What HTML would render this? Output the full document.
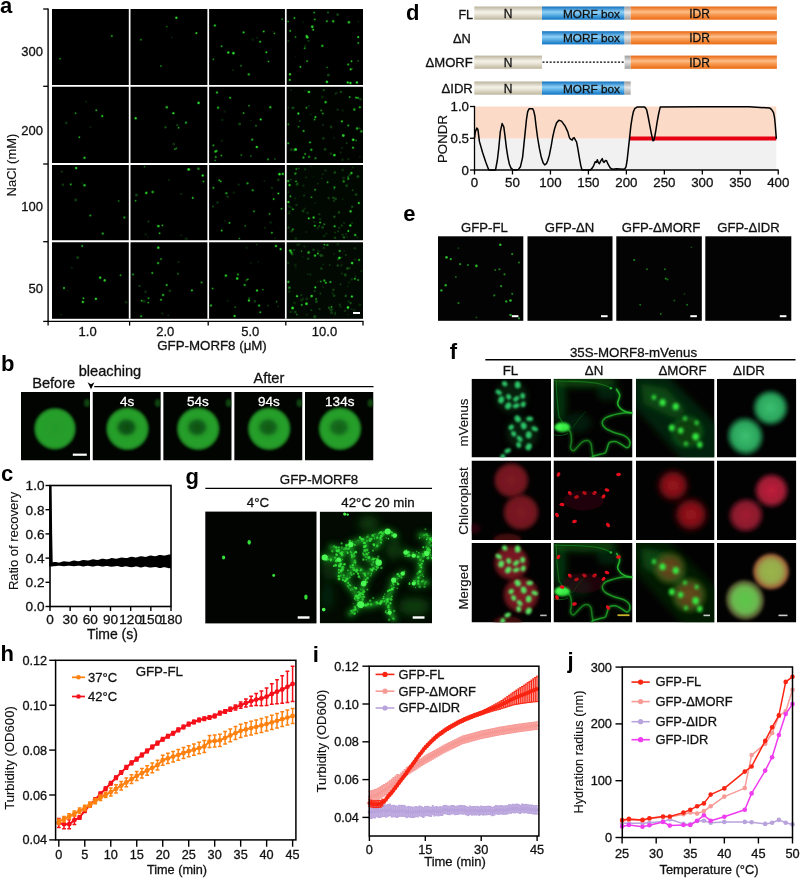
<!DOCTYPE html>
<html lang="en"><head><meta charset="utf-8"><title>Figure</title>
<style>
html,body{margin:0;padding:0;background:#fff;}
body{width:800px;height:878px;overflow:hidden;font-family:'Liberation Sans',Arial,sans-serif;}
svg{display:block;}
svg text{font-family:'Liberation Sans',Arial,sans-serif;}
</style></head><body>
<svg width="800" height="878" viewBox="0 0 800 878">

<defs>
<filter id="b05" x="-20%" y="-20%" width="140%" height="140%"><feGaussianBlur stdDeviation="0.5"/></filter>
<filter id="b1" x="-20%" y="-20%" width="140%" height="140%"><feGaussianBlur stdDeviation="1"/></filter>
<filter id="b15" x="-20%" y="-20%" width="140%" height="140%"><feGaussianBlur stdDeviation="1.5"/></filter>
<filter id="b2" x="-30%" y="-30%" width="160%" height="160%"><feGaussianBlur stdDeviation="2"/></filter>
<filter id="b3" x="-30%" y="-30%" width="160%" height="160%"><feGaussianBlur stdDeviation="3"/></filter>
<filter id="b5" x="-50%" y="-50%" width="200%" height="200%"><feGaussianBlur stdDeviation="5"/></filter>
<linearGradient id="gN" x1="0" y1="0" x2="0" y2="1"><stop offset="0" stop-color="#b9b19a"/><stop offset="0.4" stop-color="#f3f0e6"/><stop offset="0.55" stop-color="#eeeadd"/><stop offset="1" stop-color="#bdb59d"/></linearGradient>
<linearGradient id="gM" x1="0" y1="0" x2="0" y2="1"><stop offset="0" stop-color="#0f6fbf"/><stop offset="0.42" stop-color="#8fd0f5"/><stop offset="0.55" stop-color="#6fbdec"/><stop offset="1" stop-color="#0f74c4"/></linearGradient>
<linearGradient id="gI" x1="0" y1="0" x2="0" y2="1"><stop offset="0" stop-color="#e9650f"/><stop offset="0.42" stop-color="#fdc08a"/><stop offset="0.55" stop-color="#f9a35e"/><stop offset="1" stop-color="#ea6a12"/></linearGradient>
<linearGradient id="gG" x1="0" y1="0" x2="0" y2="1"><stop offset="0" stop-color="#9a9a9a"/><stop offset="0.45" stop-color="#e6e6e6"/><stop offset="1" stop-color="#9e9e9e"/></linearGradient>
</defs>

<g id="panel-a">
<text x="0" y="12.5" font-size="22" text-anchor="start" font-weight="bold" fill="#000">a</text>
<rect x="52" y="9" width="311" height="309.8" fill="#000"/>
<g filter="url(#b05)"><circle cx="60.1" cy="58.7" r="1.3" fill="#18a018" opacity="0.24"/><circle cx="60.1" cy="58.7" r="0.8" fill="#30e830" opacity="0.53"/><circle cx="111.8" cy="36.0" r="1.5" fill="#18a018" opacity="0.22"/><circle cx="111.8" cy="36.0" r="1.0" fill="#30e830" opacity="0.49"/></g>
<g filter="url(#b05)"><circle cx="171.7" cy="37.2" r="0.8" fill="#2fbf2f" opacity="0.25"/><circle cx="140.9" cy="39.7" r="1.2" fill="#18a018" opacity="0.31"/><circle cx="140.9" cy="39.7" r="0.6" fill="#30e830" opacity="0.69"/><circle cx="166.8" cy="26.6" r="1.2" fill="#18a018" opacity="0.22"/><circle cx="166.8" cy="26.6" r="0.6" fill="#30e830" opacity="0.50"/><circle cx="196.4" cy="33.1" r="1.4" fill="#18a018" opacity="0.41"/><circle cx="196.4" cy="33.1" r="0.9" fill="#30e830" opacity="0.90"/><circle cx="160.9" cy="66.0" r="1.2" fill="#18a018" opacity="0.26"/><circle cx="160.9" cy="66.0" r="0.7" fill="#30e830" opacity="0.57"/><circle cx="176.4" cy="17.8" r="1.5" fill="#18a018" opacity="0.44"/><circle cx="176.4" cy="17.8" r="1.0" fill="#30e830" opacity="0.97"/></g>
<g filter="url(#b05)"><circle cx="252.6" cy="39.5" r="1.6" fill="#2fbf2f" opacity="0.13"/><circle cx="273.2" cy="31.6" r="0.9" fill="#2fbf2f" opacity="0.15"/><circle cx="233.0" cy="70.1" r="0.9" fill="#2fbf2f" opacity="0.27"/><circle cx="257.1" cy="37.7" r="1.2" fill="#2fbf2f" opacity="0.14"/><circle cx="214.9" cy="25.5" r="1.6" fill="#18a018" opacity="0.35"/><circle cx="214.9" cy="25.5" r="1.0" fill="#30e830" opacity="0.78"/><circle cx="260.2" cy="41.7" r="1.5" fill="#18a018" opacity="0.32"/><circle cx="260.2" cy="41.7" r="0.9" fill="#30e830" opacity="0.70"/><circle cx="233.4" cy="53.2" r="1.7" fill="#18a018" opacity="0.44"/><circle cx="233.4" cy="53.2" r="1.1" fill="#30e830" opacity="0.97"/><circle cx="243.6" cy="32.4" r="1.4" fill="#18a018" opacity="0.37"/><circle cx="243.6" cy="32.4" r="0.9" fill="#30e830" opacity="0.82"/><circle cx="268.5" cy="61.5" r="1.2" fill="#18a018" opacity="0.38"/><circle cx="268.5" cy="61.5" r="0.6" fill="#30e830" opacity="0.84"/><circle cx="228.3" cy="52.4" r="1.5" fill="#18a018" opacity="0.45"/><circle cx="228.3" cy="52.4" r="1.0" fill="#30e830" opacity="1.00"/><circle cx="248.8" cy="74.4" r="1.6" fill="#18a018" opacity="0.27"/><circle cx="248.8" cy="74.4" r="1.1" fill="#30e830" opacity="0.61"/><circle cx="263.7" cy="31.5" r="1.4" fill="#18a018" opacity="0.37"/><circle cx="263.7" cy="31.5" r="0.8" fill="#30e830" opacity="0.82"/><circle cx="282.1" cy="19.1" r="1.2" fill="#18a018" opacity="0.32"/><circle cx="282.1" cy="19.1" r="0.6" fill="#30e830" opacity="0.70"/><circle cx="241.0" cy="65.8" r="1.3" fill="#18a018" opacity="0.23"/><circle cx="241.0" cy="65.8" r="0.7" fill="#30e830" opacity="0.51"/><circle cx="221.6" cy="46.2" r="1.2" fill="#18a018" opacity="0.39"/><circle cx="221.6" cy="46.2" r="0.6" fill="#30e830" opacity="0.87"/><circle cx="213.4" cy="59.3" r="1.2" fill="#18a018" opacity="0.26"/><circle cx="213.4" cy="59.3" r="0.7" fill="#30e830" opacity="0.59"/><circle cx="266.3" cy="52.3" r="1.4" fill="#18a018" opacity="0.42"/><circle cx="266.3" cy="52.3" r="0.8" fill="#30e830" opacity="0.93"/><circle cx="274.4" cy="33.4" r="1.2" fill="#18a018" opacity="0.31"/><circle cx="274.4" cy="33.4" r="0.6" fill="#30e830" opacity="0.70"/></g>
<g filter="url(#b05)"><circle cx="328.4" cy="75.0" r="1.5" fill="#2fbf2f" opacity="0.34"/><circle cx="308.5" cy="40.8" r="1.1" fill="#2fbf2f" opacity="0.34"/><circle cx="358.4" cy="21.5" r="0.9" fill="#2fbf2f" opacity="0.18"/><circle cx="305.2" cy="45.9" r="1.3" fill="#2fbf2f" opacity="0.19"/><circle cx="288.4" cy="41.1" r="1.1" fill="#2fbf2f" opacity="0.26"/><circle cx="358.1" cy="60.9" r="1.2" fill="#2fbf2f" opacity="0.27"/><circle cx="337.7" cy="14.4" r="1.5" fill="#2fbf2f" opacity="0.31"/><circle cx="352.3" cy="68.7" r="1.1" fill="#2fbf2f" opacity="0.22"/><circle cx="295.7" cy="56.8" r="0.8" fill="#2fbf2f" opacity="0.14"/><circle cx="303.4" cy="22.3" r="1.1" fill="#2fbf2f" opacity="0.13"/><circle cx="288.1" cy="21.5" r="1.3" fill="#18a018" opacity="0.26"/><circle cx="288.1" cy="21.5" r="0.7" fill="#30e830" opacity="0.57"/><circle cx="295.5" cy="37.0" r="1.3" fill="#18a018" opacity="0.25"/><circle cx="295.5" cy="37.0" r="0.7" fill="#30e830" opacity="0.56"/><circle cx="290.0" cy="74.3" r="1.5" fill="#18a018" opacity="0.43"/><circle cx="290.0" cy="74.3" r="1.0" fill="#30e830" opacity="0.95"/><circle cx="333.2" cy="21.3" r="1.7" fill="#18a018" opacity="0.32"/><circle cx="333.2" cy="21.3" r="1.1" fill="#30e830" opacity="0.71"/><circle cx="306.6" cy="35.9" r="1.5" fill="#18a018" opacity="0.40"/><circle cx="306.6" cy="35.9" r="1.0" fill="#30e830" opacity="0.89"/><circle cx="314.8" cy="19.5" r="1.2" fill="#18a018" opacity="0.37"/><circle cx="314.8" cy="19.5" r="0.7" fill="#30e830" opacity="0.81"/><circle cx="350.4" cy="83.0" r="1.7" fill="#18a018" opacity="0.40"/><circle cx="350.4" cy="83.0" r="1.1" fill="#30e830" opacity="0.88"/><circle cx="322.3" cy="45.8" r="1.6" fill="#18a018" opacity="0.32"/><circle cx="322.3" cy="45.8" r="1.1" fill="#30e830" opacity="0.71"/><circle cx="294.4" cy="18.0" r="1.3" fill="#18a018" opacity="0.40"/><circle cx="294.4" cy="18.0" r="0.7" fill="#30e830" opacity="0.88"/><circle cx="313.2" cy="29.8" r="1.3" fill="#18a018" opacity="0.40"/><circle cx="313.2" cy="29.8" r="0.8" fill="#30e830" opacity="0.89"/><circle cx="348.9" cy="22.3" r="1.7" fill="#18a018" opacity="0.30"/><circle cx="348.9" cy="22.3" r="1.2" fill="#30e830" opacity="0.67"/><circle cx="289.8" cy="79.9" r="1.4" fill="#18a018" opacity="0.44"/><circle cx="289.8" cy="79.9" r="0.8" fill="#30e830" opacity="0.97"/><circle cx="326.9" cy="21.2" r="1.6" fill="#18a018" opacity="0.24"/><circle cx="326.9" cy="21.2" r="1.0" fill="#30e830" opacity="0.54"/><circle cx="328.0" cy="12.5" r="1.2" fill="#18a018" opacity="0.24"/><circle cx="328.0" cy="12.5" r="0.7" fill="#30e830" opacity="0.53"/><circle cx="326.9" cy="81.9" r="1.7" fill="#18a018" opacity="0.40"/><circle cx="326.9" cy="81.9" r="1.1" fill="#30e830" opacity="0.89"/><circle cx="351.5" cy="61.3" r="1.2" fill="#18a018" opacity="0.41"/><circle cx="351.5" cy="61.3" r="0.7" fill="#30e830" opacity="0.90"/><circle cx="307.3" cy="37.3" r="1.7" fill="#18a018" opacity="0.37"/><circle cx="307.3" cy="37.3" r="1.2" fill="#30e830" opacity="0.81"/><circle cx="300.4" cy="66.9" r="1.4" fill="#18a018" opacity="0.34"/><circle cx="300.4" cy="66.9" r="0.8" fill="#30e830" opacity="0.75"/><circle cx="327.2" cy="67.4" r="1.2" fill="#18a018" opacity="0.21"/><circle cx="327.2" cy="67.4" r="0.7" fill="#30e830" opacity="0.46"/><circle cx="312.3" cy="26.8" r="1.7" fill="#18a018" opacity="0.36"/><circle cx="312.3" cy="26.8" r="1.2" fill="#30e830" opacity="0.81"/><circle cx="347.7" cy="82.4" r="1.5" fill="#18a018" opacity="0.43"/><circle cx="347.7" cy="82.4" r="0.9" fill="#30e830" opacity="0.96"/><circle cx="350.7" cy="69.3" r="1.4" fill="#18a018" opacity="0.42"/><circle cx="350.7" cy="69.3" r="0.9" fill="#30e830" opacity="0.93"/><circle cx="348.2" cy="64.5" r="1.6" fill="#18a018" opacity="0.25"/><circle cx="348.2" cy="64.5" r="1.1" fill="#30e830" opacity="0.57"/><circle cx="304.7" cy="48.3" r="1.3" fill="#18a018" opacity="0.28"/><circle cx="304.7" cy="48.3" r="0.8" fill="#30e830" opacity="0.61"/><circle cx="314.2" cy="12.6" r="1.3" fill="#18a018" opacity="0.35"/><circle cx="314.2" cy="12.6" r="0.7" fill="#30e830" opacity="0.77"/><circle cx="290.2" cy="30.9" r="1.3" fill="#18a018" opacity="0.31"/><circle cx="290.2" cy="30.9" r="0.8" fill="#30e830" opacity="0.68"/><circle cx="307.1" cy="61.1" r="1.2" fill="#18a018" opacity="0.43"/><circle cx="307.1" cy="61.1" r="0.7" fill="#30e830" opacity="0.95"/><circle cx="358.3" cy="43.1" r="1.4" fill="#18a018" opacity="0.32"/><circle cx="358.3" cy="43.1" r="0.8" fill="#30e830" opacity="0.70"/><circle cx="356.9" cy="82.6" r="1.5" fill="#18a018" opacity="0.43"/><circle cx="356.9" cy="82.6" r="1.0" fill="#30e830" opacity="0.95"/><circle cx="358.2" cy="37.1" r="1.4" fill="#18a018" opacity="0.43"/><circle cx="358.2" cy="37.1" r="0.9" fill="#30e830" opacity="0.95"/></g>
<g filter="url(#b05)"><circle cx="90.5" cy="127.2" r="1.2" fill="#2fbf2f" opacity="0.12"/><circle cx="86.0" cy="101.7" r="0.8" fill="#2fbf2f" opacity="0.32"/><circle cx="66.2" cy="123.0" r="1.4" fill="#2fbf2f" opacity="0.26"/><circle cx="96.3" cy="110.3" r="1.3" fill="#18a018" opacity="0.33"/><circle cx="96.3" cy="110.3" r="0.8" fill="#30e830" opacity="0.74"/><circle cx="102.2" cy="116.1" r="1.5" fill="#18a018" opacity="0.40"/><circle cx="102.2" cy="116.1" r="0.9" fill="#30e830" opacity="0.88"/><circle cx="79.3" cy="137.3" r="1.2" fill="#18a018" opacity="0.34"/><circle cx="79.3" cy="137.3" r="0.7" fill="#30e830" opacity="0.76"/><circle cx="75.6" cy="113.2" r="1.3" fill="#18a018" opacity="0.27"/><circle cx="75.6" cy="113.2" r="0.7" fill="#30e830" opacity="0.60"/><circle cx="84.5" cy="157.8" r="1.6" fill="#18a018" opacity="0.33"/><circle cx="84.5" cy="157.8" r="1.1" fill="#30e830" opacity="0.73"/></g>
<g filter="url(#b05)"><circle cx="173.6" cy="143.9" r="1.5" fill="#2fbf2f" opacity="0.23"/><circle cx="177.3" cy="125.3" r="1.2" fill="#2fbf2f" opacity="0.29"/><circle cx="165.5" cy="127.3" r="1.2" fill="#2fbf2f" opacity="0.36"/><circle cx="135.7" cy="118.3" r="1.6" fill="#18a018" opacity="0.42"/><circle cx="135.7" cy="118.3" r="1.0" fill="#30e830" opacity="0.93"/><circle cx="166.8" cy="107.3" r="1.7" fill="#18a018" opacity="0.27"/><circle cx="166.8" cy="107.3" r="1.2" fill="#30e830" opacity="0.59"/><circle cx="173.4" cy="113.2" r="1.5" fill="#18a018" opacity="0.44"/><circle cx="173.4" cy="113.2" r="0.9" fill="#30e830" opacity="0.97"/><circle cx="186.0" cy="122.7" r="1.7" fill="#18a018" opacity="0.24"/><circle cx="186.0" cy="122.7" r="1.1" fill="#30e830" opacity="0.53"/><circle cx="178.6" cy="127.8" r="1.2" fill="#18a018" opacity="0.31"/><circle cx="178.6" cy="127.8" r="0.7" fill="#30e830" opacity="0.69"/><circle cx="176.4" cy="148.3" r="1.2" fill="#18a018" opacity="0.26"/><circle cx="176.4" cy="148.3" r="0.6" fill="#30e830" opacity="0.58"/><circle cx="174.9" cy="149.1" r="1.2" fill="#18a018" opacity="0.37"/><circle cx="174.9" cy="149.1" r="0.6" fill="#30e830" opacity="0.82"/><circle cx="198.6" cy="102.9" r="1.6" fill="#18a018" opacity="0.42"/><circle cx="198.6" cy="102.9" r="1.1" fill="#30e830" opacity="0.94"/></g>
<g filter="url(#b05)"><circle cx="221.8" cy="140.7" r="1.3" fill="#2fbf2f" opacity="0.16"/><circle cx="274.9" cy="159.1" r="1.0" fill="#2fbf2f" opacity="0.36"/><circle cx="239.6" cy="124.0" r="1.6" fill="#2fbf2f" opacity="0.33"/><circle cx="222.3" cy="119.9" r="1.2" fill="#2fbf2f" opacity="0.20"/><circle cx="224.8" cy="111.6" r="1.4" fill="#2fbf2f" opacity="0.12"/><circle cx="250.9" cy="120.5" r="0.8" fill="#2fbf2f" opacity="0.20"/><circle cx="256.0" cy="125.8" r="1.2" fill="#18a018" opacity="0.24"/><circle cx="256.0" cy="125.8" r="0.7" fill="#30e830" opacity="0.54"/><circle cx="215.2" cy="160.4" r="1.2" fill="#18a018" opacity="0.25"/><circle cx="215.2" cy="160.4" r="0.6" fill="#30e830" opacity="0.56"/><circle cx="268.1" cy="159.4" r="1.3" fill="#18a018" opacity="0.28"/><circle cx="268.1" cy="159.4" r="0.8" fill="#30e830" opacity="0.62"/><circle cx="218.1" cy="107.7" r="1.6" fill="#18a018" opacity="0.27"/><circle cx="218.1" cy="107.7" r="1.1" fill="#30e830" opacity="0.61"/><circle cx="213.4" cy="145.3" r="1.5" fill="#18a018" opacity="0.25"/><circle cx="213.4" cy="145.3" r="0.9" fill="#30e830" opacity="0.55"/><circle cx="230.2" cy="97.8" r="1.4" fill="#18a018" opacity="0.21"/><circle cx="230.2" cy="97.8" r="0.8" fill="#30e830" opacity="0.46"/><circle cx="241.3" cy="155.0" r="1.3" fill="#18a018" opacity="0.21"/><circle cx="241.3" cy="155.0" r="0.8" fill="#30e830" opacity="0.46"/><circle cx="270.3" cy="107.2" r="1.6" fill="#18a018" opacity="0.34"/><circle cx="270.3" cy="107.2" r="1.0" fill="#30e830" opacity="0.75"/><circle cx="221.4" cy="155.6" r="1.3" fill="#18a018" opacity="0.32"/><circle cx="221.4" cy="155.6" r="0.7" fill="#30e830" opacity="0.71"/><circle cx="252.2" cy="139.6" r="1.7" fill="#18a018" opacity="0.23"/><circle cx="252.2" cy="139.6" r="1.2" fill="#30e830" opacity="0.51"/><circle cx="217.0" cy="92.5" r="1.6" fill="#18a018" opacity="0.31"/><circle cx="217.0" cy="92.5" r="1.1" fill="#30e830" opacity="0.69"/><circle cx="260.7" cy="119.4" r="1.4" fill="#18a018" opacity="0.41"/><circle cx="260.7" cy="119.4" r="0.9" fill="#30e830" opacity="0.91"/><circle cx="215.8" cy="157.0" r="1.4" fill="#18a018" opacity="0.33"/><circle cx="215.8" cy="157.0" r="0.8" fill="#30e830" opacity="0.73"/><circle cx="256.8" cy="147.0" r="1.6" fill="#18a018" opacity="0.45"/><circle cx="256.8" cy="147.0" r="1.0" fill="#30e830" opacity="0.99"/><circle cx="216.6" cy="151.0" r="1.4" fill="#18a018" opacity="0.41"/><circle cx="216.6" cy="151.0" r="0.8" fill="#30e830" opacity="0.91"/><circle cx="215.4" cy="151.5" r="1.6" fill="#18a018" opacity="0.36"/><circle cx="215.4" cy="151.5" r="1.0" fill="#30e830" opacity="0.80"/><circle cx="243.6" cy="113.1" r="1.4" fill="#18a018" opacity="0.29"/><circle cx="243.6" cy="113.1" r="0.8" fill="#30e830" opacity="0.64"/><circle cx="250.9" cy="156.1" r="1.2" fill="#18a018" opacity="0.23"/><circle cx="250.9" cy="156.1" r="0.6" fill="#30e830" opacity="0.52"/><circle cx="230.1" cy="97.8" r="1.2" fill="#18a018" opacity="0.39"/><circle cx="230.1" cy="97.8" r="0.6" fill="#30e830" opacity="0.86"/><circle cx="249.0" cy="105.8" r="1.3" fill="#18a018" opacity="0.24"/><circle cx="249.0" cy="105.8" r="0.8" fill="#30e830" opacity="0.54"/></g>
<rect x="286.6" y="86.8" width="76.4" height="76.2" fill="#1c9a1c" opacity="0.02"/>
<g filter="url(#b05)"><circle cx="294.3" cy="149.9" r="1.5" fill="#2fbf2f" opacity="0.29"/><circle cx="308.8" cy="106.0" r="1.0" fill="#2fbf2f" opacity="0.23"/><circle cx="299.7" cy="120.9" r="1.0" fill="#2fbf2f" opacity="0.36"/><circle cx="359.5" cy="128.3" r="1.0" fill="#2fbf2f" opacity="0.36"/><circle cx="310.8" cy="114.4" r="0.8" fill="#2fbf2f" opacity="0.22"/><circle cx="322.9" cy="125.1" r="1.0" fill="#2fbf2f" opacity="0.25"/><circle cx="288.5" cy="107.6" r="0.9" fill="#2fbf2f" opacity="0.22"/><circle cx="291.2" cy="89.9" r="1.0" fill="#2fbf2f" opacity="0.18"/><circle cx="331.1" cy="127.0" r="1.4" fill="#2fbf2f" opacity="0.28"/><circle cx="340.7" cy="152.6" r="1.1" fill="#2fbf2f" opacity="0.20"/><circle cx="360.4" cy="99.2" r="1.4" fill="#2fbf2f" opacity="0.28"/><circle cx="291.3" cy="149.4" r="1.5" fill="#2fbf2f" opacity="0.28"/><circle cx="342.0" cy="147.8" r="0.9" fill="#2fbf2f" opacity="0.25"/><circle cx="325.1" cy="149.4" r="1.4" fill="#2fbf2f" opacity="0.33"/><circle cx="331.0" cy="153.7" r="1.3" fill="#2fbf2f" opacity="0.29"/><circle cx="305.0" cy="90.6" r="0.9" fill="#2fbf2f" opacity="0.21"/><circle cx="295.8" cy="149.5" r="1.2" fill="#2fbf2f" opacity="0.28"/><circle cx="334.1" cy="138.1" r="1.2" fill="#2fbf2f" opacity="0.12"/><circle cx="346.7" cy="143.1" r="1.2" fill="#2fbf2f" opacity="0.25"/><circle cx="336.5" cy="93.1" r="1.4" fill="#2fbf2f" opacity="0.18"/><circle cx="293.6" cy="107.7" r="1.4" fill="#2fbf2f" opacity="0.17"/><circle cx="342.4" cy="159.7" r="1.2" fill="#2fbf2f" opacity="0.22"/><circle cx="323.3" cy="138.3" r="1.4" fill="#2fbf2f" opacity="0.27"/><circle cx="335.3" cy="94.0" r="0.9" fill="#2fbf2f" opacity="0.18"/><circle cx="342.7" cy="110.6" r="1.3" fill="#2fbf2f" opacity="0.12"/><circle cx="292.6" cy="108.0" r="1.3" fill="#2fbf2f" opacity="0.29"/><circle cx="337.7" cy="109.6" r="1.2" fill="#2fbf2f" opacity="0.24"/><circle cx="322.3" cy="97.0" r="1.5" fill="#2fbf2f" opacity="0.17"/><circle cx="359.9" cy="156.8" r="0.8" fill="#2fbf2f" opacity="0.23"/><circle cx="348.3" cy="159.2" r="1.2" fill="#2fbf2f" opacity="0.19"/><circle cx="303.5" cy="157.5" r="1.5" fill="#18a018" opacity="0.28"/><circle cx="303.5" cy="157.5" r="1.0" fill="#30e830" opacity="0.62"/><circle cx="303.6" cy="130.9" r="1.5" fill="#18a018" opacity="0.30"/><circle cx="303.6" cy="130.9" r="0.9" fill="#30e830" opacity="0.67"/><circle cx="298.5" cy="126.7" r="1.3" fill="#18a018" opacity="0.24"/><circle cx="298.5" cy="126.7" r="0.7" fill="#30e830" opacity="0.54"/><circle cx="358.0" cy="98.0" r="1.3" fill="#18a018" opacity="0.43"/><circle cx="358.0" cy="98.0" r="0.7" fill="#30e830" opacity="0.95"/><circle cx="348.3" cy="125.5" r="1.4" fill="#18a018" opacity="0.26"/><circle cx="348.3" cy="125.5" r="0.9" fill="#30e830" opacity="0.57"/><circle cx="353.2" cy="139.8" r="1.7" fill="#18a018" opacity="0.45"/><circle cx="353.2" cy="139.8" r="1.1" fill="#30e830" opacity="1.00"/><circle cx="305.1" cy="154.0" r="1.4" fill="#18a018" opacity="0.24"/><circle cx="305.1" cy="154.0" r="0.9" fill="#30e830" opacity="0.53"/><circle cx="323.8" cy="90.1" r="1.3" fill="#18a018" opacity="0.22"/><circle cx="323.8" cy="90.1" r="0.7" fill="#30e830" opacity="0.50"/><circle cx="288.4" cy="124.3" r="1.4" fill="#18a018" opacity="0.23"/><circle cx="288.4" cy="124.3" r="0.8" fill="#30e830" opacity="0.50"/><circle cx="321.2" cy="110.4" r="1.3" fill="#18a018" opacity="0.27"/><circle cx="321.2" cy="110.4" r="0.7" fill="#30e830" opacity="0.59"/><circle cx="298.4" cy="113.5" r="1.5" fill="#18a018" opacity="0.42"/><circle cx="298.4" cy="113.5" r="0.9" fill="#30e830" opacity="0.94"/><circle cx="311.3" cy="149.8" r="1.6" fill="#18a018" opacity="0.30"/><circle cx="311.3" cy="149.8" r="1.0" fill="#30e830" opacity="0.68"/><circle cx="288.2" cy="143.3" r="1.4" fill="#18a018" opacity="0.33"/><circle cx="288.2" cy="143.3" r="0.8" fill="#30e830" opacity="0.74"/><circle cx="349.7" cy="97.1" r="1.4" fill="#18a018" opacity="0.29"/><circle cx="349.7" cy="97.1" r="0.8" fill="#30e830" opacity="0.64"/><circle cx="356.1" cy="140.5" r="1.2" fill="#18a018" opacity="0.27"/><circle cx="356.1" cy="140.5" r="0.6" fill="#30e830" opacity="0.60"/><circle cx="354.3" cy="109.5" r="1.7" fill="#18a018" opacity="0.23"/><circle cx="354.3" cy="109.5" r="1.2" fill="#30e830" opacity="0.52"/><circle cx="315.4" cy="117.1" r="1.5" fill="#18a018" opacity="0.36"/><circle cx="315.4" cy="117.1" r="0.9" fill="#30e830" opacity="0.80"/><circle cx="361.4" cy="131.4" r="1.7" fill="#18a018" opacity="0.26"/><circle cx="361.4" cy="131.4" r="1.1" fill="#30e830" opacity="0.57"/><circle cx="314.6" cy="119.6" r="1.3" fill="#18a018" opacity="0.26"/><circle cx="314.6" cy="119.6" r="0.8" fill="#30e830" opacity="0.59"/><circle cx="308.3" cy="91.8" r="1.4" fill="#18a018" opacity="0.31"/><circle cx="308.3" cy="91.8" r="0.8" fill="#30e830" opacity="0.70"/><circle cx="295.6" cy="149.4" r="1.7" fill="#18a018" opacity="0.41"/><circle cx="295.6" cy="149.4" r="1.2" fill="#30e830" opacity="0.92"/><circle cx="309.1" cy="156.8" r="1.7" fill="#18a018" opacity="0.21"/><circle cx="309.1" cy="156.8" r="1.1" fill="#30e830" opacity="0.46"/><circle cx="306.4" cy="107.8" r="1.2" fill="#18a018" opacity="0.38"/><circle cx="306.4" cy="107.8" r="0.6" fill="#30e830" opacity="0.84"/><circle cx="325.6" cy="102.2" r="1.7" fill="#18a018" opacity="0.32"/><circle cx="325.6" cy="102.2" r="1.1" fill="#30e830" opacity="0.71"/><circle cx="315.5" cy="158.3" r="1.5" fill="#18a018" opacity="0.20"/><circle cx="315.5" cy="158.3" r="1.0" fill="#30e830" opacity="0.45"/><circle cx="353.0" cy="147.7" r="1.4" fill="#18a018" opacity="0.43"/><circle cx="353.0" cy="147.7" r="0.8" fill="#30e830" opacity="0.96"/><circle cx="334.4" cy="155.2" r="1.6" fill="#18a018" opacity="0.41"/><circle cx="334.4" cy="155.2" r="1.1" fill="#30e830" opacity="0.92"/><circle cx="357.1" cy="128.5" r="1.7" fill="#18a018" opacity="0.26"/><circle cx="357.1" cy="128.5" r="1.2" fill="#30e830" opacity="0.59"/><circle cx="340.9" cy="91.9" r="1.2" fill="#18a018" opacity="0.24"/><circle cx="340.9" cy="91.9" r="0.7" fill="#30e830" opacity="0.53"/><circle cx="341.9" cy="121.3" r="1.5" fill="#18a018" opacity="0.37"/><circle cx="341.9" cy="121.3" r="0.9" fill="#30e830" opacity="0.83"/><circle cx="343.3" cy="135.5" r="1.7" fill="#18a018" opacity="0.38"/><circle cx="343.3" cy="135.5" r="1.2" fill="#30e830" opacity="0.85"/><circle cx="309.1" cy="91.9" r="1.5" fill="#18a018" opacity="0.39"/><circle cx="309.1" cy="91.9" r="1.0" fill="#30e830" opacity="0.87"/><circle cx="356.1" cy="97.6" r="1.4" fill="#18a018" opacity="0.34"/><circle cx="356.1" cy="97.6" r="0.9" fill="#30e830" opacity="0.75"/><circle cx="322.8" cy="113.5" r="1.2" fill="#18a018" opacity="0.40"/><circle cx="322.8" cy="113.5" r="0.6" fill="#30e830" opacity="0.88"/><circle cx="310.0" cy="142.4" r="1.3" fill="#18a018" opacity="0.43"/><circle cx="310.0" cy="142.4" r="0.7" fill="#30e830" opacity="0.96"/><circle cx="359.8" cy="107.3" r="1.5" fill="#18a018" opacity="0.28"/><circle cx="359.8" cy="107.3" r="1.0" fill="#30e830" opacity="0.62"/></g>
<g filter="url(#b05)"><circle cx="62.9" cy="184.8" r="1.3" fill="#2fbf2f" opacity="0.29"/><circle cx="61.8" cy="171.6" r="1.2" fill="#2fbf2f" opacity="0.27"/><circle cx="82.1" cy="182.7" r="1.3" fill="#2fbf2f" opacity="0.12"/><circle cx="75.8" cy="199.9" r="1.6" fill="#2fbf2f" opacity="0.28"/><circle cx="118.7" cy="201.0" r="1.3" fill="#18a018" opacity="0.21"/><circle cx="118.7" cy="201.0" r="0.7" fill="#30e830" opacity="0.47"/><circle cx="70.8" cy="184.4" r="1.4" fill="#18a018" opacity="0.31"/><circle cx="70.8" cy="184.4" r="0.8" fill="#30e830" opacity="0.68"/><circle cx="124.4" cy="217.6" r="1.6" fill="#18a018" opacity="0.25"/><circle cx="124.4" cy="217.6" r="1.0" fill="#30e830" opacity="0.56"/><circle cx="76.2" cy="168.1" r="1.6" fill="#18a018" opacity="0.39"/><circle cx="76.2" cy="168.1" r="1.1" fill="#30e830" opacity="0.86"/><circle cx="90.3" cy="215.4" r="1.5" fill="#18a018" opacity="0.25"/><circle cx="90.3" cy="215.4" r="0.9" fill="#30e830" opacity="0.56"/><circle cx="84.5" cy="185.2" r="1.7" fill="#18a018" opacity="0.28"/><circle cx="84.5" cy="185.2" r="1.2" fill="#30e830" opacity="0.62"/><circle cx="102.8" cy="233.6" r="1.6" fill="#18a018" opacity="0.26"/><circle cx="102.8" cy="233.6" r="1.1" fill="#30e830" opacity="0.58"/></g>
<g filter="url(#b05)"><circle cx="148.4" cy="221.6" r="1.0" fill="#2fbf2f" opacity="0.36"/><circle cx="168.7" cy="180.1" r="1.0" fill="#2fbf2f" opacity="0.22"/><circle cx="181.2" cy="235.3" r="0.9" fill="#2fbf2f" opacity="0.22"/><circle cx="147.8" cy="237.1" r="0.9" fill="#2fbf2f" opacity="0.13"/><circle cx="136.5" cy="195.0" r="1.5" fill="#2fbf2f" opacity="0.34"/><circle cx="186.2" cy="238.8" r="1.5" fill="#2fbf2f" opacity="0.20"/><circle cx="145.7" cy="234.4" r="1.4" fill="#2fbf2f" opacity="0.13"/><circle cx="181.2" cy="193.9" r="1.1" fill="#2fbf2f" opacity="0.20"/><circle cx="144.5" cy="166.7" r="1.2" fill="#18a018" opacity="0.22"/><circle cx="144.5" cy="166.7" r="0.6" fill="#30e830" opacity="0.48"/><circle cx="152.7" cy="192.0" r="1.7" fill="#18a018" opacity="0.27"/><circle cx="152.7" cy="192.0" r="1.2" fill="#30e830" opacity="0.59"/><circle cx="202.7" cy="175.5" r="1.6" fill="#18a018" opacity="0.42"/><circle cx="202.7" cy="175.5" r="1.0" fill="#30e830" opacity="0.94"/><circle cx="203.4" cy="181.5" r="1.4" fill="#18a018" opacity="0.27"/><circle cx="203.4" cy="181.5" r="0.8" fill="#30e830" opacity="0.60"/><circle cx="158.4" cy="226.1" r="1.7" fill="#18a018" opacity="0.36"/><circle cx="158.4" cy="226.1" r="1.2" fill="#30e830" opacity="0.79"/><circle cx="192.8" cy="197.9" r="1.3" fill="#18a018" opacity="0.38"/><circle cx="192.8" cy="197.9" r="0.8" fill="#30e830" opacity="0.84"/><circle cx="135.6" cy="200.8" r="1.3" fill="#18a018" opacity="0.27"/><circle cx="135.6" cy="200.8" r="0.8" fill="#30e830" opacity="0.60"/><circle cx="159.6" cy="233.2" r="1.2" fill="#18a018" opacity="0.39"/><circle cx="159.6" cy="233.2" r="0.6" fill="#30e830" opacity="0.87"/><circle cx="146.3" cy="192.9" r="1.7" fill="#18a018" opacity="0.36"/><circle cx="146.3" cy="192.9" r="1.1" fill="#30e830" opacity="0.80"/><circle cx="198.4" cy="168.7" r="1.7" fill="#18a018" opacity="0.21"/><circle cx="198.4" cy="168.7" r="1.2" fill="#30e830" opacity="0.46"/><circle cx="162.4" cy="225.4" r="1.3" fill="#18a018" opacity="0.32"/><circle cx="162.4" cy="225.4" r="0.7" fill="#30e830" opacity="0.71"/><circle cx="188.7" cy="169.4" r="1.7" fill="#18a018" opacity="0.44"/><circle cx="188.7" cy="169.4" r="1.2" fill="#30e830" opacity="0.97"/></g>
<g filter="url(#b05)"><circle cx="238.7" cy="184.7" r="1.1" fill="#2fbf2f" opacity="0.24"/><circle cx="278.3" cy="179.8" r="1.4" fill="#2fbf2f" opacity="0.30"/><circle cx="270.6" cy="222.5" r="1.3" fill="#2fbf2f" opacity="0.20"/><circle cx="233.8" cy="192.7" r="1.4" fill="#2fbf2f" opacity="0.14"/><circle cx="224.9" cy="221.1" r="1.0" fill="#2fbf2f" opacity="0.14"/><circle cx="213.0" cy="206.6" r="1.1" fill="#2fbf2f" opacity="0.37"/><circle cx="275.0" cy="238.1" r="1.0" fill="#2fbf2f" opacity="0.14"/><circle cx="217.5" cy="202.6" r="1.4" fill="#2fbf2f" opacity="0.23"/><circle cx="227.6" cy="196.7" r="1.3" fill="#2fbf2f" opacity="0.29"/><circle cx="265.1" cy="227.9" r="1.3" fill="#2fbf2f" opacity="0.15"/><circle cx="271.9" cy="187.8" r="1.3" fill="#2fbf2f" opacity="0.21"/><circle cx="264.4" cy="180.9" r="1.0" fill="#2fbf2f" opacity="0.18"/><circle cx="221.7" cy="230.6" r="1.3" fill="#18a018" opacity="0.35"/><circle cx="221.7" cy="230.6" r="0.8" fill="#30e830" opacity="0.78"/><circle cx="252.7" cy="190.2" r="1.5" fill="#18a018" opacity="0.25"/><circle cx="252.7" cy="190.2" r="1.0" fill="#30e830" opacity="0.56"/><circle cx="239.4" cy="238.5" r="1.2" fill="#18a018" opacity="0.28"/><circle cx="239.4" cy="238.5" r="0.6" fill="#30e830" opacity="0.63"/><circle cx="247.5" cy="183.3" r="1.6" fill="#18a018" opacity="0.25"/><circle cx="247.5" cy="183.3" r="1.0" fill="#30e830" opacity="0.55"/><circle cx="269.5" cy="213.9" r="1.3" fill="#18a018" opacity="0.25"/><circle cx="269.5" cy="213.9" r="0.8" fill="#30e830" opacity="0.56"/><circle cx="282.8" cy="173.9" r="1.6" fill="#18a018" opacity="0.34"/><circle cx="282.8" cy="173.9" r="1.1" fill="#30e830" opacity="0.75"/><circle cx="245.2" cy="225.9" r="1.2" fill="#18a018" opacity="0.23"/><circle cx="245.2" cy="225.9" r="0.6" fill="#30e830" opacity="0.51"/><circle cx="271.9" cy="232.8" r="1.4" fill="#18a018" opacity="0.34"/><circle cx="271.9" cy="232.8" r="0.8" fill="#30e830" opacity="0.75"/><circle cx="213.4" cy="187.8" r="1.5" fill="#18a018" opacity="0.23"/><circle cx="213.4" cy="187.8" r="1.0" fill="#30e830" opacity="0.50"/><circle cx="219.2" cy="180.2" r="1.2" fill="#18a018" opacity="0.37"/><circle cx="219.2" cy="180.2" r="0.7" fill="#30e830" opacity="0.83"/><circle cx="281.5" cy="208.8" r="1.4" fill="#18a018" opacity="0.27"/><circle cx="281.5" cy="208.8" r="0.8" fill="#30e830" opacity="0.61"/><circle cx="278.4" cy="193.5" r="1.3" fill="#18a018" opacity="0.44"/><circle cx="278.4" cy="193.5" r="0.8" fill="#30e830" opacity="0.97"/><circle cx="273.7" cy="199.1" r="1.3" fill="#18a018" opacity="0.34"/><circle cx="273.7" cy="199.1" r="0.8" fill="#30e830" opacity="0.76"/><circle cx="229.5" cy="222.9" r="1.4" fill="#18a018" opacity="0.31"/><circle cx="229.5" cy="222.9" r="0.8" fill="#30e830" opacity="0.68"/><circle cx="279.5" cy="174.2" r="1.7" fill="#18a018" opacity="0.45"/><circle cx="279.5" cy="174.2" r="1.1" fill="#30e830" opacity="1.00"/><circle cx="254.0" cy="211.4" r="1.4" fill="#18a018" opacity="0.25"/><circle cx="254.0" cy="211.4" r="0.8" fill="#30e830" opacity="0.56"/><circle cx="226.4" cy="193.2" r="1.6" fill="#18a018" opacity="0.25"/><circle cx="226.4" cy="193.2" r="1.0" fill="#30e830" opacity="0.56"/><circle cx="220.8" cy="181.3" r="1.2" fill="#18a018" opacity="0.43"/><circle cx="220.8" cy="181.3" r="0.6" fill="#30e830" opacity="0.95"/></g>
<rect x="286.6" y="165" width="76.4" height="75.5" fill="#1c9a1c" opacity="0.05"/>
<g filter="url(#b05)"><circle cx="319.2" cy="226.0" r="1.1" fill="#2fbf2f" opacity="0.34"/><circle cx="321.9" cy="178.3" r="0.8" fill="#2fbf2f" opacity="0.26"/><circle cx="335.1" cy="232.5" r="0.9" fill="#2fbf2f" opacity="0.28"/><circle cx="315.3" cy="203.1" r="0.9" fill="#2fbf2f" opacity="0.19"/><circle cx="326.4" cy="233.6" r="0.9" fill="#2fbf2f" opacity="0.24"/><circle cx="347.2" cy="236.6" r="1.0" fill="#2fbf2f" opacity="0.15"/><circle cx="357.3" cy="237.2" r="1.2" fill="#2fbf2f" opacity="0.13"/><circle cx="356.1" cy="194.6" r="1.5" fill="#2fbf2f" opacity="0.28"/><circle cx="348.6" cy="178.1" r="1.4" fill="#2fbf2f" opacity="0.18"/><circle cx="317.8" cy="227.9" r="1.5" fill="#2fbf2f" opacity="0.17"/><circle cx="304.1" cy="195.5" r="1.2" fill="#2fbf2f" opacity="0.22"/><circle cx="297.1" cy="184.4" r="1.4" fill="#2fbf2f" opacity="0.34"/><circle cx="291.1" cy="207.3" r="1.4" fill="#2fbf2f" opacity="0.13"/><circle cx="349.6" cy="175.0" r="1.3" fill="#2fbf2f" opacity="0.26"/><circle cx="334.1" cy="188.7" r="1.1" fill="#2fbf2f" opacity="0.27"/><circle cx="319.3" cy="214.3" r="1.2" fill="#2fbf2f" opacity="0.23"/><circle cx="289.8" cy="211.4" r="1.2" fill="#2fbf2f" opacity="0.18"/><circle cx="344.1" cy="223.0" r="1.2" fill="#2fbf2f" opacity="0.16"/><circle cx="322.8" cy="174.3" r="0.9" fill="#2fbf2f" opacity="0.23"/><circle cx="294.8" cy="198.5" r="1.2" fill="#2fbf2f" opacity="0.13"/><circle cx="334.8" cy="172.5" r="1.4" fill="#2fbf2f" opacity="0.31"/><circle cx="325.6" cy="170.4" r="1.2" fill="#2fbf2f" opacity="0.21"/><circle cx="357.9" cy="176.4" r="1.5" fill="#2fbf2f" opacity="0.37"/><circle cx="341.8" cy="225.6" r="1.0" fill="#2fbf2f" opacity="0.37"/><circle cx="324.2" cy="235.9" r="1.5" fill="#2fbf2f" opacity="0.16"/><circle cx="346.0" cy="234.0" r="0.9" fill="#2fbf2f" opacity="0.21"/><circle cx="343.6" cy="178.0" r="1.5" fill="#2fbf2f" opacity="0.19"/><circle cx="348.0" cy="176.9" r="1.2" fill="#2fbf2f" opacity="0.35"/><circle cx="303.4" cy="185.6" r="1.2" fill="#2fbf2f" opacity="0.20"/><circle cx="290.8" cy="179.7" r="0.9" fill="#2fbf2f" opacity="0.35"/><circle cx="338.0" cy="231.4" r="0.9" fill="#2fbf2f" opacity="0.32"/><circle cx="296.5" cy="205.0" r="1.3" fill="#2fbf2f" opacity="0.21"/><circle cx="352.2" cy="206.8" r="1.3" fill="#2fbf2f" opacity="0.34"/><circle cx="295.8" cy="238.5" r="1.3" fill="#2fbf2f" opacity="0.22"/><circle cx="346.6" cy="185.7" r="1.6" fill="#2fbf2f" opacity="0.26"/><circle cx="314.5" cy="221.9" r="1.2" fill="#2fbf2f" opacity="0.16"/><circle cx="342.7" cy="170.0" r="1.5" fill="#2fbf2f" opacity="0.18"/><circle cx="335.0" cy="237.8" r="1.3" fill="#2fbf2f" opacity="0.29"/><circle cx="311.0" cy="166.6" r="0.8" fill="#2fbf2f" opacity="0.16"/><circle cx="333.3" cy="197.8" r="1.2" fill="#2fbf2f" opacity="0.34"/><circle cx="297.8" cy="183.0" r="1.3" fill="#2fbf2f" opacity="0.13"/><circle cx="288.3" cy="192.2" r="0.9" fill="#2fbf2f" opacity="0.21"/><circle cx="304.6" cy="208.8" r="1.3" fill="#2fbf2f" opacity="0.17"/><circle cx="333.9" cy="200.9" r="0.9" fill="#2fbf2f" opacity="0.35"/><circle cx="306.0" cy="177.3" r="0.9" fill="#2fbf2f" opacity="0.28"/><circle cx="352.1" cy="223.2" r="1.1" fill="#2fbf2f" opacity="0.19"/><circle cx="288.9" cy="213.3" r="1.2" fill="#2fbf2f" opacity="0.21"/><circle cx="335.5" cy="198.7" r="1.5" fill="#2fbf2f" opacity="0.30"/><circle cx="306.3" cy="232.0" r="0.8" fill="#2fbf2f" opacity="0.25"/><circle cx="317.9" cy="183.7" r="0.8" fill="#2fbf2f" opacity="0.31"/><circle cx="289.0" cy="206.4" r="1.6" fill="#2fbf2f" opacity="0.16"/><circle cx="302.7" cy="210.6" r="1.2" fill="#2fbf2f" opacity="0.28"/><circle cx="347.8" cy="179.2" r="1.0" fill="#2fbf2f" opacity="0.20"/><circle cx="291.7" cy="231.0" r="1.4" fill="#2fbf2f" opacity="0.30"/><circle cx="288.6" cy="227.7" r="1.4" fill="#2fbf2f" opacity="0.24"/><circle cx="342.5" cy="199.3" r="1.0" fill="#2fbf2f" opacity="0.15"/><circle cx="305.2" cy="169.3" r="1.1" fill="#2fbf2f" opacity="0.31"/><circle cx="339.1" cy="227.8" r="1.4" fill="#2fbf2f" opacity="0.19"/><circle cx="328.7" cy="198.1" r="1.4" fill="#2fbf2f" opacity="0.25"/><circle cx="307.6" cy="213.0" r="1.6" fill="#2fbf2f" opacity="0.17"/><circle cx="352.7" cy="167.6" r="1.0" fill="#2fbf2f" opacity="0.18"/><circle cx="342.7" cy="235.0" r="1.4" fill="#2fbf2f" opacity="0.20"/><circle cx="352.7" cy="190.3" r="1.0" fill="#2fbf2f" opacity="0.35"/><circle cx="334.4" cy="216.7" r="1.3" fill="#2fbf2f" opacity="0.36"/><circle cx="322.6" cy="227.4" r="1.4" fill="#2fbf2f" opacity="0.33"/><circle cx="320.2" cy="219.0" r="1.3" fill="#2fbf2f" opacity="0.20"/><circle cx="303.7" cy="211.6" r="0.9" fill="#2fbf2f" opacity="0.35"/><circle cx="298.7" cy="168.5" r="0.9" fill="#2fbf2f" opacity="0.35"/><circle cx="313.4" cy="176.8" r="0.8" fill="#2fbf2f" opacity="0.13"/><circle cx="338.9" cy="212.5" r="1.4" fill="#2fbf2f" opacity="0.30"/><circle cx="292.9" cy="209.3" r="1.3" fill="#18a018" opacity="0.32"/><circle cx="292.9" cy="209.3" r="0.7" fill="#30e830" opacity="0.72"/><circle cx="314.8" cy="225.8" r="1.4" fill="#18a018" opacity="0.41"/><circle cx="314.8" cy="225.8" r="0.8" fill="#30e830" opacity="0.91"/><circle cx="348.3" cy="231.1" r="1.3" fill="#18a018" opacity="0.44"/><circle cx="348.3" cy="231.1" r="0.8" fill="#30e830" opacity="0.97"/><circle cx="292.9" cy="229.4" r="1.3" fill="#18a018" opacity="0.26"/><circle cx="292.9" cy="229.4" r="0.8" fill="#30e830" opacity="0.57"/><circle cx="355.2" cy="235.0" r="1.6" fill="#18a018" opacity="0.33"/><circle cx="355.2" cy="235.0" r="1.0" fill="#30e830" opacity="0.72"/><circle cx="296.0" cy="181.4" r="1.2" fill="#18a018" opacity="0.36"/><circle cx="296.0" cy="181.4" r="0.7" fill="#30e830" opacity="0.80"/><circle cx="296.3" cy="169.0" r="1.2" fill="#18a018" opacity="0.40"/><circle cx="296.3" cy="169.0" r="0.6" fill="#30e830" opacity="0.88"/><circle cx="350.3" cy="225.4" r="1.6" fill="#18a018" opacity="0.40"/><circle cx="350.3" cy="225.4" r="1.0" fill="#30e830" opacity="0.88"/><circle cx="334.6" cy="226.3" r="1.5" fill="#18a018" opacity="0.29"/><circle cx="334.6" cy="226.3" r="1.0" fill="#30e830" opacity="0.65"/><circle cx="334.5" cy="187.3" r="1.4" fill="#18a018" opacity="0.30"/><circle cx="334.5" cy="187.3" r="0.8" fill="#30e830" opacity="0.67"/><circle cx="295.4" cy="173.6" r="1.7" fill="#18a018" opacity="0.22"/><circle cx="295.4" cy="173.6" r="1.1" fill="#30e830" opacity="0.50"/><circle cx="343.7" cy="181.4" r="1.7" fill="#18a018" opacity="0.21"/><circle cx="343.7" cy="181.4" r="1.1" fill="#30e830" opacity="0.46"/><circle cx="311.5" cy="197.2" r="1.3" fill="#18a018" opacity="0.27"/><circle cx="311.5" cy="197.2" r="0.7" fill="#30e830" opacity="0.59"/><circle cx="289.6" cy="185.1" r="1.7" fill="#18a018" opacity="0.33"/><circle cx="289.6" cy="185.1" r="1.1" fill="#30e830" opacity="0.73"/><circle cx="308.8" cy="218.4" r="1.4" fill="#18a018" opacity="0.42"/><circle cx="308.8" cy="218.4" r="0.8" fill="#30e830" opacity="0.94"/><circle cx="315.1" cy="189.8" r="1.3" fill="#18a018" opacity="0.32"/><circle cx="315.1" cy="189.8" r="0.7" fill="#30e830" opacity="0.70"/><circle cx="358.9" cy="203.0" r="1.5" fill="#18a018" opacity="0.39"/><circle cx="358.9" cy="203.0" r="0.9" fill="#30e830" opacity="0.86"/><circle cx="350.6" cy="211.3" r="1.6" fill="#18a018" opacity="0.36"/><circle cx="350.6" cy="211.3" r="1.1" fill="#30e830" opacity="0.81"/><circle cx="290.4" cy="196.4" r="1.4" fill="#18a018" opacity="0.28"/><circle cx="290.4" cy="196.4" r="0.8" fill="#30e830" opacity="0.63"/><circle cx="320.1" cy="222.5" r="1.2" fill="#18a018" opacity="0.41"/><circle cx="320.1" cy="222.5" r="0.7" fill="#30e830" opacity="0.91"/><circle cx="313.6" cy="217.6" r="1.5" fill="#18a018" opacity="0.39"/><circle cx="313.6" cy="217.6" r="1.0" fill="#30e830" opacity="0.86"/><circle cx="327.6" cy="182.2" r="1.3" fill="#18a018" opacity="0.31"/><circle cx="327.6" cy="182.2" r="0.7" fill="#30e830" opacity="0.69"/><circle cx="351.4" cy="173.1" r="1.6" fill="#18a018" opacity="0.35"/><circle cx="351.4" cy="173.1" r="1.1" fill="#30e830" opacity="0.77"/><circle cx="348.3" cy="178.9" r="1.2" fill="#18a018" opacity="0.32"/><circle cx="348.3" cy="178.9" r="0.7" fill="#30e830" opacity="0.70"/><circle cx="288.2" cy="181.1" r="1.7" fill="#18a018" opacity="0.26"/><circle cx="288.2" cy="181.1" r="1.1" fill="#30e830" opacity="0.58"/><circle cx="344.0" cy="237.4" r="1.3" fill="#18a018" opacity="0.28"/><circle cx="344.0" cy="237.4" r="0.7" fill="#30e830" opacity="0.62"/><circle cx="288.4" cy="202.1" r="1.6" fill="#18a018" opacity="0.41"/><circle cx="288.4" cy="202.1" r="1.0" fill="#30e830" opacity="0.91"/><circle cx="324.2" cy="224.3" r="1.2" fill="#18a018" opacity="0.24"/><circle cx="324.2" cy="224.3" r="0.7" fill="#30e830" opacity="0.54"/></g>
<g filter="url(#b05)"><circle cx="71.8" cy="267.6" r="1.2" fill="#2fbf2f" opacity="0.16"/><circle cx="77.7" cy="257.5" r="1.6" fill="#2fbf2f" opacity="0.30"/><circle cx="61.0" cy="314.5" r="0.9" fill="#2fbf2f" opacity="0.22"/><circle cx="126.1" cy="302.2" r="1.4" fill="#2fbf2f" opacity="0.23"/><circle cx="68.0" cy="290.6" r="0.9" fill="#2fbf2f" opacity="0.17"/><circle cx="82.2" cy="246.0" r="1.4" fill="#18a018" opacity="0.26"/><circle cx="82.2" cy="246.0" r="0.9" fill="#30e830" opacity="0.58"/><circle cx="82.9" cy="301.9" r="1.6" fill="#18a018" opacity="0.42"/><circle cx="82.9" cy="301.9" r="1.0" fill="#30e830" opacity="0.93"/><circle cx="104.7" cy="280.4" r="1.6" fill="#18a018" opacity="0.38"/><circle cx="104.7" cy="280.4" r="1.1" fill="#30e830" opacity="0.84"/><circle cx="100.2" cy="277.7" r="1.7" fill="#18a018" opacity="0.37"/><circle cx="100.2" cy="277.7" r="1.1" fill="#30e830" opacity="0.82"/><circle cx="64.0" cy="288.1" r="1.5" fill="#18a018" opacity="0.31"/><circle cx="64.0" cy="288.1" r="1.0" fill="#30e830" opacity="0.70"/><circle cx="83.4" cy="298.2" r="1.3" fill="#18a018" opacity="0.36"/><circle cx="83.4" cy="298.2" r="0.8" fill="#30e830" opacity="0.80"/><circle cx="120.5" cy="275.2" r="1.2" fill="#18a018" opacity="0.31"/><circle cx="120.5" cy="275.2" r="0.7" fill="#30e830" opacity="0.68"/><circle cx="95.9" cy="298.8" r="1.6" fill="#18a018" opacity="0.38"/><circle cx="95.9" cy="298.8" r="1.1" fill="#30e830" opacity="0.84"/></g>
<g filter="url(#b05)"><circle cx="178.6" cy="262.0" r="1.1" fill="#2fbf2f" opacity="0.23"/><circle cx="178.0" cy="273.7" r="1.3" fill="#2fbf2f" opacity="0.35"/><circle cx="145.5" cy="291.8" r="1.4" fill="#2fbf2f" opacity="0.22"/><circle cx="168.2" cy="315.4" r="0.8" fill="#2fbf2f" opacity="0.26"/><circle cx="143.9" cy="301.2" r="1.6" fill="#2fbf2f" opacity="0.25"/><circle cx="139.5" cy="285.9" r="1.2" fill="#2fbf2f" opacity="0.30"/><circle cx="169.9" cy="290.7" r="1.5" fill="#2fbf2f" opacity="0.25"/><circle cx="162.4" cy="313.5" r="1.0" fill="#2fbf2f" opacity="0.29"/><circle cx="161.0" cy="299.8" r="1.3" fill="#18a018" opacity="0.44"/><circle cx="161.0" cy="299.8" r="0.7" fill="#30e830" opacity="0.98"/><circle cx="141.1" cy="316.2" r="1.4" fill="#18a018" opacity="0.36"/><circle cx="141.1" cy="316.2" r="0.8" fill="#30e830" opacity="0.80"/><circle cx="158.3" cy="247.7" r="1.6" fill="#18a018" opacity="0.40"/><circle cx="158.3" cy="247.7" r="1.1" fill="#30e830" opacity="0.90"/><circle cx="152.3" cy="273.0" r="1.4" fill="#18a018" opacity="0.28"/><circle cx="152.3" cy="273.0" r="0.9" fill="#30e830" opacity="0.61"/><circle cx="133.0" cy="274.4" r="1.5" fill="#18a018" opacity="0.23"/><circle cx="133.0" cy="274.4" r="0.9" fill="#30e830" opacity="0.52"/><circle cx="163.1" cy="295.0" r="1.7" fill="#18a018" opacity="0.29"/><circle cx="163.1" cy="295.0" r="1.1" fill="#30e830" opacity="0.65"/><circle cx="158.1" cy="263.1" r="1.7" fill="#18a018" opacity="0.27"/><circle cx="158.1" cy="263.1" r="1.1" fill="#30e830" opacity="0.60"/><circle cx="148.6" cy="298.2" r="1.4" fill="#18a018" opacity="0.27"/><circle cx="148.6" cy="298.2" r="0.8" fill="#30e830" opacity="0.59"/><circle cx="201.6" cy="282.4" r="1.4" fill="#18a018" opacity="0.25"/><circle cx="201.6" cy="282.4" r="0.9" fill="#30e830" opacity="0.55"/><circle cx="148.2" cy="302.6" r="1.2" fill="#18a018" opacity="0.38"/><circle cx="148.2" cy="302.6" r="0.6" fill="#30e830" opacity="0.85"/><circle cx="161.0" cy="259.1" r="1.3" fill="#18a018" opacity="0.26"/><circle cx="161.0" cy="259.1" r="0.8" fill="#30e830" opacity="0.58"/><circle cx="141.6" cy="300.8" r="1.3" fill="#18a018" opacity="0.32"/><circle cx="141.6" cy="300.8" r="0.8" fill="#30e830" opacity="0.71"/><circle cx="191.9" cy="290.3" r="1.4" fill="#18a018" opacity="0.36"/><circle cx="191.9" cy="290.3" r="0.9" fill="#30e830" opacity="0.80"/><circle cx="166.7" cy="285.0" r="1.5" fill="#18a018" opacity="0.29"/><circle cx="166.7" cy="285.0" r="1.0" fill="#30e830" opacity="0.65"/></g>
<g filter="url(#b05)"><circle cx="278.3" cy="306.6" r="0.8" fill="#2fbf2f" opacity="0.33"/><circle cx="276.6" cy="301.4" r="0.9" fill="#2fbf2f" opacity="0.33"/><circle cx="256.7" cy="244.6" r="0.8" fill="#2fbf2f" opacity="0.36"/><circle cx="258.4" cy="262.0" r="0.9" fill="#2fbf2f" opacity="0.16"/><circle cx="227.6" cy="300.8" r="1.1" fill="#2fbf2f" opacity="0.16"/><circle cx="276.5" cy="301.9" r="0.9" fill="#2fbf2f" opacity="0.34"/><circle cx="254.9" cy="301.2" r="1.3" fill="#2fbf2f" opacity="0.34"/><circle cx="268.0" cy="305.4" r="1.0" fill="#2fbf2f" opacity="0.29"/><circle cx="249.2" cy="298.3" r="1.2" fill="#2fbf2f" opacity="0.34"/><circle cx="251.0" cy="263.0" r="1.0" fill="#2fbf2f" opacity="0.15"/><circle cx="246.5" cy="247.8" r="1.2" fill="#2fbf2f" opacity="0.16"/><circle cx="246.4" cy="280.3" r="1.2" fill="#2fbf2f" opacity="0.34"/><circle cx="211.0" cy="305.5" r="1.4" fill="#18a018" opacity="0.34"/><circle cx="211.0" cy="305.5" r="0.9" fill="#30e830" opacity="0.75"/><circle cx="244.7" cy="285.0" r="1.6" fill="#18a018" opacity="0.27"/><circle cx="244.7" cy="285.0" r="1.1" fill="#30e830" opacity="0.61"/><circle cx="259.1" cy="305.5" r="1.6" fill="#18a018" opacity="0.30"/><circle cx="259.1" cy="305.5" r="1.1" fill="#30e830" opacity="0.67"/><circle cx="237.9" cy="274.4" r="1.5" fill="#18a018" opacity="0.27"/><circle cx="237.9" cy="274.4" r="0.9" fill="#30e830" opacity="0.60"/><circle cx="280.6" cy="249.1" r="1.5" fill="#18a018" opacity="0.44"/><circle cx="280.6" cy="249.1" r="0.9" fill="#30e830" opacity="0.99"/><circle cx="257.0" cy="290.4" r="1.5" fill="#18a018" opacity="0.40"/><circle cx="257.0" cy="290.4" r="1.0" fill="#30e830" opacity="0.89"/><circle cx="212.6" cy="288.5" r="1.3" fill="#18a018" opacity="0.28"/><circle cx="212.6" cy="288.5" r="0.8" fill="#30e830" opacity="0.62"/><circle cx="260.3" cy="312.2" r="1.3" fill="#18a018" opacity="0.35"/><circle cx="260.3" cy="312.2" r="0.8" fill="#30e830" opacity="0.77"/><circle cx="234.6" cy="316.0" r="1.5" fill="#18a018" opacity="0.40"/><circle cx="234.6" cy="316.0" r="1.0" fill="#30e830" opacity="0.88"/><circle cx="247.8" cy="279.3" r="1.2" fill="#18a018" opacity="0.38"/><circle cx="247.8" cy="279.3" r="0.6" fill="#30e830" opacity="0.85"/><circle cx="276.0" cy="246.0" r="1.7" fill="#18a018" opacity="0.34"/><circle cx="276.0" cy="246.0" r="1.1" fill="#30e830" opacity="0.75"/><circle cx="262.9" cy="289.6" r="1.2" fill="#18a018" opacity="0.28"/><circle cx="262.9" cy="289.6" r="0.6" fill="#30e830" opacity="0.62"/><circle cx="235.2" cy="307.1" r="1.2" fill="#18a018" opacity="0.25"/><circle cx="235.2" cy="307.1" r="0.6" fill="#30e830" opacity="0.55"/><circle cx="237.2" cy="278.5" r="1.7" fill="#18a018" opacity="0.35"/><circle cx="237.2" cy="278.5" r="1.2" fill="#30e830" opacity="0.78"/><circle cx="248.9" cy="300.4" r="1.5" fill="#18a018" opacity="0.40"/><circle cx="248.9" cy="300.4" r="1.0" fill="#30e830" opacity="0.88"/><circle cx="225.9" cy="275.6" r="1.7" fill="#18a018" opacity="0.35"/><circle cx="225.9" cy="275.6" r="1.1" fill="#30e830" opacity="0.79"/></g>
<rect x="286.6" y="242" width="76.4" height="76.8" fill="#1c9a1c" opacity="0.06"/>
<g filter="url(#b05)"><circle cx="333.4" cy="289.8" r="1.4" fill="#2fbf2f" opacity="0.27"/><circle cx="338.1" cy="259.2" r="1.3" fill="#2fbf2f" opacity="0.23"/><circle cx="344.1" cy="251.0" r="0.9" fill="#2fbf2f" opacity="0.13"/><circle cx="345.0" cy="311.0" r="1.3" fill="#2fbf2f" opacity="0.21"/><circle cx="348.5" cy="301.5" r="1.2" fill="#2fbf2f" opacity="0.18"/><circle cx="310.3" cy="274.6" r="1.1" fill="#2fbf2f" opacity="0.23"/><circle cx="335.2" cy="312.4" r="0.8" fill="#2fbf2f" opacity="0.26"/><circle cx="291.0" cy="252.3" r="1.4" fill="#2fbf2f" opacity="0.26"/><circle cx="355.5" cy="276.4" r="0.8" fill="#2fbf2f" opacity="0.22"/><circle cx="331.6" cy="312.7" r="1.6" fill="#2fbf2f" opacity="0.24"/><circle cx="318.4" cy="251.0" r="1.3" fill="#2fbf2f" opacity="0.17"/><circle cx="299.2" cy="244.6" r="0.8" fill="#2fbf2f" opacity="0.29"/><circle cx="297.0" cy="314.8" r="0.9" fill="#2fbf2f" opacity="0.34"/><circle cx="297.6" cy="244.8" r="1.4" fill="#2fbf2f" opacity="0.18"/><circle cx="341.9" cy="257.3" r="0.8" fill="#2fbf2f" opacity="0.31"/><circle cx="340.5" cy="306.6" r="1.4" fill="#2fbf2f" opacity="0.14"/><circle cx="334.2" cy="295.8" r="1.2" fill="#2fbf2f" opacity="0.35"/><circle cx="306.7" cy="314.7" r="1.4" fill="#2fbf2f" opacity="0.12"/><circle cx="289.2" cy="291.5" r="1.5" fill="#2fbf2f" opacity="0.14"/><circle cx="310.9" cy="297.3" r="0.9" fill="#2fbf2f" opacity="0.34"/><circle cx="323.8" cy="247.9" r="1.1" fill="#2fbf2f" opacity="0.26"/><circle cx="320.3" cy="293.5" r="0.9" fill="#2fbf2f" opacity="0.32"/><circle cx="314.8" cy="291.1" r="1.3" fill="#2fbf2f" opacity="0.22"/><circle cx="316.4" cy="301.5" r="1.6" fill="#2fbf2f" opacity="0.32"/><circle cx="329.7" cy="265.1" r="0.8" fill="#2fbf2f" opacity="0.36"/><circle cx="339.7" cy="304.6" r="1.1" fill="#2fbf2f" opacity="0.27"/><circle cx="359.8" cy="304.8" r="1.3" fill="#2fbf2f" opacity="0.20"/><circle cx="319.6" cy="309.0" r="1.1" fill="#2fbf2f" opacity="0.29"/><circle cx="332.3" cy="309.6" r="1.4" fill="#2fbf2f" opacity="0.19"/><circle cx="288.2" cy="262.9" r="1.1" fill="#2fbf2f" opacity="0.27"/><circle cx="348.0" cy="309.0" r="0.8" fill="#2fbf2f" opacity="0.33"/><circle cx="347.7" cy="307.5" r="1.3" fill="#2fbf2f" opacity="0.19"/><circle cx="350.6" cy="303.1" r="1.3" fill="#2fbf2f" opacity="0.35"/><circle cx="313.6" cy="249.8" r="1.2" fill="#2fbf2f" opacity="0.32"/><circle cx="302.8" cy="298.9" r="1.5" fill="#2fbf2f" opacity="0.18"/><circle cx="332.6" cy="293.5" r="1.2" fill="#2fbf2f" opacity="0.17"/><circle cx="306.8" cy="298.9" r="1.4" fill="#2fbf2f" opacity="0.23"/><circle cx="294.5" cy="303.0" r="1.4" fill="#2fbf2f" opacity="0.18"/><circle cx="330.6" cy="309.7" r="1.5" fill="#2fbf2f" opacity="0.25"/><circle cx="323.1" cy="287.0" r="1.0" fill="#2fbf2f" opacity="0.17"/><circle cx="301.4" cy="295.2" r="1.1" fill="#2fbf2f" opacity="0.26"/><circle cx="317.6" cy="281.7" r="0.9" fill="#2fbf2f" opacity="0.13"/><circle cx="361.3" cy="271.1" r="0.9" fill="#2fbf2f" opacity="0.28"/><circle cx="345.9" cy="255.0" r="1.3" fill="#2fbf2f" opacity="0.21"/><circle cx="326.2" cy="245.0" r="0.8" fill="#2fbf2f" opacity="0.37"/><circle cx="351.7" cy="279.4" r="1.3" fill="#2fbf2f" opacity="0.19"/><circle cx="345.3" cy="274.9" r="1.6" fill="#2fbf2f" opacity="0.31"/><circle cx="348.2" cy="314.6" r="1.0" fill="#2fbf2f" opacity="0.13"/><circle cx="302.9" cy="256.8" r="0.9" fill="#2fbf2f" opacity="0.13"/><circle cx="329.0" cy="307.8" r="1.2" fill="#2fbf2f" opacity="0.36"/><circle cx="354.9" cy="248.2" r="1.3" fill="#2fbf2f" opacity="0.22"/><circle cx="296.9" cy="314.3" r="1.0" fill="#2fbf2f" opacity="0.26"/><circle cx="335.1" cy="314.1" r="1.3" fill="#2fbf2f" opacity="0.22"/><circle cx="321.0" cy="255.3" r="1.6" fill="#2fbf2f" opacity="0.37"/><circle cx="304.4" cy="246.4" r="1.0" fill="#2fbf2f" opacity="0.21"/><circle cx="354.4" cy="310.3" r="1.5" fill="#2fbf2f" opacity="0.13"/><circle cx="345.8" cy="295.9" r="1.3" fill="#2fbf2f" opacity="0.37"/><circle cx="292.2" cy="254.2" r="1.4" fill="#2fbf2f" opacity="0.35"/><circle cx="337.8" cy="265.6" r="1.3" fill="#2fbf2f" opacity="0.31"/><circle cx="295.8" cy="267.4" r="1.0" fill="#2fbf2f" opacity="0.15"/><circle cx="323.4" cy="255.9" r="1.0" fill="#2fbf2f" opacity="0.16"/><circle cx="337.8" cy="244.4" r="1.4" fill="#2fbf2f" opacity="0.17"/><circle cx="290.7" cy="312.0" r="1.0" fill="#2fbf2f" opacity="0.35"/><circle cx="351.7" cy="309.1" r="0.9" fill="#2fbf2f" opacity="0.23"/><circle cx="295.2" cy="312.0" r="1.5" fill="#2fbf2f" opacity="0.28"/><circle cx="321.3" cy="268.6" r="1.5" fill="#2fbf2f" opacity="0.24"/><circle cx="334.2" cy="254.0" r="1.0" fill="#2fbf2f" opacity="0.13"/><circle cx="340.5" cy="284.3" r="0.9" fill="#2fbf2f" opacity="0.34"/><circle cx="307.7" cy="273.9" r="0.9" fill="#2fbf2f" opacity="0.19"/><circle cx="349.7" cy="268.2" r="0.9" fill="#2fbf2f" opacity="0.24"/><circle cx="311.4" cy="310.2" r="0.9" fill="#2fbf2f" opacity="0.36"/><circle cx="292.3" cy="309.6" r="1.3" fill="#2fbf2f" opacity="0.17"/><circle cx="323.1" cy="264.6" r="1.0" fill="#2fbf2f" opacity="0.17"/><circle cx="314.8" cy="316.6" r="1.6" fill="#2fbf2f" opacity="0.35"/><circle cx="295.3" cy="264.9" r="1.5" fill="#2fbf2f" opacity="0.13"/><circle cx="341.4" cy="265.2" r="1.6" fill="#2fbf2f" opacity="0.12"/><circle cx="347.3" cy="268.7" r="0.9" fill="#2fbf2f" opacity="0.12"/><circle cx="349.2" cy="282.4" r="0.9" fill="#2fbf2f" opacity="0.23"/><circle cx="355.0" cy="259.6" r="1.3" fill="#2fbf2f" opacity="0.15"/><circle cx="301.3" cy="300.4" r="1.4" fill="#2fbf2f" opacity="0.17"/><circle cx="293.9" cy="250.0" r="1.3" fill="#2fbf2f" opacity="0.24"/><circle cx="308.2" cy="258.7" r="1.3" fill="#2fbf2f" opacity="0.30"/><circle cx="347.7" cy="286.5" r="1.0" fill="#2fbf2f" opacity="0.14"/><circle cx="341.9" cy="273.6" r="1.4" fill="#2fbf2f" opacity="0.13"/><circle cx="347.6" cy="268.2" r="1.5" fill="#2fbf2f" opacity="0.34"/><circle cx="324.3" cy="244.6" r="1.2" fill="#18a018" opacity="0.34"/><circle cx="324.3" cy="244.6" r="0.7" fill="#30e830" opacity="0.77"/><circle cx="354.9" cy="278.7" r="1.6" fill="#18a018" opacity="0.24"/><circle cx="354.9" cy="278.7" r="1.0" fill="#30e830" opacity="0.54"/><circle cx="352.1" cy="263.1" r="1.6" fill="#18a018" opacity="0.43"/><circle cx="352.1" cy="263.1" r="1.1" fill="#30e830" opacity="0.97"/><circle cx="301.8" cy="304.9" r="1.4" fill="#18a018" opacity="0.31"/><circle cx="301.8" cy="304.9" r="0.8" fill="#30e830" opacity="0.68"/><circle cx="315.0" cy="255.6" r="1.7" fill="#18a018" opacity="0.33"/><circle cx="315.0" cy="255.6" r="1.1" fill="#30e830" opacity="0.74"/><circle cx="315.3" cy="287.4" r="1.4" fill="#18a018" opacity="0.44"/><circle cx="315.3" cy="287.4" r="0.8" fill="#30e830" opacity="0.97"/><circle cx="288.4" cy="281.9" r="1.6" fill="#18a018" opacity="0.29"/><circle cx="288.4" cy="281.9" r="1.1" fill="#30e830" opacity="0.64"/><circle cx="320.8" cy="281.6" r="1.3" fill="#18a018" opacity="0.29"/><circle cx="320.8" cy="281.6" r="0.7" fill="#30e830" opacity="0.63"/><circle cx="297.0" cy="296.2" r="1.4" fill="#18a018" opacity="0.45"/><circle cx="297.0" cy="296.2" r="0.9" fill="#30e830" opacity="0.99"/><circle cx="348.0" cy="307.4" r="1.6" fill="#18a018" opacity="0.43"/><circle cx="348.0" cy="307.4" r="1.1" fill="#30e830" opacity="0.95"/><circle cx="311.7" cy="296.0" r="1.6" fill="#18a018" opacity="0.41"/><circle cx="311.7" cy="296.0" r="1.1" fill="#30e830" opacity="0.92"/><circle cx="316.1" cy="298.9" r="1.2" fill="#18a018" opacity="0.33"/><circle cx="316.1" cy="298.9" r="0.6" fill="#30e830" opacity="0.73"/><circle cx="292.6" cy="307.9" r="1.7" fill="#18a018" opacity="0.43"/><circle cx="292.6" cy="307.9" r="1.2" fill="#30e830" opacity="0.96"/><circle cx="358.1" cy="280.0" r="1.3" fill="#18a018" opacity="0.31"/><circle cx="358.1" cy="280.0" r="0.7" fill="#30e830" opacity="0.68"/><circle cx="325.8" cy="282.7" r="1.5" fill="#18a018" opacity="0.29"/><circle cx="325.8" cy="282.7" r="1.0" fill="#30e830" opacity="0.65"/><circle cx="327.5" cy="245.0" r="1.5" fill="#18a018" opacity="0.22"/><circle cx="327.5" cy="245.0" r="0.9" fill="#30e830" opacity="0.49"/><circle cx="359.1" cy="260.0" r="1.4" fill="#18a018" opacity="0.33"/><circle cx="359.1" cy="260.0" r="0.9" fill="#30e830" opacity="0.73"/><circle cx="301.5" cy="251.1" r="1.2" fill="#18a018" opacity="0.24"/><circle cx="301.5" cy="251.1" r="0.6" fill="#30e830" opacity="0.53"/><circle cx="306.5" cy="303.8" r="1.7" fill="#18a018" opacity="0.39"/><circle cx="306.5" cy="303.8" r="1.2" fill="#30e830" opacity="0.88"/><circle cx="290.3" cy="250.6" r="1.7" fill="#18a018" opacity="0.36"/><circle cx="290.3" cy="250.6" r="1.2" fill="#30e830" opacity="0.80"/><circle cx="339.4" cy="257.9" r="1.6" fill="#18a018" opacity="0.42"/><circle cx="339.4" cy="257.9" r="1.1" fill="#30e830" opacity="0.94"/><circle cx="289.4" cy="287.7" r="1.7" fill="#18a018" opacity="0.21"/><circle cx="289.4" cy="287.7" r="1.1" fill="#30e830" opacity="0.47"/><circle cx="330.4" cy="282.1" r="1.5" fill="#18a018" opacity="0.27"/><circle cx="330.4" cy="282.1" r="1.0" fill="#30e830" opacity="0.60"/><circle cx="339.7" cy="251.1" r="1.6" fill="#18a018" opacity="0.27"/><circle cx="339.7" cy="251.1" r="1.0" fill="#30e830" opacity="0.60"/><circle cx="351.9" cy="296.4" r="1.5" fill="#18a018" opacity="0.43"/><circle cx="351.9" cy="296.4" r="0.9" fill="#30e830" opacity="0.96"/><circle cx="291.4" cy="252.6" r="1.5" fill="#18a018" opacity="0.26"/><circle cx="291.4" cy="252.6" r="1.0" fill="#30e830" opacity="0.59"/><circle cx="324.3" cy="280.5" r="1.5" fill="#18a018" opacity="0.31"/><circle cx="324.3" cy="280.5" r="0.9" fill="#30e830" opacity="0.69"/><circle cx="308.6" cy="252.5" r="1.7" fill="#18a018" opacity="0.27"/><circle cx="308.6" cy="252.5" r="1.2" fill="#30e830" opacity="0.61"/><circle cx="317.9" cy="253.6" r="1.3" fill="#18a018" opacity="0.36"/><circle cx="317.9" cy="253.6" r="0.8" fill="#30e830" opacity="0.81"/><circle cx="331.5" cy="307.0" r="1.2" fill="#18a018" opacity="0.35"/><circle cx="331.5" cy="307.0" r="0.7" fill="#30e830" opacity="0.78"/></g>
<line x1="129.65" y1="9" x2="129.65" y2="318.8" stroke="#fff" stroke-width="1.7"/>
<line x1="208.25" y1="9" x2="208.25" y2="318.8" stroke="#fff" stroke-width="1.7"/>
<line x1="285.8" y1="9" x2="285.8" y2="318.8" stroke="#fff" stroke-width="1.7"/>
<line x1="52" y1="85.9" x2="363" y2="85.9" stroke="#fff" stroke-width="1.8"/>
<line x1="52" y1="164" x2="363" y2="164" stroke="#fff" stroke-width="1.8"/>
<line x1="52" y1="241.25" x2="363" y2="241.25" stroke="#fff" stroke-width="1.8"/>
<rect x="353" y="312" width="7" height="2" fill="#fff"/>
<line x1="48.1" y1="8.4" x2="48.1" y2="322" stroke="#000" stroke-width="1.4"/>
<line x1="43.2" y1="9" x2="48.1" y2="9" stroke="#000" stroke-width="1.3"/>
<line x1="43.2" y1="86.3" x2="48.1" y2="86.3" stroke="#000" stroke-width="1.3"/>
<line x1="43.2" y1="164" x2="48.1" y2="164" stroke="#000" stroke-width="1.3"/>
<line x1="43.2" y1="241.7" x2="48.1" y2="241.7" stroke="#000" stroke-width="1.3"/>
<line x1="43.2" y1="321.4" x2="48.1" y2="321.4" stroke="#000" stroke-width="1.3"/>
<line x1="47.4" y1="321.4" x2="363.6" y2="321.4" stroke="#000" stroke-width="1.4"/>
<line x1="48.1" y1="321.4" x2="48.1" y2="325.6" stroke="#000" stroke-width="1.3"/>
<line x1="129.6" y1="321.4" x2="129.6" y2="325.6" stroke="#000" stroke-width="1.3"/>
<line x1="208.2" y1="321.4" x2="208.2" y2="325.6" stroke="#000" stroke-width="1.3"/>
<line x1="285.8" y1="321.4" x2="285.8" y2="325.6" stroke="#000" stroke-width="1.3"/>
<line x1="363" y1="321.4" x2="363" y2="325.6" stroke="#000" stroke-width="1.3"/>
<text x="43" y="55.800000000000004" font-size="13" text-anchor="end" font-weight="normal" fill="#111" stroke="#111" stroke-width="0.3">300</text>
<text x="43" y="134.6" font-size="13" text-anchor="end" font-weight="normal" fill="#111" stroke="#111" stroke-width="0.3">200</text>
<text x="43" y="210.6" font-size="13" text-anchor="end" font-weight="normal" fill="#111" stroke="#111" stroke-width="0.3">100</text>
<text x="43" y="292.6" font-size="13" text-anchor="end" font-weight="normal" fill="#111" stroke="#111" stroke-width="0.3">50</text>
<text x="87.6" y="336.2" font-size="13" text-anchor="middle" font-weight="normal" fill="#111" stroke="#111" stroke-width="0.3">1.0</text>
<text x="165.3" y="336.2" font-size="13" text-anchor="middle" font-weight="normal" fill="#111" stroke="#111" stroke-width="0.3">2.0</text>
<text x="250.3" y="336.2" font-size="13" text-anchor="middle" font-weight="normal" fill="#111" stroke="#111" stroke-width="0.3">5.0</text>
<text x="324.5" y="336.2" font-size="13" text-anchor="middle" font-weight="normal" fill="#111" stroke="#111" stroke-width="0.3">10.0</text>
<text x="212" y="350.4" font-size="13.3" text-anchor="middle" font-weight="normal" fill="#111" stroke="#111" stroke-width="0.3">GFP-MORF8 (μM)</text>
<text x="16.3" y="165" font-size="13" text-anchor="middle" font-weight="normal" fill="#111" stroke="#111" stroke-width="0.12" transform="rotate(-90 16.3 165)">NaCl (mM)</text>
</g>
<g id="panel-b">
<text x="1" y="371.3" font-size="22" text-anchor="start" font-weight="bold" fill="#000">b</text>
<text x="53.7" y="387.6" font-size="14.6" text-anchor="middle" font-weight="normal" fill="#111" stroke="#111" stroke-width="0.3">Before</text>
<text x="110" y="375.6" font-size="14.6" text-anchor="middle" font-weight="normal" fill="#111" stroke="#111" stroke-width="0.3">bleaching</text>
<text x="268.9" y="382.5" font-size="14.6" text-anchor="middle" font-weight="normal" fill="#111" stroke="#111" stroke-width="0.3">After</text>
<path d="M87.6 382.3 L91 384.3 L94.4 382.3 L91 389.3 Z" fill="#000"/>
<line x1="94.2" y1="386.7" x2="373.5" y2="386.7" stroke="#000" stroke-width="1.2"/>
<defs><radialGradient id="bdrop" cx="0.5" cy="0.5" r="0.5"><stop offset="0" stop-color="#249a29"/><stop offset="0.8" stop-color="#27a02b"/><stop offset="0.93" stop-color="#1c8020"/><stop offset="1" stop-color="#0d4510" stop-opacity="0.6"/></radialGradient><radialGradient id="bhole" cx="0.5" cy="0.5" r="0.5"><stop offset="0" stop-color="#0c4a10"/><stop offset="0.55" stop-color="#0f5514" stop-opacity="0.95"/><stop offset="1" stop-color="#1f8a22" stop-opacity="0"/></radialGradient></defs>
<svg x="21" y="392" width="69.0" height="68.5" viewBox="0 0 69.0 68.5">
<rect width="100%" height="100%" fill="#020402"/>
<circle cx="34" cy="36.75" r="21.3" fill="url(#bdrop)" filter="url(#b1)"/>
<ellipse cx="66" cy="11" rx="3" ry="4" fill="#156018" opacity="0.7" filter="url(#b1)"/>
</svg>
<svg x="92.5" y="392" width="68.3" height="68.5" viewBox="0 0 68.3 68.5">
<rect width="100%" height="100%" fill="#020402"/>
<circle cx="35" cy="36.75" r="21.8" fill="url(#bdrop)" filter="url(#b1)"/>
<ellipse cx="34" cy="35.25" rx="12.5" ry="11" fill="url(#bhole)" opacity="1" filter="url(#b1)"/>
<ellipse cx="65.30000000000001" cy="11" rx="3" ry="4" fill="#156018" opacity="0.7" filter="url(#b1)"/>
</svg>
<text x="127.15" y="406.2" font-size="13.5" text-anchor="middle" font-weight="normal" fill="#fff" stroke="#fff" stroke-width="0.3">4s</text>
<svg x="163.2" y="392" width="68.5" height="68.5" viewBox="0 0 68.5 68.5">
<rect width="100%" height="100%" fill="#020402"/>
<circle cx="35" cy="36.75" r="21.8" fill="url(#bdrop)" filter="url(#b1)"/>
<ellipse cx="34" cy="35.25" rx="12.5" ry="11" fill="url(#bhole)" opacity="0.9" filter="url(#b1)"/>
<ellipse cx="65.5" cy="11" rx="3" ry="4" fill="#156018" opacity="0.7" filter="url(#b1)"/>
</svg>
<text x="197.95" y="406.2" font-size="13.5" text-anchor="middle" font-weight="normal" fill="#fff" stroke="#fff" stroke-width="0.3">54s</text>
<svg x="234.2" y="392" width="68.3" height="68.5" viewBox="0 0 68.3 68.5">
<rect width="100%" height="100%" fill="#020402"/>
<circle cx="35" cy="36.75" r="21.8" fill="url(#bdrop)" filter="url(#b1)"/>
<ellipse cx="34" cy="35.25" rx="12.5" ry="11" fill="url(#bhole)" opacity="0.8" filter="url(#b1)"/>
<ellipse cx="65.30000000000001" cy="11" rx="3" ry="4" fill="#156018" opacity="0.7" filter="url(#b1)"/>
</svg>
<text x="268.85" y="406.2" font-size="13.5" text-anchor="middle" font-weight="normal" fill="#fff" stroke="#fff" stroke-width="0.3">94s</text>
<svg x="305" y="392" width="68.5" height="68.5" viewBox="0 0 68.5 68.5">
<rect width="100%" height="100%" fill="#020402"/>
<circle cx="35" cy="36.75" r="21.8" fill="url(#bdrop)" filter="url(#b1)"/>
<ellipse cx="34" cy="35.25" rx="12.5" ry="11" fill="url(#bhole)" opacity="0.7" filter="url(#b1)"/>
<ellipse cx="65.5" cy="11" rx="3" ry="4" fill="#156018" opacity="0.7" filter="url(#b1)"/>
</svg>
<text x="339.75" y="406.2" font-size="13.5" text-anchor="middle" font-weight="normal" fill="#fff" stroke="#fff" stroke-width="0.3">134s</text>
<rect x="72.8" y="453.6" width="14" height="2.2" fill="#fff"/>
</g>
<g id="panel-c">
<text x="1" y="481" font-size="22" text-anchor="start" font-weight="bold" fill="#000">c</text>
<rect x="50" y="485.5" width="121" height="121.0" fill="none" stroke="#000" stroke-width="1.6"/>
<line x1="45.5" y1="485.5" x2="50" y2="485.5" stroke="#000" stroke-width="1.4"/>
<text x="44.5" y="490.3" font-size="13.6" text-anchor="end" font-weight="normal" fill="#111" stroke="#111" stroke-width="0.3">1.0</text>
<line x1="45.5" y1="509.7" x2="50" y2="509.7" stroke="#000" stroke-width="1.4"/>
<text x="44.5" y="514.5" font-size="13.6" text-anchor="end" font-weight="normal" fill="#111" stroke="#111" stroke-width="0.3">0.8</text>
<line x1="45.5" y1="533.9" x2="50" y2="533.9" stroke="#000" stroke-width="1.4"/>
<text x="44.5" y="538.6999999999999" font-size="13.6" text-anchor="end" font-weight="normal" fill="#111" stroke="#111" stroke-width="0.3">0.6</text>
<line x1="45.5" y1="558.1" x2="50" y2="558.1" stroke="#000" stroke-width="1.4"/>
<text x="44.5" y="562.9" font-size="13.6" text-anchor="end" font-weight="normal" fill="#111" stroke="#111" stroke-width="0.3">0.4</text>
<line x1="45.5" y1="582.3" x2="50" y2="582.3" stroke="#000" stroke-width="1.4"/>
<text x="44.5" y="587.0999999999999" font-size="13.6" text-anchor="end" font-weight="normal" fill="#111" stroke="#111" stroke-width="0.3">0.2</text>
<line x1="45.5" y1="606.5" x2="50" y2="606.5" stroke="#000" stroke-width="1.4"/>
<text x="44.5" y="611.3" font-size="13.6" text-anchor="end" font-weight="normal" fill="#111" stroke="#111" stroke-width="0.3">0.0</text>
<line x1="50.0" y1="606.5" x2="50.0" y2="611.0" stroke="#000" stroke-width="1.4"/>
<text x="50.0" y="624.4" font-size="13.6" text-anchor="middle" font-weight="normal" fill="#111" stroke="#111" stroke-width="0.3">0</text>
<line x1="70.16666666666667" y1="606.5" x2="70.16666666666667" y2="611.0" stroke="#000" stroke-width="1.4"/>
<text x="70.16666666666667" y="624.4" font-size="13.6" text-anchor="middle" font-weight="normal" fill="#111" stroke="#111" stroke-width="0.3">30</text>
<line x1="90.33333333333334" y1="606.5" x2="90.33333333333334" y2="611.0" stroke="#000" stroke-width="1.4"/>
<text x="90.33333333333334" y="624.4" font-size="13.6" text-anchor="middle" font-weight="normal" fill="#111" stroke="#111" stroke-width="0.3">60</text>
<line x1="110.5" y1="606.5" x2="110.5" y2="611.0" stroke="#000" stroke-width="1.4"/>
<text x="110.5" y="624.4" font-size="13.6" text-anchor="middle" font-weight="normal" fill="#111" stroke="#111" stroke-width="0.3">90</text>
<line x1="130.66666666666669" y1="606.5" x2="130.66666666666669" y2="611.0" stroke="#000" stroke-width="1.4"/>
<text x="130.66666666666669" y="624.4" font-size="13.6" text-anchor="middle" font-weight="normal" fill="#111" stroke="#111" stroke-width="0.3">120</text>
<line x1="150.83333333333331" y1="606.5" x2="150.83333333333331" y2="611.0" stroke="#000" stroke-width="1.4"/>
<text x="150.83333333333331" y="624.4" font-size="13.6" text-anchor="middle" font-weight="normal" fill="#111" stroke="#111" stroke-width="0.3">150</text>
<line x1="171.0" y1="606.5" x2="171.0" y2="611.0" stroke="#000" stroke-width="1.4"/>
<text x="171.0" y="624.4" font-size="13.6" text-anchor="middle" font-weight="normal" fill="#111" stroke="#111" stroke-width="0.3">180</text>
<text x="112.5" y="638.7" font-size="14" text-anchor="middle" font-weight="normal" fill="#111" stroke="#111" stroke-width="0.3">Time (s)</text>
<text x="17.9" y="541" font-size="13" text-anchor="middle" font-weight="normal" fill="#111" stroke="#111" stroke-width="0.12" transform="rotate(-90 17.9 541)">Ratio of recovery</text>
<path d="M49.2 485.5 L51.6 485.5 L52.15111111111111 533.9 L52.68888888888889 561.73 L52.68888888888889 566.57 L49.2 566.57 Z" fill="#000"/>
<path d="M52.0 562.4 L54.0 561.9 L56.0 561.9 L58.0 562.4 L59.9 562.4 L61.9 561.7 L63.9 561.2 L65.9 561.4 L67.9 561.8 L69.9 561.7 L71.8 561.0 L73.8 560.6 L75.8 560.8 L77.8 561.2 L79.8 560.9 L81.8 560.2 L83.7 559.9 L85.7 560.3 L87.7 560.6 L89.7 560.2 L91.7 559.5 L93.7 559.3 L95.6 559.8 L97.6 560.0 L99.6 559.5 L101.6 558.8 L103.6 558.8 L105.6 559.2 L107.5 559.3 L109.5 558.7 L111.5 558.1 L113.5 558.2 L115.5 558.7 L117.5 558.6 L119.4 558.0 L121.4 557.5 L123.4 557.7 L125.4 558.1 L127.4 557.9 L129.4 557.2 L131.3 556.8 L133.3 557.1 L135.3 557.5 L137.3 557.2 L139.3 556.5 L141.3 556.2 L143.2 556.6 L145.2 556.9 L147.2 556.5 L149.2 555.8 L151.2 555.6 L153.2 556.0 L155.1 556.2 L157.1 555.7 L159.1 555.1 L161.1 555.0 L163.1 555.5 L165.1 555.6 L167.0 555.0 L169.0 554.4 L171.0 554.5 L171.0 568.1 L169.0 568.3 L167.0 567.7 L165.1 567.2 L163.1 567.3 L161.1 567.9 L159.1 567.9 L157.1 567.3 L155.1 566.9 L153.2 567.2 L151.2 567.6 L149.2 567.6 L147.2 567.0 L145.2 566.6 L143.2 567.0 L141.3 567.4 L139.3 567.2 L137.3 566.6 L135.3 566.5 L133.3 566.9 L131.3 567.2 L129.4 566.9 L127.4 566.4 L125.4 566.3 L123.4 566.7 L121.4 567.0 L119.4 566.6 L117.5 566.1 L115.5 566.2 L113.5 566.6 L111.5 566.8 L109.5 566.4 L107.5 566.0 L105.6 566.1 L103.6 566.5 L101.6 566.6 L99.6 566.1 L97.6 565.8 L95.6 566.1 L93.7 566.4 L91.7 566.4 L89.7 566.0 L87.7 565.8 L85.7 566.0 L83.7 566.4 L81.8 566.2 L79.8 565.8 L77.8 565.7 L75.8 566.0 L73.8 566.3 L71.8 566.1 L69.9 565.7 L67.9 565.7 L65.9 566.1 L63.9 566.3 L61.9 566.0 L59.9 565.7 L58.0 565.8 L56.0 566.1 L54.0 566.2 L52.0 565.9 Z" fill="#000"/>
</g>
<g id="panel-d">
<text x="406" y="20" font-size="22" text-anchor="start" font-weight="bold" fill="#000">d</text>
<text x="473" y="18.8" font-size="12.5" text-anchor="end" font-weight="normal" fill="#111" stroke="#111" stroke-width="0.3">FL</text>
<rect x="474.3" y="6.5" width="67.69999999999999" height="13.2" fill="url(#gN)"/>
<text x="508.15" y="17.5" font-size="12" text-anchor="middle" font-weight="normal" fill="#111" stroke="#111" stroke-width="0.3">N</text>
<rect x="542" y="6.5" width="82.60000000000002" height="13.2" fill="url(#gM)"/>
<text x="591.5" y="17.5" font-size="11.8" text-anchor="middle" font-weight="normal" fill="#111" stroke="#111" stroke-width="0.3">MORF box</text>
<rect x="624.6" y="6.5" width="6.100000000000023" height="13.2" fill="url(#gG)"/>
<rect x="630.7" y="6.5" width="146.19999999999993" height="13.2" fill="url(#gI)"/>
<text x="699.5" y="17.5" font-size="12" text-anchor="middle" font-weight="normal" fill="#111" stroke="#111" stroke-width="0.3">IDR</text>
<text x="470.8" y="42.6" font-size="12.8" text-anchor="end" font-weight="normal" fill="#111" stroke="#111" stroke-width="0.3">ΔN</text>
<rect x="542" y="31.2" width="82.60000000000002" height="13.2" fill="url(#gM)"/>
<text x="591.5" y="42.199999999999996" font-size="11.8" text-anchor="middle" font-weight="normal" fill="#111" stroke="#111" stroke-width="0.3">MORF box</text>
<rect x="624.6" y="31.2" width="6.100000000000023" height="13.2" fill="url(#gG)"/>
<rect x="630.7" y="31.2" width="146.19999999999993" height="13.2" fill="url(#gI)"/>
<text x="699.5" y="42.199999999999996" font-size="12" text-anchor="middle" font-weight="normal" fill="#111" stroke="#111" stroke-width="0.3">IDR</text>
<text x="472.8" y="67.3" font-size="13.1" text-anchor="end" font-weight="normal" fill="#111" stroke="#111" stroke-width="0.3">ΔMORF</text>
<rect x="474.3" y="55.6" width="67.69999999999999" height="13.2" fill="url(#gN)"/>
<text x="508.15" y="66.6" font-size="12" text-anchor="middle" font-weight="normal" fill="#111" stroke="#111" stroke-width="0.3">N</text>
<line x1="542.5" y1="62.2" x2="624.6" y2="62.2" stroke="#000" stroke-width="1.2" stroke-dasharray="2 1.6"/>
<rect x="624.6" y="55.6" width="6.100000000000023" height="13.2" fill="url(#gG)"/>
<rect x="630.7" y="55.6" width="146.19999999999993" height="13.2" fill="url(#gI)"/>
<text x="699.5" y="66.6" font-size="12" text-anchor="middle" font-weight="normal" fill="#111" stroke="#111" stroke-width="0.3">IDR</text>
<text x="472.8" y="93.2" font-size="13.1" text-anchor="end" font-weight="normal" fill="#111" stroke="#111" stroke-width="0.3">ΔIDR</text>
<rect x="474.3" y="81.5" width="67.69999999999999" height="13.2" fill="url(#gN)"/>
<text x="508.15" y="92.5" font-size="12" text-anchor="middle" font-weight="normal" fill="#111" stroke="#111" stroke-width="0.3">N</text>
<rect x="542" y="81.5" width="82.60000000000002" height="13.2" fill="url(#gM)"/>
<text x="591.5" y="92.5" font-size="11.8" text-anchor="middle" font-weight="normal" fill="#111" stroke="#111" stroke-width="0.3">MORF box</text>
<rect x="624.6" y="81.5" width="6.100000000000023" height="13.2" fill="url(#gG)"/>
<rect x="474.5" y="106.5" width="301.79999999999995" height="32.19999999999999" fill="#fbdbc7"/>
<rect x="474.5" y="138.7" width="301.79999999999995" height="31.30000000000001" fill="#f1f1f1"/>
<rect x="629.5" y="136.5" width="146.79999999999995" height="4" fill="#e60012"/>
<path d="M474.5 138.2 L475.3 131.9 L476.8 128.1 L477.9 129.4 L479.4 141.4 L482.5 152.2 L485.9 162.4 L488.8 170.0 L495.5 170.0 L497.3 160.5 L498.8 147.8 L500.3 131.9 L502.1 123.6 L503.8 126.8 L504.9 135.1 L506.4 147.8 L507.9 157.3 L509.4 164.3 L511.0 168.1 L512.5 169.4 L516.3 170.0 L518.5 169.4 L520.4 166.8 L522.6 157.3 L523.9 144.6 L525.2 131.9 L526.5 119.2 L527.7 111.6 L529.2 108.7 L532.6 108.7 L533.7 110.9 L534.9 116.0 L536.0 125.6 L537.5 137.0 L539.4 148.4 L541.3 157.3 L543.2 163.0 L544.7 164.9 L546.4 163.7 L547.8 160.5 L549.3 155.4 L551.2 145.9 L552.7 137.0 L554.6 128.7 L556.5 123.0 L558.8 120.2 L561.5 121.1 L563.3 123.6 L565.2 126.2 L567.8 131.9 L569.4 137.6 L570.6 139.2 L572.2 140.2 L573.2 138.2 L574.1 137.6 L575.5 140.2 L576.6 142.1 L577.8 148.4 L579.3 157.3 L580.8 165.6 L582.0 170.0 L590.3 170.0 L592.2 168.1 L593.7 165.6 L595.2 161.7 L596.4 162.4 L597.3 159.8 L598.3 162.4 L599.4 163.7 L600.6 161.1 L602.3 158.6 L603.2 161.7 L604.1 162.4 L605.5 160.5 L606.6 160.8 L607.8 163.7 L608.9 165.6 L610.4 168.1 L612.7 169.2 L616.5 168.7 L620.3 169.0 L623.3 169.2 L624.9 168.7 L626.0 166.8 L627.1 160.5 L628.3 149.7 L629.6 137.6 L630.9 125.6 L632.2 117.3 L633.4 111.6 L634.7 108.7 L637.0 107.1 L644.6 107.1 L645.7 108.1 L646.7 110.0 L648.0 116.0 L649.7 124.9 L651.4 133.8 L653.0 140.8 L653.9 140.2 L654.7 137.0 L656.0 129.4 L657.2 121.7 L658.7 113.5 L660.2 107.1 L702.3 106.8 L749.4 106.8 L760.0 107.5 L769.9 108.1 L771.4 109.4 L772.5 110.9 L773.6 112.8 L774.5 117.3 L775.2 124.3 L775.8 131.9 L776.3 138.9" fill="none" stroke="#000" stroke-width="1.5" stroke-linejoin="round"/>
<line x1="474.5" y1="105.9" x2="474.5" y2="170.6" stroke="#000" stroke-width="1.3"/>
<line x1="473.9" y1="170" x2="778.6" y2="170" stroke="#000" stroke-width="1.3"/>
<line x1="470.0" y1="106.5" x2="474.5" y2="106.5" stroke="#000" stroke-width="1.3"/>
<text x="469.0" y="111.2" font-size="13.3" text-anchor="end" font-weight="normal" fill="#111" stroke="#111" stroke-width="0.3">1.0</text>
<line x1="470.0" y1="138.25" x2="474.5" y2="138.25" stroke="#000" stroke-width="1.3"/>
<text x="469.0" y="142.95" font-size="13.3" text-anchor="end" font-weight="normal" fill="#111" stroke="#111" stroke-width="0.3">0.5</text>
<line x1="470.0" y1="170.0" x2="474.5" y2="170.0" stroke="#000" stroke-width="1.3"/>
<text x="469.0" y="174.7" font-size="13.3" text-anchor="end" font-weight="normal" fill="#111" stroke="#111" stroke-width="0.3">0</text>
<line x1="474.5" y1="170" x2="474.5" y2="174.5" stroke="#000" stroke-width="1.3"/>
<text x="474.5" y="187.2" font-size="13.3" text-anchor="middle" font-weight="normal" fill="#111" stroke="#111" stroke-width="0.3">0</text>
<line x1="512.47" y1="170" x2="512.47" y2="174.5" stroke="#000" stroke-width="1.3"/>
<text x="512.47" y="187.2" font-size="13.3" text-anchor="middle" font-weight="normal" fill="#111" stroke="#111" stroke-width="0.3">50</text>
<line x1="550.44" y1="170" x2="550.44" y2="174.5" stroke="#000" stroke-width="1.3"/>
<text x="550.44" y="187.2" font-size="13.3" text-anchor="middle" font-weight="normal" fill="#111" stroke="#111" stroke-width="0.3">100</text>
<line x1="588.41" y1="170" x2="588.41" y2="174.5" stroke="#000" stroke-width="1.3"/>
<text x="588.41" y="187.2" font-size="13.3" text-anchor="middle" font-weight="normal" fill="#111" stroke="#111" stroke-width="0.3">150</text>
<line x1="626.38" y1="170" x2="626.38" y2="174.5" stroke="#000" stroke-width="1.3"/>
<text x="626.38" y="187.2" font-size="13.3" text-anchor="middle" font-weight="normal" fill="#111" stroke="#111" stroke-width="0.3">200</text>
<line x1="664.35" y1="170" x2="664.35" y2="174.5" stroke="#000" stroke-width="1.3"/>
<text x="664.35" y="187.2" font-size="13.3" text-anchor="middle" font-weight="normal" fill="#111" stroke="#111" stroke-width="0.3">250</text>
<line x1="702.3199999999999" y1="170" x2="702.3199999999999" y2="174.5" stroke="#000" stroke-width="1.3"/>
<text x="702.3199999999999" y="187.2" font-size="13.3" text-anchor="middle" font-weight="normal" fill="#111" stroke="#111" stroke-width="0.3">300</text>
<line x1="740.29" y1="170" x2="740.29" y2="174.5" stroke="#000" stroke-width="1.3"/>
<text x="740.29" y="187.2" font-size="13.3" text-anchor="middle" font-weight="normal" fill="#111" stroke="#111" stroke-width="0.3">350</text>
<line x1="778.26" y1="170" x2="778.26" y2="174.5" stroke="#000" stroke-width="1.3"/>
<text x="778.26" y="187.2" font-size="13.3" text-anchor="middle" font-weight="normal" fill="#111" stroke="#111" stroke-width="0.3">400</text>
<text x="447" y="139" font-size="13.3" text-anchor="middle" font-weight="normal" fill="#111" stroke="#111" stroke-width="0.12" transform="rotate(-90 447 139)">PONDR</text>
</g>
<g id="panel-e">
<text x="403.3" y="221" font-size="22" text-anchor="start" font-weight="bold" fill="#000">e</text>
<rect x="438" y="236.3" width="85.29999999999995" height="84.5" fill="#020302"/>
<text x="484.4" y="231.6" font-size="13.1" text-anchor="middle" font-weight="normal" fill="#111" stroke="#111" stroke-width="0.3">GFP-FL</text>
<rect x="511.79999999999995" y="315.2" width="6.6" height="2" fill="#fff"/>
<rect x="527.5" y="236.3" width="85.0" height="84.5" fill="#020302"/>
<text x="569.6" y="231.6" font-size="13.1" text-anchor="middle" font-weight="normal" fill="#111" stroke="#111" stroke-width="0.3">GFP-ΔN</text>
<rect x="601.0" y="315.2" width="6.6" height="2" fill="#fff"/>
<rect x="616.3" y="236.3" width="85.5" height="84.5" fill="#020302"/>
<text x="661" y="231.6" font-size="13.1" text-anchor="middle" font-weight="normal" fill="#111" stroke="#111" stroke-width="0.3">GFP-ΔMORF</text>
<rect x="690.3" y="315.2" width="6.6" height="2" fill="#fff"/>
<rect x="705.3" y="236.3" width="86.0" height="84.5" fill="#020302"/>
<text x="748.5" y="231.6" font-size="13.1" text-anchor="middle" font-weight="normal" fill="#111" stroke="#111" stroke-width="0.3">GFP-ΔIDR</text>
<rect x="779.8" y="315.2" width="6.6" height="2" fill="#fff"/>
<g filter="url(#b05)"><circle cx="500.3" cy="244.8" r="1.3" fill="#2fd82f" opacity="0.85"/><circle cx="512.2" cy="254.0" r="1.1" fill="#2fd82f" opacity="0.67"/><circle cx="446.5" cy="257.4" r="1.3" fill="#2fd82f" opacity="0.85"/><circle cx="450.8" cy="259.1" r="1.2" fill="#2fd82f" opacity="0.73"/><circle cx="460.2" cy="264.2" r="1.1" fill="#2fd82f" opacity="0.67"/><circle cx="467.9" cy="265.0" r="1.1" fill="#2fd82f" opacity="0.55"/><circle cx="476.4" cy="265.9" r="1.3" fill="#2fd82f" opacity="0.85"/><circle cx="519.0" cy="262.5" r="1.1" fill="#2fd82f" opacity="0.55"/><circle cx="499.4" cy="269.3" r="1.1" fill="#2fd82f" opacity="0.55"/><circle cx="495.2" cy="270.1" r="1.0" fill="#2fd82f" opacity="0.49"/><circle cx="504.5" cy="274.3" r="1.1" fill="#2fd82f" opacity="0.61"/><circle cx="455.9" cy="276.9" r="1.0" fill="#2fd82f" opacity="0.43"/><circle cx="445.7" cy="285.3" r="1.2" fill="#2fd82f" opacity="0.79"/><circle cx="501.1" cy="286.2" r="1.1" fill="#2fd82f" opacity="0.67"/><circle cx="441.4" cy="290.4" r="1.2" fill="#2fd82f" opacity="0.79"/><circle cx="512.2" cy="293.8" r="1.1" fill="#2fd82f" opacity="0.55"/><circle cx="494.3" cy="295.4" r="1.1" fill="#2fd82f" opacity="0.55"/><circle cx="510.5" cy="300.5" r="1.3" fill="#2fd82f" opacity="0.85"/><circle cx="506.2" cy="301.4" r="1.2" fill="#2fd82f" opacity="0.73"/><circle cx="458.5" cy="303.1" r="1.1" fill="#2fd82f" opacity="0.55"/><circle cx="510.5" cy="314.9" r="1.2" fill="#2fd82f" opacity="0.79"/><circle cx="519.0" cy="318.3" r="1.1" fill="#2fd82f" opacity="0.67"/><circle cx="476.4" cy="317.4" r="0.9" fill="#2fd82f" opacity="0.37"/><circle cx="458.5" cy="248.1" r="0.9" fill="#2fd82f" opacity="0.34"/><circle cx="634.2" cy="260.0" r="1.1" fill="#2bc82b" opacity="0.68"/><circle cx="647.0" cy="269.3" r="1.0" fill="#2bc82b" opacity="0.50"/><circle cx="664.9" cy="269.3" r="1.0" fill="#2bc82b" opacity="0.56"/><circle cx="665.8" cy="278.6" r="1.1" fill="#2bc82b" opacity="0.62"/><circle cx="667.5" cy="279.4" r="1.0" fill="#2bc82b" opacity="0.56"/><circle cx="691.4" cy="247.3" r="0.9" fill="#2bc82b" opacity="0.38"/><circle cx="640.2" cy="304.7" r="1.0" fill="#2bc82b" opacity="0.56"/><circle cx="674.3" cy="300.5" r="1.0" fill="#2bc82b" opacity="0.44"/><circle cx="687.1" cy="304.7" r="1.0" fill="#2bc82b" opacity="0.56"/><circle cx="660.7" cy="314.0" r="1.0" fill="#2bc82b" opacity="0.56"/><circle cx="684.5" cy="293.8" r="0.9" fill="#2bc82b" opacity="0.32"/></g>
</g>
<g id="panel-f">
<text x="449.7" y="358.7" font-size="22" text-anchor="start" font-weight="bold" fill="#000">f</text>
<text x="633.5" y="356.5" font-size="13.3" text-anchor="middle" font-weight="normal" fill="#111" stroke="#111" stroke-width="0.3">35S-MORF8-mVenus</text>
<line x1="485.3" y1="359.8" x2="795.5" y2="359.8" stroke="#000" stroke-width="1.4"/>
<text x="510.5" y="375" font-size="13.3" text-anchor="middle" font-weight="normal" fill="#111" stroke="#111" stroke-width="0.3">FL</text>
<text x="594" y="375" font-size="13.3" text-anchor="middle" font-weight="normal" fill="#111" stroke="#111" stroke-width="0.3">ΔN</text>
<text x="682.5" y="375" font-size="13.3" text-anchor="middle" font-weight="normal" fill="#111" stroke="#111" stroke-width="0.3">ΔMORF</text>
<text x="749" y="375" font-size="13.3" text-anchor="middle" font-weight="normal" fill="#111" stroke="#111" stroke-width="0.3">ΔIDR</text>
<text x="467.5" y="422.5" font-size="13.3" text-anchor="middle" font-weight="normal" fill="#111" stroke="#111" stroke-width="0.12" transform="rotate(-90 467.5 422.5)">mVenus</text>
<text x="467.5" y="501" font-size="13.3" text-anchor="middle" font-weight="normal" fill="#111" stroke="#111" stroke-width="0.12" transform="rotate(-90 467.5 501)">Chloroplast</text>
<text x="467.5" y="587" font-size="13.3" text-anchor="middle" font-weight="normal" fill="#111" stroke="#111" stroke-width="0.12" transform="rotate(-90 467.5 587)">Merged</text>
<defs>
<radialGradient id="rg1" cx="0.5" cy="0.5" r="0.5"><stop offset="0" stop-color="#7c1a22"/><stop offset="0.75" stop-color="#74181f"/><stop offset="1" stop-color="#520e14" stop-opacity="0.5"/></radialGradient>
<radialGradient id="rg3" cx="0.5" cy="0.5" r="0.5"><stop offset="0" stop-color="#98141c"/><stop offset="0.6" stop-color="#800f17"/><stop offset="1" stop-color="#4a080c" stop-opacity="0.2"/></radialGradient>
<radialGradient id="rg4" cx="0.5" cy="0.5" r="0.5"><stop offset="0" stop-color="#c0203a"/><stop offset="0.7" stop-color="#a01c34"/><stop offset="1" stop-color="#601020" stop-opacity="0.4"/></radialGradient>
<radialGradient id="gg4" cx="0.5" cy="0.5" r="0.5"><stop offset="0" stop-color="#3cc070"/><stop offset="0.7" stop-color="#2aa45c"/><stop offset="1" stop-color="#116a3a" stop-opacity="0.4"/></radialGradient>
<radialGradient id="mg4" cx="0.5" cy="0.5" r="0.5"><stop offset="0" stop-color="#98b848"/><stop offset="0.6" stop-color="#98a84c"/><stop offset="0.9" stop-color="#a06038"/><stop offset="1" stop-color="#8a4a30" stop-opacity="0.6"/></radialGradient>
<radialGradient id="mg4b" cx="0.5" cy="0.5" r="0.5"><stop offset="0" stop-color="#58c848"/><stop offset="0.65" stop-color="#6cb850"/><stop offset="1" stop-color="#7a7040" stop-opacity="0.6"/></radialGradient>
</defs>
<svg x="471.5" y="378.8" width="79.5" height="78.7" viewBox="0 0 79.5 78.7">
<rect width="100%" height="100%" fill="#030202"/>
<g filter="url(#b3)" opacity="0.5"><circle cx="40" cy="18" r="16" fill="#0a3a18"/><circle cx="51" cy="54" r="16" fill="#0a3a18"/></g>
<g filter="url(#b1)" opacity="1"><ellipse cx="33.2" cy="5.0" rx="2.4" ry="2.9000000000000004" fill="#2cc468" transform="rotate(-45 33.2 5.0)"/><ellipse cx="46.2" cy="6.0" rx="2.9" ry="3.6" fill="#2cc468" transform="rotate(-8 46.2 6.0)"/><ellipse cx="27.2" cy="13.5" rx="3.4" ry="2.2" fill="#2cc468" transform="rotate(29 27.2 13.5)"/><ellipse cx="37.2" cy="18.0" rx="2.4" ry="2.9000000000000004" fill="#2cc468" transform="rotate(-24 37.2 18.0)"/><ellipse cx="29.7" cy="21.0" rx="2.9" ry="3.6" fill="#2cc468" transform="rotate(13 29.7 21.0)"/><ellipse cx="44.7" cy="20.0" rx="3.4" ry="2.2" fill="#2cc468" transform="rotate(-40 44.7 20.0)"/><ellipse cx="51.2" cy="17.0" rx="2.4" ry="2.9000000000000004" fill="#2cc468" transform="rotate(-3 51.2 17.0)"/><ellipse cx="36.7" cy="27.0" rx="2.9" ry="3.6" fill="#2cc468" transform="rotate(34 36.7 27.0)"/><ellipse cx="44.7" cy="27.0" rx="3.4" ry="2.2" fill="#2cc468" transform="rotate(-19 44.7 27.0)"/><ellipse cx="51.7" cy="25.5" rx="2.4" ry="2.9000000000000004" fill="#2cc468" transform="rotate(18 51.7 25.5)"/><ellipse cx="46.2" cy="40.0" rx="2.9" ry="3.6" fill="#2cc468" transform="rotate(-35 46.2 40.0)"/><ellipse cx="58.2" cy="40.0" rx="3.4" ry="2.2" fill="#2cc468" transform="rotate(2 58.2 40.0)"/><ellipse cx="39.7" cy="48.5" rx="2.4" ry="2.9000000000000004" fill="#2cc468" transform="rotate(39 39.7 48.5)"/><ellipse cx="52.2" cy="47.0" rx="2.9" ry="3.6" fill="#2cc468" transform="rotate(-14 52.2 47.0)"/><ellipse cx="63.2" cy="50.0" rx="3.4" ry="2.2" fill="#2cc468" transform="rotate(23 63.2 50.0)"/><ellipse cx="42.2" cy="55.0" rx="2.4" ry="2.9000000000000004" fill="#2cc468" transform="rotate(-30 42.2 55.0)"/><ellipse cx="57.2" cy="56.0" rx="2.9" ry="3.6" fill="#2cc468" transform="rotate(7 57.2 56.0)"/><ellipse cx="48.2" cy="60.0" rx="3.4" ry="2.2" fill="#2cc468" transform="rotate(44 48.2 60.0)"/><ellipse cx="47.2" cy="66.0" rx="2.4" ry="2.9000000000000004" fill="#2cc468" transform="rotate(-9 47.2 66.0)"/><ellipse cx="57.2" cy="68.0" rx="2.9" ry="3.6" fill="#2cc468" transform="rotate(28 57.2 68.0)"/><ellipse cx="36.2" cy="72.0" rx="3.4" ry="2.2" fill="#2cc468" transform="rotate(-25 36.2 72.0)"/><ellipse cx="31.2" cy="78.0" rx="2.4" ry="2.9000000000000004" fill="#2cc468" transform="rotate(12 31.2 78.0)"/></g>
</svg>
<svg x="553.5" y="378.8" width="79.0" height="78.7" viewBox="0 0 79.0 78.7">
<rect width="100%" height="100%" fill="#030202"/>
<g filter="url(#b3)"><ellipse cx="30" cy="3" rx="34" ry="6" fill="#128a1c" opacity="0.45"/><ellipse cx="6" cy="22" rx="7" ry="22" fill="#0e6a16" opacity="0.45"/><ellipse cx="55" cy="14" rx="12" ry="8" fill="#0c5a14" opacity="0.35"/><ellipse cx="24" cy="44" rx="14" ry="10" fill="#0a4a10" opacity="0.35"/></g><g fill="none" stroke="#1a9a22" stroke-linecap="round" stroke-linejoin="round" filter="url(#b15)" opacity="0.45"><path d="M63.1 10.5 C63.6 11.5 66.0 14.2 66.2 16.6 C66.4 19.0 63.9 22.6 64.1 24.8 C64.3 27.0 65.8 28.6 67.2 30 C68.6 31.4 70.2 32.3 72.3 33 C74.4 33.7 78.7 34.0 80 34.2" stroke-width="3"/><path d="M80 34.6 C78.4 34.5 73.5 33.9 70.2 34.1 C66.9 34.4 63.1 35.2 60 36.1 C56.9 37.0 53.7 37.8 51.8 39.2 C49.9 40.6 48.7 42.6 48.7 44.3 C48.7 46.0 49.9 47.9 51.8 49.4 C53.7 50.9 56.9 52.3 60 53.5 C63.1 54.7 67.6 55.4 70.2 56.6 C72.8 57.8 74.4 59.2 75.4 60.7 C76.4 62.2 76.8 64.4 76.4 65.8 C76.1 67.2 74.7 68.9 73.3 68.9 C71.9 68.9 70.1 66.8 68.2 65.8 C66.3 64.8 64.0 63.1 62 62.8 C60.0 62.5 57.3 62.8 55.9 63.8 C54.5 64.8 54.5 67.2 53.8 68.9 C53.1 70.6 53.0 72.9 51.8 74 C50.6 75.1 48.8 74.9 46.7 75.5 C44.7 76.1 41.0 76.8 39.5 77.5 C38.0 78.2 38.2 79.6 38 80" stroke-width="3"/><path d="M15 51 C15.3 51.4 16.5 51.7 17 53.5 C17.5 55.3 18.0 59.1 18 61.7 C18.0 64.3 16.7 67.2 17 68.9 C17.3 70.6 18.8 72.2 20 72 C21.2 71.8 22.6 69.4 24.1 67.9 C25.7 66.4 27.6 63.8 29.3 62.8 C31.0 61.8 33.0 61.4 34.4 61.7 C35.8 62.0 36.8 63.1 37.5 64.8 C38.2 66.5 38.2 69.9 38.5 72 C38.8 74.1 39.3 76.6 39.5 77.5" stroke-width="3"/></g><g fill="none" stroke="#24c02e" stroke-linecap="round" stroke-linejoin="round" filter="url(#b05)"><path d="M63.1 10.5 C63.6 11.5 66.0 14.2 66.2 16.6 C66.4 19.0 63.9 22.6 64.1 24.8 C64.3 27.0 65.8 28.6 67.2 30 C68.6 31.4 70.2 32.3 72.3 33 C74.4 33.7 78.7 34.0 80 34.2" stroke-width="1.6" opacity="0.9"/><path d="M80 34.6 C78.4 34.5 73.5 33.9 70.2 34.1 C66.9 34.4 63.1 35.2 60 36.1 C56.9 37.0 53.7 37.8 51.8 39.2 C49.9 40.6 48.7 42.6 48.7 44.3 C48.7 46.0 49.9 47.9 51.8 49.4 C53.7 50.9 56.9 52.3 60 53.5 C63.1 54.7 67.6 55.4 70.2 56.6 C72.8 57.8 74.4 59.2 75.4 60.7 C76.4 62.2 76.8 64.4 76.4 65.8 C76.1 67.2 74.7 68.9 73.3 68.9 C71.9 68.9 70.1 66.8 68.2 65.8 C66.3 64.8 64.0 63.1 62 62.8 C60.0 62.5 57.3 62.8 55.9 63.8 C54.5 64.8 54.5 67.2 53.8 68.9 C53.1 70.6 53.0 72.9 51.8 74 C50.6 75.1 48.8 74.9 46.7 75.5 C44.7 76.1 41.0 76.8 39.5 77.5 C38.0 78.2 38.2 79.6 38 80" stroke-width="1.5" opacity="0.7"/><path d="M15 51 C15.3 51.4 16.5 51.7 17 53.5 C17.5 55.3 18.0 59.1 18 61.7 C18.0 64.3 16.7 67.2 17 68.9 C17.3 70.6 18.8 72.2 20 72 C21.2 71.8 22.6 69.4 24.1 67.9 C25.7 66.4 27.6 63.8 29.3 62.8 C31.0 61.8 33.0 61.4 34.4 61.7 C35.8 62.0 36.8 63.1 37.5 64.8 C38.2 66.5 38.2 69.9 38.5 72 C38.8 74.1 39.3 76.6 39.5 77.5" stroke-width="1.5" opacity="0.5"/><path d="M2.6 1.3 C3 14 4 28 5.7 39 M5.7 38 L8.8 43.3 M1 2 C20 3 36 2 47.7 5.4 C52 6.5 55 8 58 9.5 M0 56 C5 57 10 57 14 55" stroke-width="1.1" opacity="0.4"/><path d="M19 49.5 C23 43 28 37 32 33" stroke-width="0.9" opacity="0.25"/></g><circle cx="57.4" cy="9.5" r="1.3" fill="#2cd036" opacity="0.8" filter="url(#b05)"/><g filter="url(#b1)"><ellipse cx="8.8" cy="48.4" rx="8" ry="5" fill="#2ad836"/><ellipse cx="6" cy="48" rx="3.5" ry="3.2" fill="#44f850"/><ellipse cx="11.5" cy="47.8" rx="3" ry="2.8" fill="#3cec48"/></g>
</svg>
<svg x="636" y="378.8" width="78.5" height="78.7" viewBox="0 0 78.5 78.7">
<rect width="100%" height="100%" fill="#030202"/>
<g filter="url(#b3)"><path d="M-5 -5 L30 -5 L85 50 L85 85 L50 85 L-5 25 Z" fill="#0a4010" opacity="0.5"/><path d="M5 5 L30 10 L50 32 L40 40 L8 25 Z" fill="#147a1e" opacity="0.45"/><circle cx="52" cy="53" r="14" fill="#106a18" opacity="0.4"/></g><circle cx="51" cy="53" r="14" fill="none" stroke="#1c9028" stroke-width="3" opacity="0.4" filter="url(#b2)"/>
<g filter="url(#b15)"><ellipse cx="26.6" cy="23.8" rx="3.1" ry="3.5" fill="#34ec40"/><ellipse cx="39.8" cy="27.6" rx="3.1" ry="3.5" fill="#34ec40"/><ellipse cx="35.8" cy="48.9" rx="2.9" ry="3.3" fill="#34ec40"/><ellipse cx="44.7" cy="51.8" rx="2.7" ry="3.1" fill="#34ec40"/><ellipse cx="59.6" cy="57.8" rx="3.3" ry="3.7" fill="#34ec40"/><ellipse cx="63.8" cy="65.9" rx="2.7" ry="3.1" fill="#34ec40"/><ellipse cx="60.6" cy="44" rx="1.9" ry="2.3" fill="#34ec40"/><ellipse cx="49" cy="39.7" rx="1.9" ry="2.3" fill="#34ec40"/><ellipse cx="50" cy="65" rx="1.9" ry="2.3" fill="#34ec40"/><ellipse cx="18" cy="18.5" rx="2.1" ry="2.5" fill="#34ec40"/></g>
</svg>
<svg x="717" y="378.8" width="79.3" height="78.7" viewBox="0 0 79.3 78.7">
<rect width="100%" height="100%" fill="#030202"/>
<g filter="url(#b15)"><circle cx="53.5" cy="29" r="18" fill="url(#gg4)"/><ellipse cx="28.5" cy="57.5" rx="18.5" ry="19.5" fill="url(#gg4)" transform="rotate(-20 28 58)"/></g>
</svg>
<svg x="471.5" y="460.5" width="79.5" height="79.5" viewBox="0 0 79.5 79.5">
<rect width="100%" height="100%" fill="#030202"/>
<g filter="url(#b15)"><circle cx="39.8" cy="19.8" r="18" fill="url(#rg1)"/><circle cx="49.5" cy="51.8" r="18.5" fill="url(#rg1)"/><ellipse cx="36" cy="79" rx="14" ry="6" fill="#5a0e14" opacity="0.7"/><ellipse cx="3" cy="68" rx="6" ry="5" fill="#4a0a10" opacity="0.5"/></g>
</svg>
<svg x="553.5" y="460.5" width="79.0" height="79.5" viewBox="0 0 79.0 79.5">
<rect width="100%" height="100%" fill="#030202"/>
<g filter="url(#b05)" opacity="1"><ellipse cx="5" cy="14" rx="2.4" ry="1.7" fill="#e8101e" transform="rotate(-60 5 14)"/><ellipse cx="65" cy="14" rx="2.4" ry="1.7" fill="#e8101e" transform="rotate(-7 65 14)"/><ellipse cx="16.4" cy="32.8" rx="2.4" ry="1.7" fill="#e8101e" transform="rotate(46 16.4 32.8)"/><ellipse cx="23" cy="36.5" rx="2.4" ry="1.7" fill="#e8101e" transform="rotate(-21 23 36.5)"/><ellipse cx="31" cy="32.5" rx="2.4" ry="1.7" fill="#e8101e" transform="rotate(32 31 32.5)"/><ellipse cx="41" cy="32.5" rx="2.4" ry="1.7" fill="#e8101e" transform="rotate(-35 41 32.5)"/><ellipse cx="53.5" cy="29.5" rx="2.4" ry="1.7" fill="#e8101e" transform="rotate(18 53.5 29.5)"/><ellipse cx="50" cy="36" rx="2.4" ry="1.7" fill="#e8101e" transform="rotate(-49 50 36)"/><ellipse cx="8.5" cy="44" rx="2.4" ry="1.7" fill="#e8101e" transform="rotate(4 8.5 44)"/><ellipse cx="3.5" cy="54.5" rx="2.4" ry="1.7" fill="#e8101e" transform="rotate(57 3.5 54.5)"/><ellipse cx="21" cy="61" rx="2.4" ry="1.7" fill="#e8101e" transform="rotate(-10 21 61)"/><ellipse cx="54.5" cy="64.5" rx="2.4" ry="1.7" fill="#e8101e" transform="rotate(43 54.5 64.5)"/><ellipse cx="30" cy="40" rx="20" ry="10" fill="#500810" opacity="0.35"/></g>
</svg>
<svg x="636" y="460.5" width="78.5" height="79.5" viewBox="0 0 78.5 79.5">
<rect width="100%" height="100%" fill="#030202"/>
<g filter="url(#b2)"><circle cx="37" cy="25" r="17" fill="url(#rg3)"/><circle cx="55" cy="54" r="18" fill="url(#rg3)"/></g>
</svg>
<svg x="717" y="460.5" width="79.3" height="79.5" viewBox="0 0 79.3 79.5">
<rect width="100%" height="100%" fill="#030202"/>
<g filter="url(#b15)"><circle cx="54.5" cy="30" r="17.5" fill="url(#rg4)"/><ellipse cx="29" cy="54.8" rx="18" ry="17.5" fill="url(#rg4)" opacity="0.85" transform="rotate(-20 29 55)"/></g>
</svg>
<svg x="471.5" y="543" width="79.5" height="79.5" viewBox="0 0 79.5 79.5">
<rect width="100%" height="100%" fill="#030202"/>
<g filter="url(#b15)"><circle cx="39.8" cy="19.8" r="18" fill="url(#rg1)"/><circle cx="49.5" cy="51.8" r="18.5" fill="url(#rg1)"/><ellipse cx="36" cy="79" rx="14" ry="6" fill="#5a0e14" opacity="0.7"/></g>
<g filter="url(#b1)" opacity="1"><ellipse cx="33.2" cy="5.0" rx="2.4" ry="2.9000000000000004" fill="#58e060" transform="rotate(-45 33.2 5.0)"/><ellipse cx="46.2" cy="6.0" rx="2.9" ry="3.6" fill="#58e060" transform="rotate(-8 46.2 6.0)"/><ellipse cx="27.2" cy="13.5" rx="3.4" ry="2.2" fill="#58e060" transform="rotate(29 27.2 13.5)"/><ellipse cx="37.2" cy="18.0" rx="2.4" ry="2.9000000000000004" fill="#58e060" transform="rotate(-24 37.2 18.0)"/><ellipse cx="29.7" cy="21.0" rx="2.9" ry="3.6" fill="#58e060" transform="rotate(13 29.7 21.0)"/><ellipse cx="44.7" cy="20.0" rx="3.4" ry="2.2" fill="#58e060" transform="rotate(-40 44.7 20.0)"/><ellipse cx="51.2" cy="17.0" rx="2.4" ry="2.9000000000000004" fill="#58e060" transform="rotate(-3 51.2 17.0)"/><ellipse cx="36.7" cy="27.0" rx="2.9" ry="3.6" fill="#58e060" transform="rotate(34 36.7 27.0)"/><ellipse cx="44.7" cy="27.0" rx="3.4" ry="2.2" fill="#58e060" transform="rotate(-19 44.7 27.0)"/><ellipse cx="51.7" cy="25.5" rx="2.4" ry="2.9000000000000004" fill="#58e060" transform="rotate(18 51.7 25.5)"/><ellipse cx="46.2" cy="40.0" rx="2.9" ry="3.6" fill="#58e060" transform="rotate(-35 46.2 40.0)"/><ellipse cx="58.2" cy="40.0" rx="3.4" ry="2.2" fill="#58e060" transform="rotate(2 58.2 40.0)"/><ellipse cx="39.7" cy="48.5" rx="2.4" ry="2.9000000000000004" fill="#58e060" transform="rotate(39 39.7 48.5)"/><ellipse cx="52.2" cy="47.0" rx="2.9" ry="3.6" fill="#58e060" transform="rotate(-14 52.2 47.0)"/><ellipse cx="63.2" cy="50.0" rx="3.4" ry="2.2" fill="#58e060" transform="rotate(23 63.2 50.0)"/><ellipse cx="42.2" cy="55.0" rx="2.4" ry="2.9000000000000004" fill="#58e060" transform="rotate(-30 42.2 55.0)"/><ellipse cx="57.2" cy="56.0" rx="2.9" ry="3.6" fill="#58e060" transform="rotate(7 57.2 56.0)"/><ellipse cx="48.2" cy="60.0" rx="3.4" ry="2.2" fill="#58e060" transform="rotate(44 48.2 60.0)"/><ellipse cx="47.2" cy="66.0" rx="2.4" ry="2.9000000000000004" fill="#58e060" transform="rotate(-9 47.2 66.0)"/><ellipse cx="57.2" cy="68.0" rx="2.9" ry="3.6" fill="#58e060" transform="rotate(28 57.2 68.0)"/><ellipse cx="36.2" cy="72.0" rx="3.4" ry="2.2" fill="#58e060" transform="rotate(-25 36.2 72.0)"/><ellipse cx="31.2" cy="78.0" rx="2.4" ry="2.9000000000000004" fill="#58e060" transform="rotate(12 31.2 78.0)"/></g>
</svg>
<svg x="553.5" y="543" width="79.0" height="79.5" viewBox="0 0 79.0 79.5">
<rect width="100%" height="100%" fill="#030202"/>
<g filter="url(#b3)"><ellipse cx="30" cy="3" rx="34" ry="6" fill="#128a1c" opacity="0.45"/><ellipse cx="6" cy="22" rx="7" ry="22" fill="#0e6a16" opacity="0.45"/><ellipse cx="55" cy="14" rx="12" ry="8" fill="#0c5a14" opacity="0.35"/><ellipse cx="24" cy="44" rx="14" ry="10" fill="#0a4a10" opacity="0.35"/></g><g fill="none" stroke="#1a9a22" stroke-linecap="round" stroke-linejoin="round" filter="url(#b15)" opacity="0.45"><path d="M63.1 10.5 C63.6 11.5 66.0 14.2 66.2 16.6 C66.4 19.0 63.9 22.6 64.1 24.8 C64.3 27.0 65.8 28.6 67.2 30 C68.6 31.4 70.2 32.3 72.3 33 C74.4 33.7 78.7 34.0 80 34.2" stroke-width="3"/><path d="M80 34.6 C78.4 34.5 73.5 33.9 70.2 34.1 C66.9 34.4 63.1 35.2 60 36.1 C56.9 37.0 53.7 37.8 51.8 39.2 C49.9 40.6 48.7 42.6 48.7 44.3 C48.7 46.0 49.9 47.9 51.8 49.4 C53.7 50.9 56.9 52.3 60 53.5 C63.1 54.7 67.6 55.4 70.2 56.6 C72.8 57.8 74.4 59.2 75.4 60.7 C76.4 62.2 76.8 64.4 76.4 65.8 C76.1 67.2 74.7 68.9 73.3 68.9 C71.9 68.9 70.1 66.8 68.2 65.8 C66.3 64.8 64.0 63.1 62 62.8 C60.0 62.5 57.3 62.8 55.9 63.8 C54.5 64.8 54.5 67.2 53.8 68.9 C53.1 70.6 53.0 72.9 51.8 74 C50.6 75.1 48.8 74.9 46.7 75.5 C44.7 76.1 41.0 76.8 39.5 77.5 C38.0 78.2 38.2 79.6 38 80" stroke-width="3"/><path d="M15 51 C15.3 51.4 16.5 51.7 17 53.5 C17.5 55.3 18.0 59.1 18 61.7 C18.0 64.3 16.7 67.2 17 68.9 C17.3 70.6 18.8 72.2 20 72 C21.2 71.8 22.6 69.4 24.1 67.9 C25.7 66.4 27.6 63.8 29.3 62.8 C31.0 61.8 33.0 61.4 34.4 61.7 C35.8 62.0 36.8 63.1 37.5 64.8 C38.2 66.5 38.2 69.9 38.5 72 C38.8 74.1 39.3 76.6 39.5 77.5" stroke-width="3"/></g><g fill="none" stroke="#24c02e" stroke-linecap="round" stroke-linejoin="round" filter="url(#b05)"><path d="M63.1 10.5 C63.6 11.5 66.0 14.2 66.2 16.6 C66.4 19.0 63.9 22.6 64.1 24.8 C64.3 27.0 65.8 28.6 67.2 30 C68.6 31.4 70.2 32.3 72.3 33 C74.4 33.7 78.7 34.0 80 34.2" stroke-width="1.6" opacity="0.9"/><path d="M80 34.6 C78.4 34.5 73.5 33.9 70.2 34.1 C66.9 34.4 63.1 35.2 60 36.1 C56.9 37.0 53.7 37.8 51.8 39.2 C49.9 40.6 48.7 42.6 48.7 44.3 C48.7 46.0 49.9 47.9 51.8 49.4 C53.7 50.9 56.9 52.3 60 53.5 C63.1 54.7 67.6 55.4 70.2 56.6 C72.8 57.8 74.4 59.2 75.4 60.7 C76.4 62.2 76.8 64.4 76.4 65.8 C76.1 67.2 74.7 68.9 73.3 68.9 C71.9 68.9 70.1 66.8 68.2 65.8 C66.3 64.8 64.0 63.1 62 62.8 C60.0 62.5 57.3 62.8 55.9 63.8 C54.5 64.8 54.5 67.2 53.8 68.9 C53.1 70.6 53.0 72.9 51.8 74 C50.6 75.1 48.8 74.9 46.7 75.5 C44.7 76.1 41.0 76.8 39.5 77.5 C38.0 78.2 38.2 79.6 38 80" stroke-width="1.5" opacity="0.7"/><path d="M15 51 C15.3 51.4 16.5 51.7 17 53.5 C17.5 55.3 18.0 59.1 18 61.7 C18.0 64.3 16.7 67.2 17 68.9 C17.3 70.6 18.8 72.2 20 72 C21.2 71.8 22.6 69.4 24.1 67.9 C25.7 66.4 27.6 63.8 29.3 62.8 C31.0 61.8 33.0 61.4 34.4 61.7 C35.8 62.0 36.8 63.1 37.5 64.8 C38.2 66.5 38.2 69.9 38.5 72 C38.8 74.1 39.3 76.6 39.5 77.5" stroke-width="1.5" opacity="0.5"/><path d="M2.6 1.3 C3 14 4 28 5.7 39 M5.7 38 L8.8 43.3 M1 2 C20 3 36 2 47.7 5.4 C52 6.5 55 8 58 9.5 M0 56 C5 57 10 57 14 55" stroke-width="1.1" opacity="0.4"/><path d="M19 49.5 C23 43 28 37 32 33" stroke-width="0.9" opacity="0.25"/></g><circle cx="57.4" cy="9.5" r="1.3" fill="#2cd036" opacity="0.8" filter="url(#b05)"/><g filter="url(#b1)"><ellipse cx="8.8" cy="48.4" rx="8" ry="5" fill="#2ad836"/><ellipse cx="6" cy="48" rx="3.5" ry="3.2" fill="#44f850"/><ellipse cx="11.5" cy="47.8" rx="3" ry="2.8" fill="#3cec48"/></g>
<g filter="url(#b05)" opacity="1"><ellipse cx="5" cy="14" rx="2.4" ry="1.7" fill="#e8101e" transform="rotate(-60 5 14)"/><ellipse cx="65" cy="14" rx="2.4" ry="1.7" fill="#e8101e" transform="rotate(-7 65 14)"/><ellipse cx="16.4" cy="32.8" rx="2.4" ry="1.7" fill="#e8101e" transform="rotate(46 16.4 32.8)"/><ellipse cx="23" cy="36.5" rx="2.4" ry="1.7" fill="#e8101e" transform="rotate(-21 23 36.5)"/><ellipse cx="31" cy="32.5" rx="2.4" ry="1.7" fill="#e8101e" transform="rotate(32 31 32.5)"/><ellipse cx="41" cy="32.5" rx="2.4" ry="1.7" fill="#e8101e" transform="rotate(-35 41 32.5)"/><ellipse cx="53.5" cy="29.5" rx="2.4" ry="1.7" fill="#e8101e" transform="rotate(18 53.5 29.5)"/><ellipse cx="50" cy="36" rx="2.4" ry="1.7" fill="#e8101e" transform="rotate(-49 50 36)"/><ellipse cx="8.5" cy="44" rx="2.4" ry="1.7" fill="#e8101e" transform="rotate(4 8.5 44)"/><ellipse cx="3.5" cy="54.5" rx="2.4" ry="1.7" fill="#e8101e" transform="rotate(57 3.5 54.5)"/><ellipse cx="21" cy="61" rx="2.4" ry="1.7" fill="#e8101e" transform="rotate(-10 21 61)"/><ellipse cx="54.5" cy="64.5" rx="2.4" ry="1.7" fill="#e8101e" transform="rotate(43 54.5 64.5)"/><ellipse cx="30" cy="40" rx="20" ry="10" fill="#500810" opacity="0.35"/></g>
</svg>
<svg x="636" y="543" width="78.5" height="79.5" viewBox="0 0 78.5 79.5">
<rect width="100%" height="100%" fill="#030202"/>
<g filter="url(#b3)"><path d="M-5 -5 L30 -5 L85 50 L85 85 L50 85 L-5 25 Z" fill="#0a4010" opacity="0.4"/><path d="M5 5 L30 10 L50 32 L40 40 L8 25 Z" fill="#147a1e" opacity="0.45"/><circle cx="52" cy="53" r="14" fill="#106a18" opacity="0.4"/></g>
<g filter="url(#b2)" opacity="0.85"><circle cx="33.7" cy="25" r="16" fill="url(#rg3)"/><circle cx="53" cy="52" r="17" fill="url(#rg3)"/></g>
<g filter="url(#b2)" opacity="0.35"><circle cx="33.7" cy="25" r="16" fill="#30a020"/><circle cx="53" cy="52" r="17" fill="#30a020"/></g>
<g filter="url(#b15)"><ellipse cx="26.6" cy="23.8" rx="3.1" ry="3.5" fill="#34ec40"/><ellipse cx="39.8" cy="27.6" rx="3.1" ry="3.5" fill="#34ec40"/><ellipse cx="35.8" cy="48.9" rx="2.9" ry="3.3" fill="#34ec40"/><ellipse cx="44.7" cy="51.8" rx="2.7" ry="3.1" fill="#34ec40"/><ellipse cx="59.6" cy="57.8" rx="3.3" ry="3.7" fill="#34ec40"/><ellipse cx="63.8" cy="65.9" rx="2.7" ry="3.1" fill="#34ec40"/><ellipse cx="60.6" cy="44" rx="1.9" ry="2.3" fill="#34ec40"/><ellipse cx="49" cy="39.7" rx="1.9" ry="2.3" fill="#34ec40"/><ellipse cx="50" cy="65" rx="1.9" ry="2.3" fill="#34ec40"/><ellipse cx="18" cy="18.5" rx="2.1" ry="2.5" fill="#34ec40"/></g>
</svg>
<svg x="717" y="543" width="79.3" height="79.5" viewBox="0 0 79.3 79.5">
<rect width="100%" height="100%" fill="#030202"/>
<g filter="url(#b15)"><circle cx="54" cy="28.5" r="18.2" fill="url(#mg4)"/><ellipse cx="28" cy="57" rx="19" ry="20" fill="url(#mg4b)" transform="rotate(-20 28 57)"/></g>
</svg>
<rect x="540.2" y="614.6" width="6.5" height="1.6" fill="#bbb"/>
<rect x="617.5" y="614.3" width="12" height="1.8" fill="#c8b428"/>
<rect x="703.5" y="614.6" width="6.5" height="1.6" fill="#ccc"/>
<rect x="778.5" y="614.6" width="9" height="1.6" fill="#ccc"/>
</g>
<g id="panel-g">
<text x="185.5" y="483.5" font-size="22" text-anchor="start" font-weight="bold" fill="#000">g</text>
<text x="319" y="484.3" font-size="13.3" text-anchor="middle" font-weight="normal" fill="#111" stroke="#111" stroke-width="0.3">GFP-MORF8</text>
<line x1="205.3" y1="488.3" x2="432" y2="488.3" stroke="#000" stroke-width="1.2"/>
<text x="258" y="507" font-size="13.3" text-anchor="middle" font-weight="normal" fill="#111" stroke="#111" stroke-width="0.3">4°C</text>
<text x="378" y="507" font-size="13.3" text-anchor="middle" font-weight="normal" fill="#111" stroke="#111" stroke-width="0.3">42°C 20 min</text>
<rect x="205.3" y="511.6" width="111.19999999999999" height="111.79999999999995" fill="#020402"/>
<g filter="url(#b05)"><ellipse cx="249.2" cy="542.3" rx="1.7" ry="2.4" fill="#30e038"/><ellipse cx="223.6" cy="557.4" rx="1.6" ry="2.0" fill="#30e038"/><ellipse cx="273.7" cy="575.3" rx="1.4" ry="1.6" fill="#30e038"/><ellipse cx="305.9" cy="597.1" rx="1.7" ry="2.6" fill="#30e038"/></g>
<rect x="297.7" y="616.3" width="11.8" height="2.4" fill="#fff"/>
<svg x="319.7" y="511.6" width="112.3" height="111.8" viewBox="0 0 112.3 111.8">
<rect width="100%" height="100%" fill="#020a02"/>
<g filter="url(#b5)"><ellipse cx="49" cy="12" rx="10" ry="8" fill="#0f5a14" opacity="0.6"/><ellipse cx="74" cy="38" rx="8" ry="10" fill="#0f5a14" opacity="0.6"/><ellipse cx="94" cy="95" rx="16" ry="9" fill="#0f5214" opacity="0.7"/><ellipse cx="10" cy="55" rx="8" ry="14" fill="#0c4a10" opacity="0.6"/><ellipse cx="8" cy="85" rx="6" ry="14" fill="#0a400e" opacity="0.5"/></g>
<path d="M5 46 L12 47 L19 48 L25 40 L31 33 L38 30 L46 28 L55 25 L62 22 L68 20 L75 24 M31 33 L33 45 L34 56 L30 62 L26 68 L30 75 L35 80 L38 87 L41 93 M46 28 L46 37 L46 45 L52 49 L59 51 M59 51 L54 57 L49 62 L46 67 L44 72 L42 82 L41 93 M41 93 L48 94 L56 92 L62 90 L68 86 L71 80 L73 74 L74 68.5 L79 65 L83 62 M68 86 L69 94 L70 101 L74 107 M41 93 L36 98 L31 102 M86 41 L90 43 L94 44 L100 44 L107 42 L109 34 L110 26 L105 24 L101 24 M101 48 L101 56 L101 63 L97 68 L94 72 L100 72 L107 71 M19 48 L22 56 L20 64 L26 68 M34 56 L40 58 L44 62 M25 40 L18 38 L12 36 M62 22 L60 30 L56 36 M107 42 L112 46 " fill="none" stroke="#178a1e" stroke-width="9" stroke-linecap="round" stroke-linejoin="round" opacity="0.55" filter="url(#b3)"/>
<path d="M5 46 L12 47 L19 48 L25 40 L31 33 L38 30 L46 28 L55 25 L62 22 L68 20 L75 24 M31 33 L33 45 L34 56 L30 62 L26 68 L30 75 L35 80 L38 87 L41 93 M46 28 L46 37 L46 45 L52 49 L59 51 M59 51 L54 57 L49 62 L46 67 L44 72 L42 82 L41 93 M41 93 L48 94 L56 92 L62 90 L68 86 L71 80 L73 74 L74 68.5 L79 65 L83 62 M68 86 L69 94 L70 101 L74 107 M41 93 L36 98 L31 102 M86 41 L90 43 L94 44 L100 44 L107 42 L109 34 L110 26 L105 24 L101 24 M101 48 L101 56 L101 63 L97 68 L94 72 L100 72 L107 71 M19 48 L22 56 L20 64 L26 68 M34 56 L40 58 L44 62 M25 40 L18 38 L12 36 M62 22 L60 30 L56 36 M107 42 L112 46 " fill="none" stroke="#1fa826" stroke-width="4.5" stroke-linecap="round" stroke-linejoin="round" opacity="0.55" filter="url(#b15)"/>
<g filter="url(#b05)"><circle cx="7.8" cy="45.2" r="0.8" fill="#32e038" opacity="0.73"/><circle cx="4.8" cy="45.9" r="0.7" fill="#32e038" opacity="0.57"/><circle cx="6.7" cy="48.7" r="0.9" fill="#32e038" opacity="0.62"/><circle cx="11.1" cy="48.1" r="1.4" fill="#32e038" opacity="0.80"/><circle cx="6.5" cy="45.2" r="0.8" fill="#32e038" opacity="0.86"/><circle cx="7.9" cy="47.6" r="1.2" fill="#32e038" opacity="0.73"/><circle cx="11.3" cy="48.7" r="0.8" fill="#32e038" opacity="0.76"/><circle cx="10.8" cy="49.3" r="0.6" fill="#32e038" opacity="0.68"/><circle cx="15.5" cy="46.0" r="1.1" fill="#32e038" opacity="0.75"/><circle cx="14.0" cy="54.4" r="0.9" fill="#32e038" opacity="0.89"/><circle cx="17.2" cy="48.4" r="1.4" fill="#32e038" opacity="0.72"/><circle cx="20.0" cy="48.7" r="1.0" fill="#32e038" opacity="0.87"/><circle cx="20.3" cy="49.1" r="1.5" fill="#32e038" opacity="0.87"/><circle cx="20.9" cy="48.9" r="0.9" fill="#32e038" opacity="0.84"/><circle cx="16.9" cy="43.1" r="1.3" fill="#32e038" opacity="0.76"/><circle cx="20.7" cy="41.4" r="1.3" fill="#32e038" opacity="0.74"/><circle cx="22.5" cy="40.8" r="1.4" fill="#32e038" opacity="0.56"/><circle cx="22.5" cy="43.4" r="1.3" fill="#32e038" opacity="0.79"/><circle cx="16.8" cy="42.7" r="1.1" fill="#32e038" opacity="0.71"/><circle cx="24.7" cy="37.0" r="1.1" fill="#32e038" opacity="0.69"/><circle cx="21.8" cy="41.7" r="1.3" fill="#32e038" opacity="0.65"/><circle cx="22.6" cy="41.9" r="0.9" fill="#32e038" opacity="0.66"/><circle cx="26.8" cy="34.6" r="1.0" fill="#32e038" opacity="0.72"/><circle cx="27.3" cy="40.1" r="0.7" fill="#32e038" opacity="0.79"/><circle cx="26.4" cy="36.9" r="1.4" fill="#32e038" opacity="0.66"/><circle cx="30.5" cy="32.7" r="1.5" fill="#32e038" opacity="0.60"/><circle cx="24.0" cy="38.0" r="0.6" fill="#32e038" opacity="0.52"/><circle cx="26.9" cy="33.6" r="1.4" fill="#32e038" opacity="0.89"/><circle cx="21.9" cy="31.8" r="1.1" fill="#32e038" opacity="0.76"/><circle cx="30.1" cy="30.8" r="0.9" fill="#32e038" opacity="0.80"/><circle cx="28.7" cy="37.2" r="1.2" fill="#32e038" opacity="0.76"/><circle cx="35.2" cy="33.4" r="1.0" fill="#32e038" opacity="0.78"/><circle cx="30.1" cy="29.3" r="1.5" fill="#32e038" opacity="0.74"/><circle cx="32.5" cy="32.2" r="1.5" fill="#32e038" opacity="0.67"/><circle cx="32.5" cy="29.7" r="0.8" fill="#32e038" opacity="0.66"/><circle cx="42.4" cy="29.4" r="1.1" fill="#32e038" opacity="0.56"/><circle cx="42.0" cy="27.5" r="1.3" fill="#32e038" opacity="1.00"/><circle cx="42.2" cy="27.8" r="0.7" fill="#32e038" opacity="0.64"/><circle cx="38.6" cy="28.9" r="0.8" fill="#32e038" opacity="0.59"/><circle cx="40.3" cy="26.5" r="0.9" fill="#32e038" opacity="1.00"/><circle cx="43.3" cy="28.0" r="1.0" fill="#32e038" opacity="0.89"/><circle cx="43.6" cy="31.7" r="0.6" fill="#32e038" opacity="0.65"/><circle cx="47.7" cy="25.3" r="1.2" fill="#32e038" opacity="0.60"/><circle cx="44.1" cy="27.7" r="0.8" fill="#32e038" opacity="0.82"/><circle cx="40.2" cy="25.6" r="1.1" fill="#32e038" opacity="0.71"/><circle cx="50.4" cy="27.8" r="1.3" fill="#32e038" opacity="0.55"/><circle cx="51.7" cy="27.4" r="1.1" fill="#32e038" opacity="0.91"/><circle cx="48.3" cy="23.3" r="0.7" fill="#32e038" opacity="0.51"/><circle cx="53.0" cy="23.6" r="1.2" fill="#32e038" opacity="0.68"/><circle cx="54.8" cy="27.0" r="0.7" fill="#32e038" opacity="0.95"/><circle cx="53.1" cy="23.9" r="1.0" fill="#32e038" opacity="0.69"/><circle cx="60.9" cy="26.2" r="1.1" fill="#32e038" opacity="0.98"/><circle cx="54.2" cy="25.2" r="0.8" fill="#32e038" opacity="0.52"/><circle cx="62.8" cy="21.5" r="0.9" fill="#32e038" opacity="0.95"/><circle cx="60.5" cy="21.1" r="1.1" fill="#32e038" opacity="0.98"/><circle cx="55.0" cy="22.7" r="0.8" fill="#32e038" opacity="0.69"/><circle cx="61.7" cy="20.3" r="0.9" fill="#32e038" opacity="0.94"/><circle cx="59.0" cy="22.0" r="0.8" fill="#32e038" opacity="0.59"/><circle cx="63.4" cy="22.4" r="1.5" fill="#32e038" opacity="0.65"/><circle cx="64.5" cy="20.4" r="1.1" fill="#32e038" opacity="0.69"/><circle cx="66.1" cy="20.9" r="0.7" fill="#32e038" opacity="0.91"/><circle cx="66.9" cy="21.4" r="0.8" fill="#32e038" opacity="0.64"/><circle cx="69.1" cy="21.2" r="1.2" fill="#32e038" opacity="0.67"/><circle cx="72.1" cy="24.3" r="0.7" fill="#32e038" opacity="0.63"/><circle cx="71.6" cy="20.6" r="1.0" fill="#32e038" opacity="0.92"/><circle cx="72.5" cy="21.0" r="0.9" fill="#32e038" opacity="0.86"/><circle cx="68.7" cy="27.1" r="0.8" fill="#32e038" opacity="0.98"/><circle cx="72.3" cy="23.4" r="1.0" fill="#32e038" opacity="0.57"/><circle cx="30.5" cy="31.2" r="1.4" fill="#32e038" opacity="0.79"/><circle cx="30.0" cy="35.4" r="1.1" fill="#32e038" opacity="0.61"/><circle cx="32.2" cy="34.3" r="1.1" fill="#32e038" opacity="0.77"/><circle cx="31.0" cy="40.4" r="0.9" fill="#32e038" opacity="0.83"/><circle cx="29.8" cy="36.5" r="1.0" fill="#32e038" opacity="0.54"/><circle cx="34.0" cy="42.7" r="0.9" fill="#32e038" opacity="0.83"/><circle cx="34.5" cy="41.5" r="0.9" fill="#32e038" opacity="0.75"/><circle cx="32.0" cy="41.5" r="0.9" fill="#32e038" opacity="0.61"/><circle cx="35.1" cy="44.4" r="0.9" fill="#32e038" opacity="0.70"/><circle cx="36.1" cy="40.6" r="1.4" fill="#32e038" opacity="0.93"/><circle cx="34.1" cy="45.3" r="0.6" fill="#32e038" opacity="0.84"/><circle cx="31.8" cy="43.1" r="1.0" fill="#32e038" opacity="0.83"/><circle cx="32.5" cy="44.4" r="1.4" fill="#32e038" opacity="0.68"/><circle cx="32.2" cy="46.1" r="0.7" fill="#32e038" opacity="0.96"/><circle cx="32.9" cy="44.5" r="0.6" fill="#32e038" opacity="0.52"/><circle cx="34.2" cy="50.8" r="0.9" fill="#32e038" opacity="0.69"/><circle cx="35.5" cy="51.0" r="1.2" fill="#32e038" opacity="0.59"/><circle cx="35.3" cy="49.0" r="1.2" fill="#32e038" opacity="0.63"/><circle cx="30.4" cy="54.1" r="0.9" fill="#32e038" opacity="0.50"/><circle cx="35.9" cy="50.2" r="0.9" fill="#32e038" opacity="0.52"/><circle cx="35.9" cy="52.3" r="0.6" fill="#32e038" opacity="0.62"/><circle cx="37.3" cy="58.7" r="0.8" fill="#32e038" opacity="0.96"/><circle cx="33.3" cy="56.0" r="1.2" fill="#32e038" opacity="0.70"/><circle cx="32.6" cy="53.5" r="0.9" fill="#32e038" opacity="0.54"/><circle cx="34.4" cy="58.2" r="1.4" fill="#32e038" opacity="0.85"/><circle cx="31.0" cy="55.5" r="1.2" fill="#32e038" opacity="0.73"/><circle cx="34.2" cy="62.2" r="1.0" fill="#32e038" opacity="0.76"/><circle cx="31.1" cy="61.5" r="1.3" fill="#32e038" opacity="0.52"/><circle cx="28.1" cy="58.8" r="0.8" fill="#32e038" opacity="0.77"/><circle cx="32.0" cy="63.3" r="1.1" fill="#32e038" opacity="0.62"/><circle cx="30.1" cy="65.8" r="1.0" fill="#32e038" opacity="0.60"/><circle cx="26.9" cy="67.2" r="1.2" fill="#32e038" opacity="0.84"/><circle cx="26.8" cy="68.8" r="1.1" fill="#32e038" opacity="0.72"/><circle cx="28.1" cy="67.1" r="0.9" fill="#32e038" opacity="0.94"/><circle cx="28.5" cy="71.4" r="0.9" fill="#32e038" opacity="0.91"/><circle cx="23.3" cy="68.8" r="0.8" fill="#32e038" opacity="0.83"/><circle cx="25.5" cy="69.4" r="1.3" fill="#32e038" opacity="0.92"/><circle cx="29.8" cy="73.3" r="0.9" fill="#32e038" opacity="0.60"/><circle cx="30.7" cy="73.7" r="0.8" fill="#32e038" opacity="0.85"/><circle cx="28.3" cy="74.4" r="0.9" fill="#32e038" opacity="0.73"/><circle cx="29.1" cy="76.1" r="0.7" fill="#32e038" opacity="0.51"/><circle cx="34.8" cy="75.6" r="0.7" fill="#32e038" opacity="0.86"/><circle cx="34.7" cy="76.3" r="0.7" fill="#32e038" opacity="0.74"/><circle cx="31.1" cy="78.1" r="1.1" fill="#32e038" opacity="0.50"/><circle cx="36.4" cy="76.7" r="1.2" fill="#32e038" opacity="0.97"/><circle cx="33.1" cy="77.7" r="0.8" fill="#32e038" opacity="0.57"/><circle cx="39.1" cy="80.7" r="1.4" fill="#32e038" opacity="0.65"/><circle cx="36.8" cy="84.3" r="1.4" fill="#32e038" opacity="0.96"/><circle cx="38.1" cy="86.0" r="1.3" fill="#32e038" opacity="0.87"/><circle cx="35.8" cy="84.9" r="1.3" fill="#32e038" opacity="0.66"/><circle cx="34.9" cy="86.9" r="0.9" fill="#32e038" opacity="0.92"/><circle cx="37.5" cy="86.5" r="1.1" fill="#32e038" opacity="0.81"/><circle cx="39.6" cy="83.6" r="1.4" fill="#32e038" opacity="0.97"/><circle cx="35.7" cy="88.1" r="0.7" fill="#32e038" opacity="0.65"/><circle cx="38.1" cy="88.5" r="1.2" fill="#32e038" opacity="0.58"/><circle cx="33.6" cy="92.2" r="0.7" fill="#32e038" opacity="0.52"/><circle cx="38.5" cy="91.6" r="1.3" fill="#32e038" opacity="0.50"/><circle cx="43.0" cy="88.0" r="1.3" fill="#32e038" opacity="0.71"/><circle cx="45.3" cy="31.5" r="1.1" fill="#32e038" opacity="0.71"/><circle cx="44.6" cy="31.3" r="1.2" fill="#32e038" opacity="0.91"/><circle cx="47.2" cy="29.4" r="0.9" fill="#32e038" opacity="0.72"/><circle cx="44.0" cy="30.5" r="0.8" fill="#32e038" opacity="0.54"/><circle cx="44.8" cy="34.9" r="1.5" fill="#32e038" opacity="0.95"/><circle cx="50.3" cy="28.8" r="1.5" fill="#32e038" opacity="0.81"/><circle cx="46.3" cy="34.0" r="1.2" fill="#32e038" opacity="0.80"/><circle cx="45.1" cy="38.9" r="1.5" fill="#32e038" opacity="0.74"/><circle cx="44.8" cy="35.4" r="0.9" fill="#32e038" opacity="0.94"/><circle cx="47.5" cy="38.4" r="1.2" fill="#32e038" opacity="0.72"/><circle cx="49.0" cy="41.1" r="0.9" fill="#32e038" opacity="0.79"/><circle cx="43.4" cy="41.9" r="1.1" fill="#32e038" opacity="0.70"/><circle cx="47.1" cy="42.6" r="1.4" fill="#32e038" opacity="0.77"/><circle cx="49.6" cy="45.8" r="0.8" fill="#32e038" opacity="0.55"/><circle cx="44.2" cy="43.5" r="1.0" fill="#32e038" opacity="0.78"/><circle cx="46.5" cy="48.1" r="0.7" fill="#32e038" opacity="0.76"/><circle cx="46.2" cy="45.1" r="1.0" fill="#32e038" opacity="0.54"/><circle cx="43.6" cy="48.1" r="1.1" fill="#32e038" opacity="0.86"/><circle cx="49.1" cy="45.8" r="1.5" fill="#32e038" opacity="0.86"/><circle cx="53.6" cy="50.4" r="1.0" fill="#32e038" opacity="0.59"/><circle cx="54.0" cy="47.6" r="1.3" fill="#32e038" opacity="0.57"/><circle cx="52.1" cy="48.2" r="0.8" fill="#32e038" opacity="0.69"/><circle cx="56.4" cy="49.6" r="0.8" fill="#32e038" opacity="0.65"/><circle cx="53.7" cy="47.2" r="1.4" fill="#32e038" opacity="0.81"/><circle cx="57.6" cy="47.8" r="1.4" fill="#32e038" opacity="0.94"/><circle cx="58.6" cy="53.8" r="0.9" fill="#32e038" opacity="0.88"/><circle cx="55.9" cy="46.6" r="0.7" fill="#32e038" opacity="0.69"/><circle cx="58.5" cy="45.2" r="1.2" fill="#32e038" opacity="0.52"/><circle cx="57.4" cy="51.2" r="1.1" fill="#32e038" opacity="0.90"/><circle cx="61.7" cy="56.3" r="1.2" fill="#32e038" opacity="0.63"/><circle cx="57.8" cy="56.0" r="1.4" fill="#32e038" opacity="0.79"/><circle cx="56.5" cy="54.8" r="0.7" fill="#32e038" opacity="0.90"/><circle cx="56.6" cy="58.1" r="0.9" fill="#32e038" opacity="0.84"/><circle cx="53.7" cy="57.1" r="1.4" fill="#32e038" opacity="0.77"/><circle cx="52.4" cy="52.9" r="1.5" fill="#32e038" opacity="0.51"/><circle cx="52.4" cy="59.0" r="1.1" fill="#32e038" opacity="0.94"/><circle cx="52.5" cy="58.1" r="0.8" fill="#32e038" opacity="0.91"/><circle cx="50.5" cy="57.3" r="1.0" fill="#32e038" opacity="0.58"/><circle cx="52.0" cy="58.3" r="1.4" fill="#32e038" opacity="0.81"/><circle cx="51.7" cy="62.2" r="0.8" fill="#32e038" opacity="0.95"/><circle cx="48.4" cy="61.6" r="0.8" fill="#32e038" opacity="0.68"/><circle cx="45.3" cy="63.6" r="0.9" fill="#32e038" opacity="0.68"/><circle cx="51.0" cy="64.1" r="0.9" fill="#32e038" opacity="0.51"/><circle cx="40.4" cy="66.8" r="0.6" fill="#32e038" opacity="0.57"/><circle cx="45.7" cy="64.3" r="0.8" fill="#32e038" opacity="0.75"/><circle cx="45.8" cy="70.1" r="1.1" fill="#32e038" opacity="0.98"/><circle cx="46.1" cy="68.2" r="1.1" fill="#32e038" opacity="0.89"/><circle cx="47.9" cy="66.5" r="1.2" fill="#32e038" opacity="0.82"/><circle cx="43.2" cy="72.2" r="1.3" fill="#32e038" opacity="0.94"/><circle cx="47.4" cy="70.6" r="0.9" fill="#32e038" opacity="0.88"/><circle cx="43.6" cy="70.3" r="1.2" fill="#32e038" opacity="0.68"/><circle cx="41.2" cy="73.5" r="0.7" fill="#32e038" opacity="0.67"/><circle cx="40.2" cy="81.8" r="1.0" fill="#32e038" opacity="0.68"/><circle cx="43.2" cy="78.2" r="0.9" fill="#32e038" opacity="0.57"/><circle cx="47.7" cy="77.8" r="1.0" fill="#32e038" opacity="0.72"/><circle cx="40.8" cy="77.8" r="0.8" fill="#32e038" opacity="0.53"/><circle cx="41.8" cy="81.7" r="1.3" fill="#32e038" opacity="0.78"/><circle cx="44.2" cy="80.1" r="1.4" fill="#32e038" opacity="0.79"/><circle cx="43.3" cy="82.7" r="1.1" fill="#32e038" opacity="0.99"/><circle cx="39.3" cy="86.3" r="1.0" fill="#32e038" opacity="0.93"/><circle cx="44.3" cy="85.3" r="1.4" fill="#32e038" opacity="0.64"/><circle cx="41.7" cy="85.8" r="0.7" fill="#32e038" opacity="0.63"/><circle cx="41.1" cy="84.8" r="1.0" fill="#32e038" opacity="0.60"/><circle cx="37.7" cy="84.6" r="1.2" fill="#32e038" opacity="0.60"/><circle cx="40.8" cy="82.5" r="1.1" fill="#32e038" opacity="0.54"/><circle cx="43.1" cy="85.1" r="0.9" fill="#32e038" opacity="0.57"/><circle cx="42.3" cy="93.6" r="1.4" fill="#32e038" opacity="0.82"/><circle cx="42.6" cy="91.1" r="0.9" fill="#32e038" opacity="0.87"/><circle cx="39.5" cy="91.0" r="1.2" fill="#32e038" opacity="0.67"/><circle cx="44.5" cy="94.0" r="0.6" fill="#32e038" opacity="0.81"/><circle cx="41.9" cy="95.8" r="1.1" fill="#32e038" opacity="0.63"/><circle cx="44.1" cy="93.6" r="1.4" fill="#32e038" opacity="0.78"/><circle cx="46.5" cy="93.6" r="1.2" fill="#32e038" opacity="0.86"/><circle cx="46.3" cy="94.8" r="0.7" fill="#32e038" opacity="0.57"/><circle cx="48.1" cy="93.0" r="1.3" fill="#32e038" opacity="0.71"/><circle cx="46.0" cy="92.9" r="1.1" fill="#32e038" opacity="0.83"/><circle cx="48.6" cy="92.1" r="1.3" fill="#32e038" opacity="0.63"/><circle cx="50.5" cy="89.2" r="1.3" fill="#32e038" opacity="0.65"/><circle cx="53.5" cy="86.3" r="1.0" fill="#32e038" opacity="0.64"/><circle cx="48.1" cy="91.7" r="0.7" fill="#32e038" opacity="0.50"/><circle cx="51.4" cy="92.8" r="1.3" fill="#32e038" opacity="0.68"/><circle cx="57.7" cy="91.9" r="1.3" fill="#32e038" opacity="0.54"/><circle cx="58.5" cy="91.8" r="0.7" fill="#32e038" opacity="0.75"/><circle cx="57.0" cy="90.7" r="1.4" fill="#32e038" opacity="0.68"/><circle cx="60.5" cy="92.0" r="1.3" fill="#32e038" opacity="0.96"/><circle cx="61.1" cy="90.9" r="1.3" fill="#32e038" opacity="0.62"/><circle cx="64.8" cy="89.7" r="1.2" fill="#32e038" opacity="0.67"/><circle cx="63.8" cy="86.8" r="0.9" fill="#32e038" opacity="0.95"/><circle cx="67.0" cy="91.1" r="0.7" fill="#32e038" opacity="0.82"/><circle cx="61.1" cy="90.8" r="0.7" fill="#32e038" opacity="0.78"/><circle cx="61.5" cy="90.2" r="1.5" fill="#32e038" opacity="0.81"/><circle cx="67.3" cy="88.5" r="0.8" fill="#32e038" opacity="0.72"/><circle cx="68.2" cy="87.6" r="1.3" fill="#32e038" opacity="0.82"/><circle cx="66.2" cy="92.4" r="0.8" fill="#32e038" opacity="0.78"/><circle cx="71.6" cy="88.0" r="1.4" fill="#32e038" opacity="0.63"/><circle cx="69.5" cy="78.5" r="0.9" fill="#32e038" opacity="0.67"/><circle cx="65.0" cy="82.5" r="0.7" fill="#32e038" opacity="0.84"/><circle cx="68.3" cy="79.5" r="1.1" fill="#32e038" opacity="0.94"/><circle cx="72.2" cy="84.8" r="0.9" fill="#32e038" opacity="0.89"/><circle cx="72.4" cy="77.6" r="1.4" fill="#32e038" opacity="1.00"/><circle cx="71.6" cy="78.1" r="0.7" fill="#32e038" opacity="0.99"/><circle cx="77.5" cy="76.7" r="0.7" fill="#32e038" opacity="0.87"/><circle cx="73.8" cy="76.0" r="1.2" fill="#32e038" opacity="0.55"/><circle cx="70.1" cy="78.5" r="1.2" fill="#32e038" opacity="0.94"/><circle cx="73.8" cy="72.8" r="0.8" fill="#32e038" opacity="0.90"/><circle cx="73.2" cy="71.2" r="1.1" fill="#32e038" opacity="0.62"/><circle cx="72.6" cy="71.2" r="0.6" fill="#32e038" opacity="1.00"/><circle cx="71.8" cy="74.1" r="0.7" fill="#32e038" opacity="0.74"/><circle cx="75.7" cy="70.4" r="0.8" fill="#32e038" opacity="0.84"/><circle cx="77.4" cy="70.9" r="1.1" fill="#32e038" opacity="0.56"/><circle cx="74.3" cy="69.3" r="1.4" fill="#32e038" opacity="0.67"/><circle cx="78.4" cy="72.5" r="1.4" fill="#32e038" opacity="0.87"/><circle cx="77.8" cy="67.2" r="0.8" fill="#32e038" opacity="0.53"/><circle cx="81.8" cy="65.8" r="1.0" fill="#32e038" opacity="0.78"/><circle cx="79.8" cy="64.5" r="1.2" fill="#32e038" opacity="0.83"/><circle cx="78.1" cy="62.7" r="1.2" fill="#32e038" opacity="0.99"/><circle cx="84.7" cy="60.0" r="1.0" fill="#32e038" opacity="0.66"/><circle cx="62.4" cy="89.1" r="0.9" fill="#32e038" opacity="0.69"/><circle cx="67.0" cy="87.9" r="1.5" fill="#32e038" opacity="0.50"/><circle cx="64.0" cy="84.9" r="0.8" fill="#32e038" opacity="0.81"/><circle cx="67.2" cy="90.7" r="0.8" fill="#32e038" opacity="0.56"/><circle cx="70.9" cy="87.1" r="1.4" fill="#32e038" opacity="0.52"/><circle cx="68.0" cy="89.7" r="1.2" fill="#32e038" opacity="0.77"/><circle cx="66.3" cy="98.7" r="0.6" fill="#32e038" opacity="0.87"/><circle cx="70.7" cy="91.7" r="1.1" fill="#32e038" opacity="1.00"/><circle cx="69.5" cy="98.5" r="1.3" fill="#32e038" opacity="0.69"/><circle cx="68.8" cy="94.0" r="1.1" fill="#32e038" opacity="0.81"/><circle cx="68.6" cy="95.6" r="1.2" fill="#32e038" opacity="0.77"/><circle cx="70.2" cy="101.9" r="0.8" fill="#32e038" opacity="0.95"/><circle cx="66.0" cy="100.5" r="1.1" fill="#32e038" opacity="0.74"/><circle cx="70.2" cy="102.3" r="1.4" fill="#32e038" opacity="0.76"/><circle cx="67.8" cy="101.6" r="1.3" fill="#32e038" opacity="0.62"/><circle cx="73.4" cy="106.9" r="1.0" fill="#32e038" opacity="0.82"/><circle cx="74.4" cy="99.5" r="1.4" fill="#32e038" opacity="0.52"/><circle cx="69.3" cy="108.1" r="1.3" fill="#32e038" opacity="0.56"/><circle cx="74.4" cy="107.5" r="0.7" fill="#32e038" opacity="0.68"/><circle cx="42.0" cy="90.2" r="1.0" fill="#32e038" opacity="0.54"/><circle cx="33.7" cy="98.8" r="1.2" fill="#32e038" opacity="0.72"/><circle cx="35.1" cy="95.2" r="1.3" fill="#32e038" opacity="0.57"/><circle cx="37.5" cy="93.4" r="1.1" fill="#32e038" opacity="0.62"/><circle cx="36.2" cy="97.9" r="0.9" fill="#32e038" opacity="0.51"/><circle cx="37.8" cy="100.1" r="0.7" fill="#32e038" opacity="0.59"/><circle cx="35.6" cy="96.1" r="0.9" fill="#32e038" opacity="0.62"/><circle cx="35.5" cy="97.9" r="1.2" fill="#32e038" opacity="0.93"/><circle cx="34.8" cy="102.0" r="1.3" fill="#32e038" opacity="0.81"/><circle cx="32.5" cy="100.9" r="1.0" fill="#32e038" opacity="0.68"/><circle cx="31.5" cy="99.2" r="1.0" fill="#32e038" opacity="0.82"/><circle cx="86.8" cy="38.9" r="0.9" fill="#32e038" opacity="0.79"/><circle cx="88.4" cy="40.8" r="1.5" fill="#32e038" opacity="0.86"/><circle cx="85.5" cy="44.6" r="0.9" fill="#32e038" opacity="0.54"/><circle cx="89.1" cy="40.2" r="1.1" fill="#32e038" opacity="0.75"/><circle cx="93.3" cy="40.7" r="0.6" fill="#32e038" opacity="0.80"/><circle cx="88.7" cy="44.0" r="1.4" fill="#32e038" opacity="0.71"/><circle cx="87.7" cy="44.5" r="1.0" fill="#32e038" opacity="0.75"/><circle cx="89.5" cy="43.7" r="1.2" fill="#32e038" opacity="0.87"/><circle cx="94.6" cy="44.4" r="1.2" fill="#32e038" opacity="0.78"/><circle cx="96.9" cy="39.9" r="0.7" fill="#32e038" opacity="0.61"/><circle cx="101.5" cy="46.1" r="0.7" fill="#32e038" opacity="0.54"/><circle cx="98.9" cy="40.9" r="0.6" fill="#32e038" opacity="0.84"/><circle cx="99.3" cy="41.3" r="0.6" fill="#32e038" opacity="0.85"/><circle cx="98.4" cy="45.2" r="1.5" fill="#32e038" opacity="0.91"/><circle cx="103.3" cy="42.4" r="0.9" fill="#32e038" opacity="0.76"/><circle cx="110.7" cy="43.3" r="0.8" fill="#32e038" opacity="0.63"/><circle cx="104.0" cy="44.4" r="1.4" fill="#32e038" opacity="0.78"/><circle cx="103.3" cy="42.2" r="0.6" fill="#32e038" opacity="0.65"/><circle cx="109.9" cy="38.8" r="1.4" fill="#32e038" opacity="0.63"/><circle cx="107.5" cy="41.6" r="1.1" fill="#32e038" opacity="0.69"/><circle cx="104.9" cy="40.3" r="1.1" fill="#32e038" opacity="0.68"/><circle cx="108.4" cy="37.1" r="1.4" fill="#32e038" opacity="0.78"/><circle cx="110.1" cy="38.1" r="1.1" fill="#32e038" opacity="0.70"/><circle cx="106.5" cy="35.4" r="0.8" fill="#32e038" opacity="0.90"/><circle cx="107.7" cy="38.8" r="1.3" fill="#32e038" opacity="0.80"/><circle cx="103.6" cy="35.6" r="1.0" fill="#32e038" opacity="0.94"/><circle cx="111.5" cy="33.8" r="1.2" fill="#32e038" opacity="0.52"/><circle cx="109.9" cy="31.0" r="1.1" fill="#32e038" opacity="0.59"/><circle cx="112.1" cy="29.1" r="1.3" fill="#32e038" opacity="0.75"/><circle cx="107.9" cy="26.2" r="0.9" fill="#32e038" opacity="0.61"/><circle cx="110.4" cy="27.1" r="1.4" fill="#32e038" opacity="0.60"/><circle cx="110.7" cy="27.8" r="1.3" fill="#32e038" opacity="0.98"/><circle cx="107.0" cy="27.8" r="0.8" fill="#32e038" opacity="0.95"/><circle cx="108.2" cy="24.2" r="0.7" fill="#32e038" opacity="0.85"/><circle cx="111.9" cy="26.2" r="0.9" fill="#32e038" opacity="0.62"/><circle cx="104.4" cy="23.5" r="1.1" fill="#32e038" opacity="0.58"/><circle cx="106.8" cy="22.9" r="1.4" fill="#32e038" opacity="0.58"/><circle cx="105.7" cy="17.6" r="1.0" fill="#32e038" opacity="0.52"/><circle cx="99.8" cy="26.4" r="0.8" fill="#32e038" opacity="0.77"/><circle cx="103.2" cy="49.5" r="1.3" fill="#32e038" opacity="0.71"/><circle cx="100.5" cy="48.1" r="1.3" fill="#32e038" opacity="0.56"/><circle cx="108.1" cy="46.6" r="1.4" fill="#32e038" opacity="0.76"/><circle cx="100.4" cy="53.6" r="1.3" fill="#32e038" opacity="0.75"/><circle cx="102.0" cy="52.1" r="1.0" fill="#32e038" opacity="0.93"/><circle cx="98.6" cy="52.0" r="0.7" fill="#32e038" opacity="0.57"/><circle cx="100.3" cy="59.9" r="1.4" fill="#32e038" opacity="0.61"/><circle cx="101.5" cy="55.7" r="1.1" fill="#32e038" opacity="0.98"/><circle cx="97.8" cy="62.0" r="1.2" fill="#32e038" opacity="0.53"/><circle cx="99.7" cy="60.6" r="0.8" fill="#32e038" opacity="0.87"/><circle cx="102.8" cy="63.3" r="0.9" fill="#32e038" opacity="0.53"/><circle cx="100.0" cy="60.3" r="1.1" fill="#32e038" opacity="0.89"/><circle cx="98.8" cy="60.3" r="0.6" fill="#32e038" opacity="0.76"/><circle cx="103.8" cy="65.0" r="0.7" fill="#32e038" opacity="0.79"/><circle cx="98.8" cy="65.9" r="1.2" fill="#32e038" opacity="0.58"/><circle cx="102.2" cy="70.0" r="0.9" fill="#32e038" opacity="0.92"/><circle cx="100.5" cy="64.0" r="0.7" fill="#32e038" opacity="0.55"/><circle cx="98.7" cy="66.2" r="1.0" fill="#32e038" opacity="0.77"/><circle cx="99.0" cy="69.8" r="0.7" fill="#32e038" opacity="0.77"/><circle cx="94.0" cy="68.9" r="0.8" fill="#32e038" opacity="0.70"/><circle cx="95.9" cy="71.2" r="0.8" fill="#32e038" opacity="0.94"/><circle cx="89.7" cy="70.9" r="0.6" fill="#32e038" opacity="0.97"/><circle cx="89.8" cy="72.3" r="1.1" fill="#32e038" opacity="0.84"/><circle cx="95.7" cy="76.0" r="0.7" fill="#32e038" opacity="0.63"/><circle cx="98.8" cy="72.5" r="1.1" fill="#32e038" opacity="0.65"/><circle cx="98.4" cy="71.4" r="1.1" fill="#32e038" opacity="0.62"/><circle cx="95.3" cy="69.6" r="1.2" fill="#32e038" opacity="0.53"/><circle cx="100.1" cy="75.2" r="1.5" fill="#32e038" opacity="0.52"/><circle cx="98.5" cy="69.3" r="1.3" fill="#32e038" opacity="0.67"/><circle cx="103.3" cy="69.2" r="1.4" fill="#32e038" opacity="0.51"/><circle cx="105.8" cy="70.6" r="1.0" fill="#32e038" opacity="0.54"/><circle cx="104.8" cy="75.2" r="1.2" fill="#32e038" opacity="0.58"/><circle cx="105.1" cy="72.3" r="0.8" fill="#32e038" opacity="0.61"/><circle cx="15.8" cy="53.7" r="1.5" fill="#32e038" opacity="0.90"/><circle cx="16.6" cy="49.5" r="1.3" fill="#32e038" opacity="0.95"/><circle cx="19.9" cy="46.9" r="0.8" fill="#32e038" opacity="0.81"/><circle cx="22.7" cy="48.0" r="0.7" fill="#32e038" opacity="0.86"/><circle cx="19.9" cy="53.7" r="1.5" fill="#32e038" opacity="0.84"/><circle cx="21.1" cy="52.4" r="1.3" fill="#32e038" opacity="0.97"/><circle cx="24.8" cy="52.6" r="1.3" fill="#32e038" opacity="0.90"/><circle cx="19.8" cy="54.6" r="1.3" fill="#32e038" opacity="0.89"/><circle cx="23.1" cy="55.7" r="1.5" fill="#32e038" opacity="0.77"/><circle cx="22.6" cy="57.9" r="1.5" fill="#32e038" opacity="0.89"/><circle cx="21.1" cy="64.0" r="0.8" fill="#32e038" opacity="0.60"/><circle cx="19.2" cy="61.0" r="1.0" fill="#32e038" opacity="0.95"/><circle cx="19.1" cy="58.2" r="1.0" fill="#32e038" opacity="0.89"/><circle cx="21.3" cy="59.4" r="1.4" fill="#32e038" opacity="0.91"/><circle cx="19.1" cy="64.6" r="1.2" fill="#32e038" opacity="0.92"/><circle cx="19.3" cy="67.4" r="1.4" fill="#32e038" opacity="0.90"/><circle cx="24.8" cy="65.4" r="0.6" fill="#32e038" opacity="0.56"/><circle cx="24.0" cy="63.7" r="1.1" fill="#32e038" opacity="0.73"/><circle cx="23.1" cy="68.1" r="0.9" fill="#32e038" opacity="0.92"/><circle cx="23.5" cy="66.0" r="0.7" fill="#32e038" opacity="0.64"/><circle cx="33.2" cy="53.5" r="1.2" fill="#32e038" opacity="0.90"/><circle cx="37.8" cy="58.9" r="0.6" fill="#32e038" opacity="0.91"/><circle cx="37.2" cy="58.5" r="1.5" fill="#32e038" opacity="0.68"/><circle cx="38.4" cy="62.2" r="1.1" fill="#32e038" opacity="0.95"/><circle cx="36.6" cy="59.3" r="1.5" fill="#32e038" opacity="0.75"/><circle cx="41.6" cy="57.9" r="1.3" fill="#32e038" opacity="0.58"/><circle cx="40.7" cy="58.8" r="0.8" fill="#32e038" opacity="0.97"/><circle cx="37.4" cy="60.8" r="0.8" fill="#32e038" opacity="0.68"/><circle cx="44.9" cy="62.2" r="1.4" fill="#32e038" opacity="0.76"/><circle cx="39.3" cy="65.1" r="1.4" fill="#32e038" opacity="0.83"/><circle cx="28.0" cy="41.5" r="1.0" fill="#32e038" opacity="0.98"/><circle cx="21.6" cy="42.4" r="1.2" fill="#32e038" opacity="0.69"/><circle cx="19.1" cy="38.8" r="1.4" fill="#32e038" opacity="0.75"/><circle cx="17.2" cy="44.0" r="0.7" fill="#32e038" opacity="0.92"/><circle cx="19.1" cy="35.9" r="1.0" fill="#32e038" opacity="0.88"/><circle cx="22.2" cy="35.9" r="1.3" fill="#32e038" opacity="0.52"/><circle cx="17.4" cy="39.2" r="1.5" fill="#32e038" opacity="0.95"/><circle cx="18.8" cy="40.1" r="1.1" fill="#32e038" opacity="0.52"/><circle cx="12.5" cy="39.7" r="1.2" fill="#32e038" opacity="0.64"/><circle cx="14.6" cy="34.8" r="1.1" fill="#32e038" opacity="0.71"/><circle cx="16.6" cy="35.9" r="1.3" fill="#32e038" opacity="0.84"/><circle cx="57.5" cy="26.2" r="1.2" fill="#32e038" opacity="0.85"/><circle cx="61.5" cy="24.5" r="1.1" fill="#32e038" opacity="0.91"/><circle cx="62.0" cy="22.2" r="0.7" fill="#32e038" opacity="0.76"/><circle cx="62.2" cy="24.4" r="1.3" fill="#32e038" opacity="0.59"/><circle cx="60.6" cy="27.3" r="0.9" fill="#32e038" opacity="0.69"/><circle cx="66.6" cy="26.4" r="0.8" fill="#32e038" opacity="0.65"/><circle cx="61.8" cy="28.3" r="0.9" fill="#32e038" opacity="0.72"/><circle cx="61.4" cy="31.2" r="1.0" fill="#32e038" opacity="0.69"/><circle cx="61.2" cy="30.6" r="0.8" fill="#32e038" opacity="0.95"/><circle cx="54.3" cy="33.4" r="1.2" fill="#32e038" opacity="0.89"/><circle cx="57.5" cy="34.3" r="1.3" fill="#32e038" opacity="0.74"/><circle cx="54.0" cy="32.7" r="1.3" fill="#32e038" opacity="0.64"/><circle cx="53.2" cy="39.1" r="1.1" fill="#32e038" opacity="0.64"/><circle cx="105.7" cy="40.6" r="1.3" fill="#32e038" opacity="0.52"/><circle cx="109.4" cy="40.0" r="0.9" fill="#32e038" opacity="0.97"/><circle cx="108.8" cy="45.4" r="0.7" fill="#32e038" opacity="0.77"/><circle cx="110.1" cy="40.8" r="1.0" fill="#32e038" opacity="0.90"/><circle cx="112.6" cy="46.5" r="1.2" fill="#32e038" opacity="0.98"/><circle cx="5" cy="46" r="3" fill="#4cf852"/><circle cx="59" cy="51" r="3.2" fill="#4cf852"/><circle cx="44" cy="72" r="2.8" fill="#4cf852"/><circle cx="41" cy="93" r="3.4" fill="#4cf852"/><circle cx="74" cy="68.5" r="2.6" fill="#4cf852"/><circle cx="68" cy="20" r="3" fill="#4cf852"/><circle cx="75" cy="24" r="2.4" fill="#4cf852"/><circle cx="31" cy="33" r="2.6" fill="#4cf852"/><circle cx="86" cy="41" r="2.4" fill="#4cf852"/><circle cx="94" cy="44" r="2.2" fill="#4cf852"/><circle cx="107" cy="42" r="2.6" fill="#4cf852"/><circle cx="83" cy="62" r="2.2" fill="#4cf852"/><circle cx="19" cy="48" r="2.2" fill="#4cf852"/><circle cx="4" cy="98" r="1.8" fill="#4cf852"/><circle cx="25" cy="2.5" r="1.6" fill="#4cf852"/><circle cx="28" cy="3" r="1.2" fill="#4cf852"/><circle cx="94" cy="72" r="2" fill="#4cf852"/><circle cx="70" cy="101" r="2" fill="#4cf852"/></g>
</svg>
<rect x="412.7" y="616.3" width="11.8" height="2.4" fill="#fff"/>
</g>
<g id="panel-h">
<text x="0.5" y="661" font-size="22" text-anchor="start" font-weight="bold" fill="#000">h</text>
<path d="M58.8 818.6 V827.6 M56.9 818.6 h3.8 M56.9 827.6 h3.8" stroke="#f5101a" stroke-width="1.5" fill="none"/><path d="M64.0 819.7 V828.7 M62.1 819.7 h3.8 M62.1 828.7 h3.8" stroke="#f5101a" stroke-width="1.5" fill="none"/><path d="M69.2 819.7 V828.7 M67.3 819.7 h3.8 M67.3 828.7 h3.8" stroke="#f5101a" stroke-width="1.5" fill="none"/><path d="M74.4 815.7 V824.6 M72.5 815.7 h3.8 M72.5 824.6 h3.8" stroke="#f5101a" stroke-width="1.5" fill="none"/><path d="M79.6 815.7 V819.2 M77.7 815.7 h3.8 M77.7 819.2 h3.8" stroke="#f5101a" stroke-width="1.5" fill="none"/><path d="M84.8 808.9 V812.5 M82.9 808.9 h3.8 M82.9 812.5 h3.8" stroke="#f5101a" stroke-width="1.5" fill="none"/><path d="M90.0 803.3 V806.9 M88.1 803.3 h3.8 M88.1 806.9 h3.8" stroke="#f5101a" stroke-width="1.5" fill="none"/><path d="M95.2 797.7 V801.3 M93.3 797.7 h3.8 M93.3 801.3 h3.8" stroke="#f5101a" stroke-width="1.5" fill="none"/><path d="M100.4 792.1 V795.7 M98.5 792.1 h3.8 M98.5 795.7 h3.8" stroke="#f5101a" stroke-width="1.5" fill="none"/><path d="M105.6 786.9 V790.5 M103.7 786.9 h3.8 M103.7 790.5 h3.8" stroke="#f5101a" stroke-width="1.5" fill="none"/><path d="M110.8 781.5 V785.1 M108.9 781.5 h3.8 M108.9 785.1 h3.8" stroke="#f5101a" stroke-width="1.5" fill="none"/><path d="M116.0 775.9 V779.5 M114.1 775.9 h3.8 M114.1 779.5 h3.8" stroke="#f5101a" stroke-width="1.5" fill="none"/><path d="M121.2 770.8 V774.3 M119.3 770.8 h3.8 M119.3 774.3 h3.8" stroke="#f5101a" stroke-width="1.5" fill="none"/><path d="M126.3 765.6 V769.2 M124.4 765.6 h3.8 M124.4 769.2 h3.8" stroke="#f5101a" stroke-width="1.5" fill="none"/><path d="M131.5 761.1 V764.7 M129.6 761.1 h3.8 M129.6 764.7 h3.8" stroke="#f5101a" stroke-width="1.5" fill="none"/><path d="M136.7 757.3 V760.9 M134.8 757.3 h3.8 M134.8 760.9 h3.8" stroke="#f5101a" stroke-width="1.5" fill="none"/><path d="M141.9 753.2 V756.8 M140.0 753.2 h3.8 M140.0 756.8 h3.8" stroke="#f5101a" stroke-width="1.5" fill="none"/><path d="M147.1 749.2 V752.8 M145.2 749.2 h3.8 M145.2 752.8 h3.8" stroke="#f5101a" stroke-width="1.5" fill="none"/><path d="M152.3 745.2 V748.8 M150.4 745.2 h3.8 M150.4 748.8 h3.8" stroke="#f5101a" stroke-width="1.5" fill="none"/><path d="M157.5 741.3 V744.9 M155.6 741.3 h3.8 M155.6 744.9 h3.8" stroke="#f5101a" stroke-width="1.5" fill="none"/><path d="M162.7 737.5 V741.1 M160.8 737.5 h3.8 M160.8 741.1 h3.8" stroke="#f5101a" stroke-width="1.5" fill="none"/><path d="M167.9 734.4 V738.0 M166.0 734.4 h3.8 M166.0 738.0 h3.8" stroke="#f5101a" stroke-width="1.5" fill="none"/><path d="M173.1 731.5 V735.1 M171.2 731.5 h3.8 M171.2 735.1 h3.8" stroke="#f5101a" stroke-width="1.5" fill="none"/><path d="M178.3 728.1 V731.7 M176.4 728.1 h3.8 M176.4 731.7 h3.8" stroke="#f5101a" stroke-width="1.5" fill="none"/><path d="M183.5 725.2 V728.8 M181.6 725.2 h3.8 M181.6 728.8 h3.8" stroke="#f5101a" stroke-width="1.5" fill="none"/><path d="M188.7 722.3 V725.9 M186.8 722.3 h3.8 M186.8 725.9 h3.8" stroke="#f5101a" stroke-width="1.5" fill="none"/><path d="M193.9 720.2 V723.8 M192.0 720.2 h3.8 M192.0 723.8 h3.8" stroke="#f5101a" stroke-width="1.5" fill="none"/><path d="M199.1 718.2 V721.8 M197.2 718.2 h3.8 M197.2 721.8 h3.8" stroke="#f5101a" stroke-width="1.5" fill="none"/><path d="M204.3 716.9 V720.5 M202.4 716.9 h3.8 M202.4 720.5 h3.8" stroke="#f5101a" stroke-width="1.5" fill="none"/><path d="M209.5 715.8 V719.3 M207.6 715.8 h3.8 M207.6 719.3 h3.8" stroke="#f5101a" stroke-width="1.5" fill="none"/><path d="M214.7 714.2 V717.8 M212.8 714.2 h3.8 M212.8 717.8 h3.8" stroke="#f5101a" stroke-width="1.5" fill="none"/><path d="M219.9 711.3 V714.9 M218.0 711.3 h3.8 M218.0 714.9 h3.8" stroke="#f5101a" stroke-width="1.5" fill="none"/><path d="M225.1 709.7 V713.3 M223.2 709.7 h3.8 M223.2 713.3 h3.8" stroke="#f5101a" stroke-width="1.5" fill="none"/><path d="M230.3 707.2 V711.2 M228.4 707.2 h3.8 M228.4 711.2 h3.8" stroke="#f5101a" stroke-width="1.5" fill="none"/><path d="M235.5 705.0 V709.9 M233.6 705.0 h3.8 M233.6 709.9 h3.8" stroke="#f5101a" stroke-width="1.5" fill="none"/><path d="M240.7 702.1 V708.3 M238.8 702.1 h3.8 M238.8 708.3 h3.8" stroke="#f5101a" stroke-width="1.5" fill="none"/><path d="M245.9 699.0 V706.9 M244.0 699.0 h3.8 M244.0 706.9 h3.8" stroke="#f5101a" stroke-width="1.5" fill="none"/><path d="M251.1 696.2 V706.1 M249.2 696.2 h3.8 M249.2 706.1 h3.8" stroke="#f5101a" stroke-width="1.5" fill="none"/><path d="M256.2 693.5 V705.6 M254.3 693.5 h3.8 M254.3 705.6 h3.8" stroke="#f5101a" stroke-width="1.5" fill="none"/><path d="M261.4 691.1 V705.8 M259.5 691.1 h3.8 M259.5 705.8 h3.8" stroke="#f5101a" stroke-width="1.5" fill="none"/><path d="M266.6 687.9 V705.4 M264.7 687.9 h3.8 M264.7 705.4 h3.8" stroke="#f5101a" stroke-width="1.5" fill="none"/><path d="M271.8 683.7 V704.2 M269.9 683.7 h3.8 M269.9 704.2 h3.8" stroke="#f5101a" stroke-width="1.5" fill="none"/><path d="M277.0 679.8 V703.7 M275.1 679.8 h3.8 M275.1 703.7 h3.8" stroke="#f5101a" stroke-width="1.5" fill="none"/><path d="M282.2 675.8 V703.2 M280.3 675.8 h3.8 M280.3 703.2 h3.8" stroke="#f5101a" stroke-width="1.5" fill="none"/><path d="M287.4 671.2 V702.4 M285.5 671.2 h3.8 M285.5 702.4 h3.8" stroke="#f5101a" stroke-width="1.5" fill="none"/><path d="M292.6 666.3 V701.5 M290.7 666.3 h3.8 M290.7 701.5 h3.8" stroke="#f5101a" stroke-width="1.5" fill="none"/><path d="M58.8 823.1 L64.0 824.2 L69.2 824.2 L74.4 820.1 L79.6 817.4 L84.8 810.7 L90.0 805.1 L95.2 799.5 L100.4 793.9 L105.6 788.7 L110.8 783.3 L116.0 777.7 L121.2 772.5 L126.3 767.4 L131.5 762.9 L136.7 759.1 L141.9 755.0 L147.1 751.0 L152.3 747.0 L157.5 743.1 L162.7 739.3 L167.9 736.2 L173.1 733.3 L178.3 729.9 L183.5 727.0 L188.7 724.1 L193.9 722.0 L199.1 720.0 L204.3 718.7 L209.5 717.5 L214.7 716.0 L219.9 713.1 L225.1 711.5 L230.3 709.2 L235.5 707.4 L240.7 705.2 L245.9 703.0 L251.1 701.2 L256.2 699.6 L261.4 698.5 L266.6 696.7 L271.8 694.0 L277.0 691.7 L282.2 689.5 L287.4 686.8 L292.6 683.9" fill="none" stroke="#f5101a" stroke-width="2" stroke-linejoin="round"/><circle cx="58.8" cy="823.1" r="2.4" fill="#f5101a"/><circle cx="64.0" cy="824.2" r="2.4" fill="#f5101a"/><circle cx="69.2" cy="824.2" r="2.4" fill="#f5101a"/><circle cx="74.4" cy="820.1" r="2.4" fill="#f5101a"/><circle cx="79.6" cy="817.4" r="2.4" fill="#f5101a"/><circle cx="84.8" cy="810.7" r="2.4" fill="#f5101a"/><circle cx="90.0" cy="805.1" r="2.4" fill="#f5101a"/><circle cx="95.2" cy="799.5" r="2.4" fill="#f5101a"/><circle cx="100.4" cy="793.9" r="2.4" fill="#f5101a"/><circle cx="105.6" cy="788.7" r="2.4" fill="#f5101a"/><circle cx="110.8" cy="783.3" r="2.4" fill="#f5101a"/><circle cx="116.0" cy="777.7" r="2.4" fill="#f5101a"/><circle cx="121.2" cy="772.5" r="2.4" fill="#f5101a"/><circle cx="126.3" cy="767.4" r="2.4" fill="#f5101a"/><circle cx="131.5" cy="762.9" r="2.4" fill="#f5101a"/><circle cx="136.7" cy="759.1" r="2.4" fill="#f5101a"/><circle cx="141.9" cy="755.0" r="2.4" fill="#f5101a"/><circle cx="147.1" cy="751.0" r="2.4" fill="#f5101a"/><circle cx="152.3" cy="747.0" r="2.4" fill="#f5101a"/><circle cx="157.5" cy="743.1" r="2.4" fill="#f5101a"/><circle cx="162.7" cy="739.3" r="2.4" fill="#f5101a"/><circle cx="167.9" cy="736.2" r="2.4" fill="#f5101a"/><circle cx="173.1" cy="733.3" r="2.4" fill="#f5101a"/><circle cx="178.3" cy="729.9" r="2.4" fill="#f5101a"/><circle cx="183.5" cy="727.0" r="2.4" fill="#f5101a"/><circle cx="188.7" cy="724.1" r="2.4" fill="#f5101a"/><circle cx="193.9" cy="722.0" r="2.4" fill="#f5101a"/><circle cx="199.1" cy="720.0" r="2.4" fill="#f5101a"/><circle cx="204.3" cy="718.7" r="2.4" fill="#f5101a"/><circle cx="209.5" cy="717.5" r="2.4" fill="#f5101a"/><circle cx="214.7" cy="716.0" r="2.4" fill="#f5101a"/><circle cx="219.9" cy="713.1" r="2.4" fill="#f5101a"/><circle cx="225.1" cy="711.5" r="2.4" fill="#f5101a"/><circle cx="230.3" cy="709.2" r="2.4" fill="#f5101a"/><circle cx="235.5" cy="707.4" r="2.4" fill="#f5101a"/><circle cx="240.7" cy="705.2" r="2.4" fill="#f5101a"/><circle cx="245.9" cy="703.0" r="2.4" fill="#f5101a"/><circle cx="251.1" cy="701.2" r="2.4" fill="#f5101a"/><circle cx="256.2" cy="699.6" r="2.4" fill="#f5101a"/><circle cx="261.4" cy="698.5" r="2.4" fill="#f5101a"/><circle cx="266.6" cy="696.7" r="2.4" fill="#f5101a"/><circle cx="271.8" cy="694.0" r="2.4" fill="#f5101a"/><circle cx="277.0" cy="691.7" r="2.4" fill="#f5101a"/><circle cx="282.2" cy="689.5" r="2.4" fill="#f5101a"/><circle cx="287.4" cy="686.8" r="2.4" fill="#f5101a"/><circle cx="292.6" cy="683.9" r="2.4" fill="#f5101a"/>
<path d="M58.8 819.2 V824.6 M56.9 819.2 h3.8 M56.9 824.6 h3.8" stroke="#ff8210" stroke-width="1.5" fill="none"/><path d="M64.0 816.5 V821.9 M62.1 816.5 h3.8 M62.1 821.9 h3.8" stroke="#ff8210" stroke-width="1.5" fill="none"/><path d="M69.2 813.7 V819.1 M67.3 813.7 h3.8 M67.3 819.1 h3.8" stroke="#ff8210" stroke-width="1.5" fill="none"/><path d="M74.4 810.9 V816.3 M72.5 810.9 h3.8 M72.5 816.3 h3.8" stroke="#ff8210" stroke-width="1.5" fill="none"/><path d="M79.6 808.1 V813.5 M77.7 808.1 h3.8 M77.7 813.5 h3.8" stroke="#ff8210" stroke-width="1.5" fill="none"/><path d="M84.8 805.3 V810.7 M82.9 805.3 h3.8 M82.9 810.7 h3.8" stroke="#ff8210" stroke-width="1.5" fill="none"/><path d="M90.0 801.9 V807.3 M88.1 801.9 h3.8 M88.1 807.3 h3.8" stroke="#ff8210" stroke-width="1.5" fill="none"/><path d="M95.2 798.4 V803.8 M93.3 798.4 h3.8 M93.3 803.8 h3.8" stroke="#ff8210" stroke-width="1.5" fill="none"/><path d="M100.4 795.0 V800.4 M98.5 795.0 h3.8 M98.5 800.4 h3.8" stroke="#ff8210" stroke-width="1.5" fill="none"/><path d="M105.6 792.2 V797.6 M103.7 792.2 h3.8 M103.7 797.6 h3.8" stroke="#ff8210" stroke-width="1.5" fill="none"/><path d="M110.8 788.0 V796.1 M108.9 788.0 h3.8 M108.9 796.1 h3.8" stroke="#ff8210" stroke-width="1.5" fill="none"/><path d="M116.0 784.7 V793.0 M114.1 784.7 h3.8 M114.1 793.0 h3.8" stroke="#ff8210" stroke-width="1.5" fill="none"/><path d="M121.2 781.4 V789.9 M119.3 781.4 h3.8 M119.3 789.9 h3.8" stroke="#ff8210" stroke-width="1.5" fill="none"/><path d="M126.3 778.0 V786.7 M124.4 778.0 h3.8 M124.4 786.7 h3.8" stroke="#ff8210" stroke-width="1.5" fill="none"/><path d="M131.5 774.7 V783.6 M129.6 774.7 h3.8 M129.6 783.6 h3.8" stroke="#ff8210" stroke-width="1.5" fill="none"/><path d="M136.7 771.4 V780.5 M134.8 771.4 h3.8 M134.8 780.5 h3.8" stroke="#ff8210" stroke-width="1.5" fill="none"/><path d="M141.9 768.6 V777.9 M140.0 768.6 h3.8 M140.0 777.9 h3.8" stroke="#ff8210" stroke-width="1.5" fill="none"/><path d="M147.1 765.8 V775.3 M145.2 765.8 h3.8 M145.2 775.3 h3.8" stroke="#ff8210" stroke-width="1.5" fill="none"/><path d="M152.3 763.0 V772.7 M150.4 763.0 h3.8 M150.4 772.7 h3.8" stroke="#ff8210" stroke-width="1.5" fill="none"/><path d="M157.5 760.2 V770.1 M155.6 760.2 h3.8 M155.6 770.1 h3.8" stroke="#ff8210" stroke-width="1.5" fill="none"/><path d="M162.7 755.2 V765.3 M160.8 755.2 h3.8 M160.8 765.3 h3.8" stroke="#ff8210" stroke-width="1.5" fill="none"/><path d="M167.9 753.3 V763.6 M166.0 753.3 h3.8 M166.0 763.6 h3.8" stroke="#ff8210" stroke-width="1.5" fill="none"/><path d="M173.1 751.4 V761.9 M171.2 751.4 h3.8 M171.2 761.9 h3.8" stroke="#ff8210" stroke-width="1.5" fill="none"/><path d="M178.3 749.5 V760.2 M176.4 749.5 h3.8 M176.4 760.2 h3.8" stroke="#ff8210" stroke-width="1.5" fill="none"/><path d="M183.5 747.6 V758.5 M181.6 747.6 h3.8 M181.6 758.5 h3.8" stroke="#ff8210" stroke-width="1.5" fill="none"/><path d="M188.7 745.7 V756.8 M186.8 745.7 h3.8 M186.8 756.8 h3.8" stroke="#ff8210" stroke-width="1.5" fill="none"/><path d="M193.9 744.0 V755.3 M192.0 744.0 h3.8 M192.0 755.3 h3.8" stroke="#ff8210" stroke-width="1.5" fill="none"/><path d="M199.1 742.3 V753.8 M197.2 742.3 h3.8 M197.2 753.8 h3.8" stroke="#ff8210" stroke-width="1.5" fill="none"/><path d="M204.3 740.6 V752.4 M202.4 740.6 h3.8 M202.4 752.4 h3.8" stroke="#ff8210" stroke-width="1.5" fill="none"/><path d="M209.5 735.6 V747.5 M207.6 735.6 h3.8 M207.6 747.5 h3.8" stroke="#ff8210" stroke-width="1.5" fill="none"/><path d="M214.7 734.9 V747.1 M212.8 734.9 h3.8 M212.8 747.1 h3.8" stroke="#ff8210" stroke-width="1.5" fill="none"/><path d="M219.9 734.3 V746.6 M218.0 734.3 h3.8 M218.0 746.6 h3.8" stroke="#ff8210" stroke-width="1.5" fill="none"/><path d="M225.1 731.5 V744.0 M223.2 731.5 h3.8 M223.2 744.0 h3.8" stroke="#ff8210" stroke-width="1.5" fill="none"/><path d="M230.3 729.1 V741.8 M228.4 729.1 h3.8 M228.4 741.8 h3.8" stroke="#ff8210" stroke-width="1.5" fill="none"/><path d="M235.5 726.6 V739.6 M233.6 726.6 h3.8 M233.6 739.6 h3.8" stroke="#ff8210" stroke-width="1.5" fill="none"/><path d="M240.7 724.2 V737.4 M238.8 724.2 h3.8 M238.8 737.4 h3.8" stroke="#ff8210" stroke-width="1.5" fill="none"/><path d="M245.9 722.8 V736.1 M244.0 722.8 h3.8 M244.0 736.1 h3.8" stroke="#ff8210" stroke-width="1.5" fill="none"/><path d="M251.1 721.3 V734.9 M249.2 721.3 h3.8 M249.2 734.9 h3.8" stroke="#ff8210" stroke-width="1.5" fill="none"/><path d="M256.2 719.9 V733.6 M254.3 719.9 h3.8 M254.3 733.6 h3.8" stroke="#ff8210" stroke-width="1.5" fill="none"/><path d="M261.4 718.4 V732.4 M259.5 718.4 h3.8 M259.5 732.4 h3.8" stroke="#ff8210" stroke-width="1.5" fill="none"/><path d="M266.6 717.0 V731.1 M264.7 717.0 h3.8 M264.7 731.1 h3.8" stroke="#ff8210" stroke-width="1.5" fill="none"/><path d="M271.8 715.3 V729.6 M269.9 715.3 h3.8 M269.9 729.6 h3.8" stroke="#ff8210" stroke-width="1.5" fill="none"/><path d="M277.0 713.6 V728.1 M275.1 713.6 h3.8 M275.1 728.1 h3.8" stroke="#ff8210" stroke-width="1.5" fill="none"/><path d="M282.2 711.8 V726.6 M280.3 711.8 h3.8 M280.3 726.6 h3.8" stroke="#ff8210" stroke-width="1.5" fill="none"/><path d="M287.4 710.1 V725.1 M285.5 710.1 h3.8 M285.5 725.1 h3.8" stroke="#ff8210" stroke-width="1.5" fill="none"/><path d="M292.6 708.4 V723.6 M290.7 708.4 h3.8 M290.7 723.6 h3.8" stroke="#ff8210" stroke-width="1.5" fill="none"/><path d="M58.8 821.9 L64.0 819.2 L69.2 816.4 L74.4 813.6 L79.6 810.8 L84.8 808.0 L90.0 804.6 L95.2 801.1 L100.4 797.7 L105.6 794.9 L110.8 792.1 L116.0 788.8 L121.2 785.6 L126.3 782.4 L131.5 779.2 L136.7 775.9 L141.9 773.2 L147.1 770.5 L152.3 767.8 L157.5 765.1 L162.7 760.2 L167.9 758.4 L173.1 756.6 L178.3 754.8 L183.5 753.0 L188.7 751.2 L193.9 749.7 L199.1 748.1 L204.3 746.5 L209.5 741.6 L214.7 741.0 L219.9 740.4 L225.1 737.8 L230.3 735.4 L235.5 733.1 L240.7 730.8 L245.9 729.4 L251.1 728.1 L256.2 726.8 L261.4 725.4 L266.6 724.1 L271.8 722.4 L277.0 720.8 L282.2 719.2 L287.4 717.6 L292.6 716.0" fill="none" stroke="#ff8210" stroke-width="2" stroke-linejoin="round"/><circle cx="58.8" cy="821.9" r="2.4" fill="#ff8210"/><circle cx="64.0" cy="819.2" r="2.4" fill="#ff8210"/><circle cx="69.2" cy="816.4" r="2.4" fill="#ff8210"/><circle cx="74.4" cy="813.6" r="2.4" fill="#ff8210"/><circle cx="79.6" cy="810.8" r="2.4" fill="#ff8210"/><circle cx="84.8" cy="808.0" r="2.4" fill="#ff8210"/><circle cx="90.0" cy="804.6" r="2.4" fill="#ff8210"/><circle cx="95.2" cy="801.1" r="2.4" fill="#ff8210"/><circle cx="100.4" cy="797.7" r="2.4" fill="#ff8210"/><circle cx="105.6" cy="794.9" r="2.4" fill="#ff8210"/><circle cx="110.8" cy="792.1" r="2.4" fill="#ff8210"/><circle cx="116.0" cy="788.8" r="2.4" fill="#ff8210"/><circle cx="121.2" cy="785.6" r="2.4" fill="#ff8210"/><circle cx="126.3" cy="782.4" r="2.4" fill="#ff8210"/><circle cx="131.5" cy="779.2" r="2.4" fill="#ff8210"/><circle cx="136.7" cy="775.9" r="2.4" fill="#ff8210"/><circle cx="141.9" cy="773.2" r="2.4" fill="#ff8210"/><circle cx="147.1" cy="770.5" r="2.4" fill="#ff8210"/><circle cx="152.3" cy="767.8" r="2.4" fill="#ff8210"/><circle cx="157.5" cy="765.1" r="2.4" fill="#ff8210"/><circle cx="162.7" cy="760.2" r="2.4" fill="#ff8210"/><circle cx="167.9" cy="758.4" r="2.4" fill="#ff8210"/><circle cx="173.1" cy="756.6" r="2.4" fill="#ff8210"/><circle cx="178.3" cy="754.8" r="2.4" fill="#ff8210"/><circle cx="183.5" cy="753.0" r="2.4" fill="#ff8210"/><circle cx="188.7" cy="751.2" r="2.4" fill="#ff8210"/><circle cx="193.9" cy="749.7" r="2.4" fill="#ff8210"/><circle cx="199.1" cy="748.1" r="2.4" fill="#ff8210"/><circle cx="204.3" cy="746.5" r="2.4" fill="#ff8210"/><circle cx="209.5" cy="741.6" r="2.4" fill="#ff8210"/><circle cx="214.7" cy="741.0" r="2.4" fill="#ff8210"/><circle cx="219.9" cy="740.4" r="2.4" fill="#ff8210"/><circle cx="225.1" cy="737.8" r="2.4" fill="#ff8210"/><circle cx="230.3" cy="735.4" r="2.4" fill="#ff8210"/><circle cx="235.5" cy="733.1" r="2.4" fill="#ff8210"/><circle cx="240.7" cy="730.8" r="2.4" fill="#ff8210"/><circle cx="245.9" cy="729.4" r="2.4" fill="#ff8210"/><circle cx="251.1" cy="728.1" r="2.4" fill="#ff8210"/><circle cx="256.2" cy="726.8" r="2.4" fill="#ff8210"/><circle cx="261.4" cy="725.4" r="2.4" fill="#ff8210"/><circle cx="266.6" cy="724.1" r="2.4" fill="#ff8210"/><circle cx="271.8" cy="722.4" r="2.4" fill="#ff8210"/><circle cx="277.0" cy="720.8" r="2.4" fill="#ff8210"/><circle cx="282.2" cy="719.2" r="2.4" fill="#ff8210"/><circle cx="287.4" cy="717.6" r="2.4" fill="#ff8210"/><circle cx="292.6" cy="716.0" r="2.4" fill="#ff8210"/>
<rect x="55.6" y="660.3" width="240.3" height="179.6" fill="none" stroke="#000" stroke-width="1.5"/>
<line x1="49.2" y1="660.3" x2="55.6" y2="660.3" stroke="#000" stroke-width="1.4"/>
<text x="47.2" y="664.8" font-size="12.7" text-anchor="end" font-weight="normal" fill="#111" stroke="#111" stroke-width="0.3">0.12</text>
<line x1="49.2" y1="705.1999999999999" x2="55.6" y2="705.1999999999999" stroke="#000" stroke-width="1.4"/>
<text x="47.2" y="709.6999999999999" font-size="12.7" text-anchor="end" font-weight="normal" fill="#111" stroke="#111" stroke-width="0.3">0.10</text>
<line x1="49.2" y1="750.0999999999999" x2="55.6" y2="750.0999999999999" stroke="#000" stroke-width="1.4"/>
<text x="47.2" y="754.5999999999999" font-size="12.7" text-anchor="end" font-weight="normal" fill="#111" stroke="#111" stroke-width="0.3">0.08</text>
<line x1="49.2" y1="795.0" x2="55.6" y2="795.0" stroke="#000" stroke-width="1.4"/>
<text x="47.2" y="799.5" font-size="12.7" text-anchor="end" font-weight="normal" fill="#111" stroke="#111" stroke-width="0.3">0.06</text>
<line x1="49.2" y1="839.9" x2="55.6" y2="839.9" stroke="#000" stroke-width="1.4"/>
<text x="47.2" y="844.4" font-size="12.7" text-anchor="end" font-weight="normal" fill="#111" stroke="#111" stroke-width="0.3">0.04</text>
<line x1="58.8" y1="839.9" x2="58.8" y2="846.6999999999999" stroke="#000" stroke-width="1.4"/>
<text x="58.8" y="858.9" font-size="12.7" text-anchor="middle" font-weight="normal" fill="#111" stroke="#111" stroke-width="0.3">0</text>
<line x1="84.78" y1="839.9" x2="84.78" y2="846.6999999999999" stroke="#000" stroke-width="1.4"/>
<text x="84.78" y="858.9" font-size="12.7" text-anchor="middle" font-weight="normal" fill="#111" stroke="#111" stroke-width="0.3">5</text>
<line x1="110.75999999999999" y1="839.9" x2="110.75999999999999" y2="846.6999999999999" stroke="#000" stroke-width="1.4"/>
<text x="110.75999999999999" y="858.9" font-size="12.7" text-anchor="middle" font-weight="normal" fill="#111" stroke="#111" stroke-width="0.3">10</text>
<line x1="136.74" y1="839.9" x2="136.74" y2="846.6999999999999" stroke="#000" stroke-width="1.4"/>
<text x="136.74" y="858.9" font-size="12.7" text-anchor="middle" font-weight="normal" fill="#111" stroke="#111" stroke-width="0.3">15</text>
<line x1="162.71999999999997" y1="839.9" x2="162.71999999999997" y2="846.6999999999999" stroke="#000" stroke-width="1.4"/>
<text x="162.71999999999997" y="858.9" font-size="12.7" text-anchor="middle" font-weight="normal" fill="#111" stroke="#111" stroke-width="0.3">20</text>
<line x1="188.7" y1="839.9" x2="188.7" y2="846.6999999999999" stroke="#000" stroke-width="1.4"/>
<text x="188.7" y="858.9" font-size="12.7" text-anchor="middle" font-weight="normal" fill="#111" stroke="#111" stroke-width="0.3">25</text>
<line x1="214.68" y1="839.9" x2="214.68" y2="846.6999999999999" stroke="#000" stroke-width="1.4"/>
<text x="214.68" y="858.9" font-size="12.7" text-anchor="middle" font-weight="normal" fill="#111" stroke="#111" stroke-width="0.3">30</text>
<line x1="240.65999999999997" y1="839.9" x2="240.65999999999997" y2="846.6999999999999" stroke="#000" stroke-width="1.4"/>
<text x="240.65999999999997" y="858.9" font-size="12.7" text-anchor="middle" font-weight="normal" fill="#111" stroke="#111" stroke-width="0.3">35</text>
<line x1="266.64" y1="839.9" x2="266.64" y2="846.6999999999999" stroke="#000" stroke-width="1.4"/>
<text x="266.64" y="858.9" font-size="12.7" text-anchor="middle" font-weight="normal" fill="#111" stroke="#111" stroke-width="0.3">40</text>
<line x1="292.62" y1="839.9" x2="292.62" y2="846.6999999999999" stroke="#000" stroke-width="1.4"/>
<text x="292.62" y="858.9" font-size="12.7" text-anchor="middle" font-weight="normal" fill="#111" stroke="#111" stroke-width="0.3">45</text>
<text x="177" y="874.2" font-size="12.7" text-anchor="middle" font-weight="normal" fill="#111" stroke="#111" stroke-width="0.3">Time (min)</text>
<text x="14.3" y="758" font-size="13.1" text-anchor="middle" font-weight="normal" fill="#111" stroke="#111" stroke-width="0.12" transform="rotate(-90 14.3 758)">Turbidity (OD600)</text>
<text x="159.3" y="676" font-size="13.3" text-anchor="middle" font-weight="normal" fill="#111" stroke="#111" stroke-width="0.3">GFP-FL</text>
<line x1="72" y1="677.3" x2="85" y2="677.3" stroke="#ff8210" stroke-width="1.7"/>
<circle cx="78.5" cy="677.3" r="2.3" fill="#ff8210"/>
<text x="88" y="681.9" font-size="13" text-anchor="start" font-weight="normal" fill="#111" stroke="#111" stroke-width="0.3">37°C</text>
<line x1="72" y1="696.5" x2="85" y2="696.5" stroke="#f5101a" stroke-width="1.7"/>
<circle cx="78.5" cy="696.5" r="2.3" fill="#f5101a"/>
<text x="88" y="701.1" font-size="13" text-anchor="start" font-weight="normal" fill="#111" stroke="#111" stroke-width="0.3">42°C</text>
</g>
<g id="panel-i">
<text x="312.8" y="661.8" font-size="22" text-anchor="start" font-weight="bold" fill="#000">i</text>
<path d="M369.4 805.8 L371.3 805.7 L373.1 805.0 L375.0 805.5 L376.9 804.2 L378.7 805.2 L380.6 805.1 L382.4 804.4 L384.3 804.7 L386.2 805.2 L388.0 804.5 L389.9 804.1 L391.8 805.6 L393.6 805.3 L395.5 805.8 L397.4 806.3 L399.2 805.3 L401.1 805.4 L402.9 805.4 L404.8 805.8 L406.7 807.1 L408.5 806.4 L410.4 806.8 L412.3 807.2 L414.1 807.2 L416.0 806.5 L417.9 807.0 L419.7 806.0 L421.6 806.7 L423.4 807.8 L425.3 806.5 L427.2 806.3 L429.0 806.8 L430.9 807.3 L432.8 805.8 L434.6 807.1 L436.5 806.5 L438.3 807.2 L440.2 806.8 L442.1 806.9 L443.9 805.6 L445.8 805.4 L447.7 806.0 L449.5 806.4 L451.4 805.7 L453.3 805.5 L455.1 806.4 L457.0 806.2 L458.8 805.8 L460.7 805.4 L462.6 805.8 L464.4 805.7 L466.3 806.6 L468.2 807.3 L470.0 806.1 L471.9 806.8 L473.8 806.5 L475.6 806.7 L477.5 806.4 L479.3 807.0 L481.2 806.1 L483.1 806.7 L484.9 806.5 L486.8 806.4 L488.7 806.2 L490.5 806.4 L492.4 807.4 L494.3 806.7 L496.1 805.5 L498.0 806.0 L499.8 805.8 L501.7 805.7 L503.6 806.0 L505.4 805.9 L507.3 805.7 L509.2 804.7 L511.0 805.0 L512.9 804.2 L514.8 804.7 L516.6 804.0 L518.5 804.6 L520.3 805.3 L522.2 804.0 L524.1 804.6 L525.9 804.3 L527.8 804.8 L529.7 805.1 L531.5 805.0 L533.4 805.6 L535.3 805.8 L537.1 805.7 L537.1 814.1 L535.3 814.1 L533.4 814.0 L531.5 813.3 L529.7 813.4 L527.8 813.1 L525.9 812.6 L524.1 812.9 L522.2 812.3 L520.3 813.6 L518.5 812.9 L516.6 812.3 L514.8 813.0 L512.9 812.5 L511.0 813.3 L509.2 813.1 L507.3 814.0 L505.4 814.2 L503.6 814.3 L501.7 814.0 L499.8 814.1 L498.0 814.3 L496.1 813.8 L494.3 815.1 L492.4 815.7 L490.5 814.8 L488.7 814.5 L486.8 814.8 L484.9 814.8 L483.1 815.1 L481.2 814.4 L479.3 815.3 L477.5 814.7 L475.6 815.0 L473.8 814.8 L471.9 815.1 L470.0 814.4 L468.2 815.6 L466.3 814.9 L464.4 814.0 L462.6 814.1 L460.7 813.8 L458.8 814.1 L457.0 814.5 L455.1 814.7 L453.3 813.8 L451.4 814.1 L449.5 814.7 L447.7 814.4 L445.8 813.7 L443.9 813.9 L442.1 815.4 L440.2 815.3 L438.3 815.9 L436.5 815.2 L434.6 816.0 L432.8 814.8 L430.9 816.4 L429.0 816.0 L427.2 815.6 L425.3 815.9 L423.4 817.4 L421.6 816.4 L419.7 815.8 L417.9 816.9 L416.0 816.5 L414.1 817.4 L412.3 817.4 L410.4 817.2 L408.5 816.8 L406.7 817.7 L404.8 816.5 L402.9 816.2 L401.1 816.3 L399.2 816.3 L397.4 817.4 L395.5 817.0 L393.6 816.6 L391.8 817.1 L389.9 815.7 L388.0 816.2 L386.2 817.1 L384.3 816.6 L382.4 816.5 L380.6 817.3 L378.7 817.5 L376.9 816.6 L375.0 818.0 L373.1 817.7 L371.3 818.5 L369.4 818.6 Z" fill="#b9a3dc" opacity="0.8"/><path d="M369.4 805.8 V818.6 M368.2 805.8 h2.4 M368.2 818.6 h2.4" stroke="#b9a3dc" stroke-width="1.0" fill="none"/><path d="M371.3 805.7 V818.5 M370.1 805.7 h2.4 M370.1 818.5 h2.4" stroke="#b9a3dc" stroke-width="1.0" fill="none"/><path d="M373.1 805.0 V817.7 M371.9 805.0 h2.4 M371.9 817.7 h2.4" stroke="#b9a3dc" stroke-width="1.0" fill="none"/><path d="M375.0 805.5 V818.0 M373.8 805.5 h2.4 M373.8 818.0 h2.4" stroke="#b9a3dc" stroke-width="1.0" fill="none"/><path d="M376.9 804.2 V816.6 M375.7 804.2 h2.4 M375.7 816.6 h2.4" stroke="#b9a3dc" stroke-width="1.0" fill="none"/><path d="M378.7 805.2 V817.5 M377.5 805.2 h2.4 M377.5 817.5 h2.4" stroke="#b9a3dc" stroke-width="1.0" fill="none"/><path d="M380.6 805.1 V817.3 M379.4 805.1 h2.4 M379.4 817.3 h2.4" stroke="#b9a3dc" stroke-width="1.0" fill="none"/><path d="M382.4 804.4 V816.5 M381.2 804.4 h2.4 M381.2 816.5 h2.4" stroke="#b9a3dc" stroke-width="1.0" fill="none"/><path d="M384.3 804.7 V816.6 M383.1 804.7 h2.4 M383.1 816.6 h2.4" stroke="#b9a3dc" stroke-width="1.0" fill="none"/><path d="M386.2 805.2 V817.1 M385.0 805.2 h2.4 M385.0 817.1 h2.4" stroke="#b9a3dc" stroke-width="1.0" fill="none"/><path d="M388.0 804.5 V816.2 M386.8 804.5 h2.4 M386.8 816.2 h2.4" stroke="#b9a3dc" stroke-width="1.0" fill="none"/><path d="M389.9 804.1 V815.7 M388.7 804.1 h2.4 M388.7 815.7 h2.4" stroke="#b9a3dc" stroke-width="1.0" fill="none"/><path d="M391.8 805.6 V817.1 M390.6 805.6 h2.4 M390.6 817.1 h2.4" stroke="#b9a3dc" stroke-width="1.0" fill="none"/><path d="M393.6 805.3 V816.6 M392.4 805.3 h2.4 M392.4 816.6 h2.4" stroke="#b9a3dc" stroke-width="1.0" fill="none"/><path d="M395.5 805.8 V817.0 M394.3 805.8 h2.4 M394.3 817.0 h2.4" stroke="#b9a3dc" stroke-width="1.0" fill="none"/><path d="M397.4 806.3 V817.4 M396.2 806.3 h2.4 M396.2 817.4 h2.4" stroke="#b9a3dc" stroke-width="1.0" fill="none"/><path d="M399.2 805.3 V816.3 M398.0 805.3 h2.4 M398.0 816.3 h2.4" stroke="#b9a3dc" stroke-width="1.0" fill="none"/><path d="M401.1 805.4 V816.3 M399.9 805.4 h2.4 M399.9 816.3 h2.4" stroke="#b9a3dc" stroke-width="1.0" fill="none"/><path d="M402.9 805.4 V816.2 M401.7 805.4 h2.4 M401.7 816.2 h2.4" stroke="#b9a3dc" stroke-width="1.0" fill="none"/><path d="M404.8 805.8 V816.5 M403.6 805.8 h2.4 M403.6 816.5 h2.4" stroke="#b9a3dc" stroke-width="1.0" fill="none"/><path d="M406.7 807.1 V817.7 M405.5 807.1 h2.4 M405.5 817.7 h2.4" stroke="#b9a3dc" stroke-width="1.0" fill="none"/><path d="M408.5 806.4 V816.8 M407.3 806.4 h2.4 M407.3 816.8 h2.4" stroke="#b9a3dc" stroke-width="1.0" fill="none"/><path d="M410.4 806.8 V817.2 M409.2 806.8 h2.4 M409.2 817.2 h2.4" stroke="#b9a3dc" stroke-width="1.0" fill="none"/><path d="M412.3 807.2 V817.4 M411.1 807.2 h2.4 M411.1 817.4 h2.4" stroke="#b9a3dc" stroke-width="1.0" fill="none"/><path d="M414.1 807.2 V817.4 M412.9 807.2 h2.4 M412.9 817.4 h2.4" stroke="#b9a3dc" stroke-width="1.0" fill="none"/><path d="M416.0 806.5 V816.5 M414.8 806.5 h2.4 M414.8 816.5 h2.4" stroke="#b9a3dc" stroke-width="1.0" fill="none"/><path d="M417.9 807.0 V816.9 M416.7 807.0 h2.4 M416.7 816.9 h2.4" stroke="#b9a3dc" stroke-width="1.0" fill="none"/><path d="M419.7 806.0 V815.8 M418.5 806.0 h2.4 M418.5 815.8 h2.4" stroke="#b9a3dc" stroke-width="1.0" fill="none"/><path d="M421.6 806.7 V816.4 M420.4 806.7 h2.4 M420.4 816.4 h2.4" stroke="#b9a3dc" stroke-width="1.0" fill="none"/><path d="M423.4 807.8 V817.4 M422.2 807.8 h2.4 M422.2 817.4 h2.4" stroke="#b9a3dc" stroke-width="1.0" fill="none"/><path d="M425.3 806.5 V815.9 M424.1 806.5 h2.4 M424.1 815.9 h2.4" stroke="#b9a3dc" stroke-width="1.0" fill="none"/><path d="M427.2 806.3 V815.6 M426.0 806.3 h2.4 M426.0 815.6 h2.4" stroke="#b9a3dc" stroke-width="1.0" fill="none"/><path d="M429.0 806.8 V816.0 M427.8 806.8 h2.4 M427.8 816.0 h2.4" stroke="#b9a3dc" stroke-width="1.0" fill="none"/><path d="M430.9 807.3 V816.4 M429.7 807.3 h2.4 M429.7 816.4 h2.4" stroke="#b9a3dc" stroke-width="1.0" fill="none"/><path d="M432.8 805.8 V814.8 M431.6 805.8 h2.4 M431.6 814.8 h2.4" stroke="#b9a3dc" stroke-width="1.0" fill="none"/><path d="M434.6 807.1 V816.0 M433.4 807.1 h2.4 M433.4 816.0 h2.4" stroke="#b9a3dc" stroke-width="1.0" fill="none"/><path d="M436.5 806.5 V815.2 M435.3 806.5 h2.4 M435.3 815.2 h2.4" stroke="#b9a3dc" stroke-width="1.0" fill="none"/><path d="M438.3 807.2 V815.9 M437.1 807.2 h2.4 M437.1 815.9 h2.4" stroke="#b9a3dc" stroke-width="1.0" fill="none"/><path d="M440.2 806.8 V815.3 M439.0 806.8 h2.4 M439.0 815.3 h2.4" stroke="#b9a3dc" stroke-width="1.0" fill="none"/><path d="M442.1 806.9 V815.4 M440.9 806.9 h2.4 M440.9 815.4 h2.4" stroke="#b9a3dc" stroke-width="1.0" fill="none"/><path d="M443.9 805.6 V813.9 M442.7 805.6 h2.4 M442.7 813.9 h2.4" stroke="#b9a3dc" stroke-width="1.0" fill="none"/><path d="M445.8 805.4 V813.7 M444.6 805.4 h2.4 M444.6 813.7 h2.4" stroke="#b9a3dc" stroke-width="1.0" fill="none"/><path d="M447.7 806.0 V814.4 M446.5 806.0 h2.4 M446.5 814.4 h2.4" stroke="#b9a3dc" stroke-width="1.0" fill="none"/><path d="M449.5 806.4 V814.7 M448.3 806.4 h2.4 M448.3 814.7 h2.4" stroke="#b9a3dc" stroke-width="1.0" fill="none"/><path d="M451.4 805.7 V814.1 M450.2 805.7 h2.4 M450.2 814.1 h2.4" stroke="#b9a3dc" stroke-width="1.0" fill="none"/><path d="M453.3 805.5 V813.8 M452.1 805.5 h2.4 M452.1 813.8 h2.4" stroke="#b9a3dc" stroke-width="1.0" fill="none"/><path d="M455.1 806.4 V814.7 M453.9 806.4 h2.4 M453.9 814.7 h2.4" stroke="#b9a3dc" stroke-width="1.0" fill="none"/><path d="M457.0 806.2 V814.5 M455.8 806.2 h2.4 M455.8 814.5 h2.4" stroke="#b9a3dc" stroke-width="1.0" fill="none"/><path d="M458.8 805.8 V814.1 M457.6 805.8 h2.4 M457.6 814.1 h2.4" stroke="#b9a3dc" stroke-width="1.0" fill="none"/><path d="M460.7 805.4 V813.8 M459.5 805.4 h2.4 M459.5 813.8 h2.4" stroke="#b9a3dc" stroke-width="1.0" fill="none"/><path d="M462.6 805.8 V814.1 M461.4 805.8 h2.4 M461.4 814.1 h2.4" stroke="#b9a3dc" stroke-width="1.0" fill="none"/><path d="M464.4 805.7 V814.0 M463.2 805.7 h2.4 M463.2 814.0 h2.4" stroke="#b9a3dc" stroke-width="1.0" fill="none"/><path d="M466.3 806.6 V814.9 M465.1 806.6 h2.4 M465.1 814.9 h2.4" stroke="#b9a3dc" stroke-width="1.0" fill="none"/><path d="M468.2 807.3 V815.6 M467.0 807.3 h2.4 M467.0 815.6 h2.4" stroke="#b9a3dc" stroke-width="1.0" fill="none"/><path d="M470.0 806.1 V814.4 M468.8 806.1 h2.4 M468.8 814.4 h2.4" stroke="#b9a3dc" stroke-width="1.0" fill="none"/><path d="M471.9 806.8 V815.1 M470.7 806.8 h2.4 M470.7 815.1 h2.4" stroke="#b9a3dc" stroke-width="1.0" fill="none"/><path d="M473.8 806.5 V814.8 M472.6 806.5 h2.4 M472.6 814.8 h2.4" stroke="#b9a3dc" stroke-width="1.0" fill="none"/><path d="M475.6 806.7 V815.0 M474.4 806.7 h2.4 M474.4 815.0 h2.4" stroke="#b9a3dc" stroke-width="1.0" fill="none"/><path d="M477.5 806.4 V814.7 M476.3 806.4 h2.4 M476.3 814.7 h2.4" stroke="#b9a3dc" stroke-width="1.0" fill="none"/><path d="M479.3 807.0 V815.3 M478.1 807.0 h2.4 M478.1 815.3 h2.4" stroke="#b9a3dc" stroke-width="1.0" fill="none"/><path d="M481.2 806.1 V814.4 M480.0 806.1 h2.4 M480.0 814.4 h2.4" stroke="#b9a3dc" stroke-width="1.0" fill="none"/><path d="M483.1 806.7 V815.1 M481.9 806.7 h2.4 M481.9 815.1 h2.4" stroke="#b9a3dc" stroke-width="1.0" fill="none"/><path d="M484.9 806.5 V814.8 M483.7 806.5 h2.4 M483.7 814.8 h2.4" stroke="#b9a3dc" stroke-width="1.0" fill="none"/><path d="M486.8 806.4 V814.8 M485.6 806.4 h2.4 M485.6 814.8 h2.4" stroke="#b9a3dc" stroke-width="1.0" fill="none"/><path d="M488.7 806.2 V814.5 M487.5 806.2 h2.4 M487.5 814.5 h2.4" stroke="#b9a3dc" stroke-width="1.0" fill="none"/><path d="M490.5 806.4 V814.8 M489.3 806.4 h2.4 M489.3 814.8 h2.4" stroke="#b9a3dc" stroke-width="1.0" fill="none"/><path d="M492.4 807.4 V815.7 M491.2 807.4 h2.4 M491.2 815.7 h2.4" stroke="#b9a3dc" stroke-width="1.0" fill="none"/><path d="M494.3 806.7 V815.1 M493.1 806.7 h2.4 M493.1 815.1 h2.4" stroke="#b9a3dc" stroke-width="1.0" fill="none"/><path d="M496.1 805.5 V813.8 M494.9 805.5 h2.4 M494.9 813.8 h2.4" stroke="#b9a3dc" stroke-width="1.0" fill="none"/><path d="M498.0 806.0 V814.3 M496.8 806.0 h2.4 M496.8 814.3 h2.4" stroke="#b9a3dc" stroke-width="1.0" fill="none"/><path d="M499.8 805.8 V814.1 M498.6 805.8 h2.4 M498.6 814.1 h2.4" stroke="#b9a3dc" stroke-width="1.0" fill="none"/><path d="M501.7 805.7 V814.0 M500.5 805.7 h2.4 M500.5 814.0 h2.4" stroke="#b9a3dc" stroke-width="1.0" fill="none"/><path d="M503.6 806.0 V814.3 M502.4 806.0 h2.4 M502.4 814.3 h2.4" stroke="#b9a3dc" stroke-width="1.0" fill="none"/><path d="M505.4 805.9 V814.2 M504.2 805.9 h2.4 M504.2 814.2 h2.4" stroke="#b9a3dc" stroke-width="1.0" fill="none"/><path d="M507.3 805.7 V814.0 M506.1 805.7 h2.4 M506.1 814.0 h2.4" stroke="#b9a3dc" stroke-width="1.0" fill="none"/><path d="M509.2 804.7 V813.1 M508.0 804.7 h2.4 M508.0 813.1 h2.4" stroke="#b9a3dc" stroke-width="1.0" fill="none"/><path d="M511.0 805.0 V813.3 M509.8 805.0 h2.4 M509.8 813.3 h2.4" stroke="#b9a3dc" stroke-width="1.0" fill="none"/><path d="M512.9 804.2 V812.5 M511.7 804.2 h2.4 M511.7 812.5 h2.4" stroke="#b9a3dc" stroke-width="1.0" fill="none"/><path d="M514.8 804.7 V813.0 M513.6 804.7 h2.4 M513.6 813.0 h2.4" stroke="#b9a3dc" stroke-width="1.0" fill="none"/><path d="M516.6 804.0 V812.3 M515.4 804.0 h2.4 M515.4 812.3 h2.4" stroke="#b9a3dc" stroke-width="1.0" fill="none"/><path d="M518.5 804.6 V812.9 M517.3 804.6 h2.4 M517.3 812.9 h2.4" stroke="#b9a3dc" stroke-width="1.0" fill="none"/><path d="M520.3 805.3 V813.6 M519.1 805.3 h2.4 M519.1 813.6 h2.4" stroke="#b9a3dc" stroke-width="1.0" fill="none"/><path d="M522.2 804.0 V812.3 M521.0 804.0 h2.4 M521.0 812.3 h2.4" stroke="#b9a3dc" stroke-width="1.0" fill="none"/><path d="M524.1 804.6 V812.9 M522.9 804.6 h2.4 M522.9 812.9 h2.4" stroke="#b9a3dc" stroke-width="1.0" fill="none"/><path d="M525.9 804.3 V812.6 M524.7 804.3 h2.4 M524.7 812.6 h2.4" stroke="#b9a3dc" stroke-width="1.0" fill="none"/><path d="M527.8 804.8 V813.1 M526.6 804.8 h2.4 M526.6 813.1 h2.4" stroke="#b9a3dc" stroke-width="1.0" fill="none"/><path d="M529.7 805.1 V813.4 M528.5 805.1 h2.4 M528.5 813.4 h2.4" stroke="#b9a3dc" stroke-width="1.0" fill="none"/><path d="M531.5 805.0 V813.3 M530.3 805.0 h2.4 M530.3 813.3 h2.4" stroke="#b9a3dc" stroke-width="1.0" fill="none"/><path d="M533.4 805.6 V814.0 M532.2 805.6 h2.4 M532.2 814.0 h2.4" stroke="#b9a3dc" stroke-width="1.0" fill="none"/><path d="M535.3 805.8 V814.1 M534.1 805.8 h2.4 M534.1 814.1 h2.4" stroke="#b9a3dc" stroke-width="1.0" fill="none"/><path d="M537.1 805.7 V814.1 M535.9 805.7 h2.4 M535.9 814.1 h2.4" stroke="#b9a3dc" stroke-width="1.0" fill="none"/><path d="M369.4 812.2 L371.3 812.1 L373.1 811.3 L375.0 811.7 L376.9 810.4 L378.7 811.3 L380.6 811.2 L382.4 810.4 L384.3 810.6 L386.2 811.2 L388.0 810.4 L389.9 809.9 L391.8 811.3 L393.6 810.9 L395.5 811.4 L397.4 811.9 L399.2 810.8 L401.1 810.9 L402.9 810.8 L404.8 811.2 L406.7 812.4 L408.5 811.6 L410.4 812.0 L412.3 812.3 L414.1 812.3 L416.0 811.5 L417.9 812.0 L419.7 810.9 L421.6 811.6 L423.4 812.6 L425.3 811.2 L427.2 810.9 L429.0 811.4 L430.9 811.8 L432.8 810.3 L434.6 811.6 L436.5 810.8 L438.3 811.5 L440.2 811.1 L442.1 811.1 L443.9 809.7 L445.8 809.6 L447.7 810.2 L449.5 810.6 L451.4 809.9 L453.3 809.7 L455.1 810.5 L457.0 810.4 L458.8 809.9 L460.7 809.6 L462.6 810.0 L464.4 809.9 L466.3 810.8 L468.2 811.4 L470.0 810.2 L471.9 810.9 L473.8 810.7 L475.6 810.9 L477.5 810.5 L479.3 811.2 L481.2 810.2 L483.1 810.9 L484.9 810.7 L486.8 810.6 L488.7 810.4 L490.5 810.6 L492.4 811.5 L494.3 810.9 L496.1 809.6 L498.0 810.1 L499.8 809.9 L501.7 809.8 L503.6 810.2 L505.4 810.0 L507.3 809.9 L509.2 808.9 L511.0 809.1 L512.9 808.4 L514.8 808.9 L516.6 808.1 L518.5 808.8 L520.3 809.5 L522.2 808.1 L524.1 808.8 L525.9 808.4 L527.8 808.9 L529.7 809.3 L531.5 809.1 L533.4 809.8 L535.3 809.9 L537.1 809.9" fill="none" stroke="#b9a3dc" stroke-width="1.2" stroke-linejoin="round"/><circle cx="369.4" cy="812.2" r="1.6" fill="#b9a3dc"/><circle cx="371.3" cy="812.1" r="1.6" fill="#b9a3dc"/><circle cx="373.1" cy="811.3" r="1.6" fill="#b9a3dc"/><circle cx="375.0" cy="811.7" r="1.6" fill="#b9a3dc"/><circle cx="376.9" cy="810.4" r="1.6" fill="#b9a3dc"/><circle cx="378.7" cy="811.3" r="1.6" fill="#b9a3dc"/><circle cx="380.6" cy="811.2" r="1.6" fill="#b9a3dc"/><circle cx="382.4" cy="810.4" r="1.6" fill="#b9a3dc"/><circle cx="384.3" cy="810.6" r="1.6" fill="#b9a3dc"/><circle cx="386.2" cy="811.2" r="1.6" fill="#b9a3dc"/><circle cx="388.0" cy="810.4" r="1.6" fill="#b9a3dc"/><circle cx="389.9" cy="809.9" r="1.6" fill="#b9a3dc"/><circle cx="391.8" cy="811.3" r="1.6" fill="#b9a3dc"/><circle cx="393.6" cy="810.9" r="1.6" fill="#b9a3dc"/><circle cx="395.5" cy="811.4" r="1.6" fill="#b9a3dc"/><circle cx="397.4" cy="811.9" r="1.6" fill="#b9a3dc"/><circle cx="399.2" cy="810.8" r="1.6" fill="#b9a3dc"/><circle cx="401.1" cy="810.9" r="1.6" fill="#b9a3dc"/><circle cx="402.9" cy="810.8" r="1.6" fill="#b9a3dc"/><circle cx="404.8" cy="811.2" r="1.6" fill="#b9a3dc"/><circle cx="406.7" cy="812.4" r="1.6" fill="#b9a3dc"/><circle cx="408.5" cy="811.6" r="1.6" fill="#b9a3dc"/><circle cx="410.4" cy="812.0" r="1.6" fill="#b9a3dc"/><circle cx="412.3" cy="812.3" r="1.6" fill="#b9a3dc"/><circle cx="414.1" cy="812.3" r="1.6" fill="#b9a3dc"/><circle cx="416.0" cy="811.5" r="1.6" fill="#b9a3dc"/><circle cx="417.9" cy="812.0" r="1.6" fill="#b9a3dc"/><circle cx="419.7" cy="810.9" r="1.6" fill="#b9a3dc"/><circle cx="421.6" cy="811.6" r="1.6" fill="#b9a3dc"/><circle cx="423.4" cy="812.6" r="1.6" fill="#b9a3dc"/><circle cx="425.3" cy="811.2" r="1.6" fill="#b9a3dc"/><circle cx="427.2" cy="810.9" r="1.6" fill="#b9a3dc"/><circle cx="429.0" cy="811.4" r="1.6" fill="#b9a3dc"/><circle cx="430.9" cy="811.8" r="1.6" fill="#b9a3dc"/><circle cx="432.8" cy="810.3" r="1.6" fill="#b9a3dc"/><circle cx="434.6" cy="811.6" r="1.6" fill="#b9a3dc"/><circle cx="436.5" cy="810.8" r="1.6" fill="#b9a3dc"/><circle cx="438.3" cy="811.5" r="1.6" fill="#b9a3dc"/><circle cx="440.2" cy="811.1" r="1.6" fill="#b9a3dc"/><circle cx="442.1" cy="811.1" r="1.6" fill="#b9a3dc"/><circle cx="443.9" cy="809.7" r="1.6" fill="#b9a3dc"/><circle cx="445.8" cy="809.6" r="1.6" fill="#b9a3dc"/><circle cx="447.7" cy="810.2" r="1.6" fill="#b9a3dc"/><circle cx="449.5" cy="810.6" r="1.6" fill="#b9a3dc"/><circle cx="451.4" cy="809.9" r="1.6" fill="#b9a3dc"/><circle cx="453.3" cy="809.7" r="1.6" fill="#b9a3dc"/><circle cx="455.1" cy="810.5" r="1.6" fill="#b9a3dc"/><circle cx="457.0" cy="810.4" r="1.6" fill="#b9a3dc"/><circle cx="458.8" cy="809.9" r="1.6" fill="#b9a3dc"/><circle cx="460.7" cy="809.6" r="1.6" fill="#b9a3dc"/><circle cx="462.6" cy="810.0" r="1.6" fill="#b9a3dc"/><circle cx="464.4" cy="809.9" r="1.6" fill="#b9a3dc"/><circle cx="466.3" cy="810.8" r="1.6" fill="#b9a3dc"/><circle cx="468.2" cy="811.4" r="1.6" fill="#b9a3dc"/><circle cx="470.0" cy="810.2" r="1.6" fill="#b9a3dc"/><circle cx="471.9" cy="810.9" r="1.6" fill="#b9a3dc"/><circle cx="473.8" cy="810.7" r="1.6" fill="#b9a3dc"/><circle cx="475.6" cy="810.9" r="1.6" fill="#b9a3dc"/><circle cx="477.5" cy="810.5" r="1.6" fill="#b9a3dc"/><circle cx="479.3" cy="811.2" r="1.6" fill="#b9a3dc"/><circle cx="481.2" cy="810.2" r="1.6" fill="#b9a3dc"/><circle cx="483.1" cy="810.9" r="1.6" fill="#b9a3dc"/><circle cx="484.9" cy="810.7" r="1.6" fill="#b9a3dc"/><circle cx="486.8" cy="810.6" r="1.6" fill="#b9a3dc"/><circle cx="488.7" cy="810.4" r="1.6" fill="#b9a3dc"/><circle cx="490.5" cy="810.6" r="1.6" fill="#b9a3dc"/><circle cx="492.4" cy="811.5" r="1.6" fill="#b9a3dc"/><circle cx="494.3" cy="810.9" r="1.6" fill="#b9a3dc"/><circle cx="496.1" cy="809.6" r="1.6" fill="#b9a3dc"/><circle cx="498.0" cy="810.1" r="1.6" fill="#b9a3dc"/><circle cx="499.8" cy="809.9" r="1.6" fill="#b9a3dc"/><circle cx="501.7" cy="809.8" r="1.6" fill="#b9a3dc"/><circle cx="503.6" cy="810.2" r="1.6" fill="#b9a3dc"/><circle cx="505.4" cy="810.0" r="1.6" fill="#b9a3dc"/><circle cx="507.3" cy="809.9" r="1.6" fill="#b9a3dc"/><circle cx="509.2" cy="808.9" r="1.6" fill="#b9a3dc"/><circle cx="511.0" cy="809.1" r="1.6" fill="#b9a3dc"/><circle cx="512.9" cy="808.4" r="1.6" fill="#b9a3dc"/><circle cx="514.8" cy="808.9" r="1.6" fill="#b9a3dc"/><circle cx="516.6" cy="808.1" r="1.6" fill="#b9a3dc"/><circle cx="518.5" cy="808.8" r="1.6" fill="#b9a3dc"/><circle cx="520.3" cy="809.5" r="1.6" fill="#b9a3dc"/><circle cx="522.2" cy="808.1" r="1.6" fill="#b9a3dc"/><circle cx="524.1" cy="808.8" r="1.6" fill="#b9a3dc"/><circle cx="525.9" cy="808.4" r="1.6" fill="#b9a3dc"/><circle cx="527.8" cy="808.9" r="1.6" fill="#b9a3dc"/><circle cx="529.7" cy="809.3" r="1.6" fill="#b9a3dc"/><circle cx="531.5" cy="809.1" r="1.6" fill="#b9a3dc"/><circle cx="533.4" cy="809.8" r="1.6" fill="#b9a3dc"/><circle cx="535.3" cy="809.9" r="1.6" fill="#b9a3dc"/><circle cx="537.1" cy="809.9" r="1.6" fill="#b9a3dc"/>
<path d="M369.4 791.3 L371.3 790.8 L373.1 790.2 L375.0 789.6 L376.9 789.0 L378.7 787.9 L380.6 786.8 L382.4 785.6 L384.3 784.5 L386.2 783.4 L388.0 782.2 L389.9 780.7 L391.8 779.2 L393.6 777.6 L395.5 776.1 L397.4 774.5 L399.2 774.9 L401.1 773.1 L402.9 771.3 L404.8 769.5 L406.7 767.7 L408.5 766.5 L410.4 765.3 L412.3 764.1 L414.1 762.9 L416.0 761.7 L417.9 760.5 L419.7 759.4 L421.6 758.2 L423.4 757.0 L425.3 755.8 L427.2 754.7 L429.0 753.7 L430.9 752.6 L432.8 751.6 L434.6 750.5 L436.5 749.4 L438.3 748.4 L440.2 747.3 L442.1 746.3 L443.9 745.2 L445.8 744.3 L447.7 743.4 L449.5 742.5 L451.4 741.6 L453.3 740.7 L455.1 739.8 L457.0 738.9 L458.8 737.9 L460.7 737.0 L462.6 736.1 L464.4 735.6 L466.3 735.1 L468.2 734.6 L470.0 734.1 L471.9 733.6 L473.8 733.1 L475.6 732.6 L477.5 732.0 L479.3 731.5 L481.2 731.0 L483.1 730.6 L484.9 730.3 L486.8 729.9 L488.7 729.5 L490.5 729.1 L492.4 728.8 L494.3 728.4 L496.1 728.0 L498.0 727.6 L499.8 727.2 L501.7 726.9 L503.6 726.6 L505.4 726.3 L507.3 726.0 L509.2 725.7 L511.0 725.4 L512.9 725.1 L514.8 724.8 L516.6 724.5 L518.5 724.2 L520.3 724.0 L522.2 723.7 L524.1 723.5 L525.9 723.2 L527.8 723.0 L529.7 722.7 L531.5 722.5 L533.4 722.3 L535.3 722.0 L537.1 721.8 L537.1 729.3 L535.3 729.6 L533.4 729.8 L531.5 730.1 L529.7 730.3 L527.8 730.6 L525.9 730.8 L524.1 731.0 L522.2 731.3 L520.3 731.5 L518.5 731.8 L516.6 732.1 L514.8 732.4 L512.9 732.7 L511.0 733.0 L509.2 733.3 L507.3 733.6 L505.4 733.9 L503.6 734.2 L501.7 734.5 L499.8 734.8 L498.0 735.2 L496.1 735.6 L494.3 735.9 L492.4 736.3 L490.5 736.7 L488.7 737.1 L486.8 737.5 L484.9 737.8 L483.1 738.2 L481.2 738.6 L479.3 739.1 L477.5 739.6 L475.6 740.1 L473.8 740.6 L471.9 741.1 L470.0 741.6 L468.2 742.2 L466.3 742.7 L464.4 743.2 L462.6 743.7 L460.7 744.6 L458.8 745.5 L457.0 746.4 L455.1 747.3 L453.3 748.2 L451.4 749.1 L449.5 750.0 L447.7 750.9 L445.8 751.9 L443.9 752.8 L442.1 753.8 L440.2 754.9 L438.3 755.9 L436.5 757.0 L434.6 758.1 L432.8 759.1 L430.9 760.2 L429.0 761.2 L427.2 762.3 L425.3 763.3 L423.4 764.5 L421.6 765.7 L419.7 766.9 L417.9 768.1 L416.0 769.3 L414.1 770.5 L412.3 771.7 L410.4 772.9 L408.5 774.1 L406.7 775.3 L404.8 777.0 L402.9 778.8 L401.1 780.6 L399.2 782.4 L397.4 785.9 L395.5 787.4 L393.6 789.0 L391.8 790.5 L389.9 792.0 L388.0 793.6 L386.2 794.7 L384.3 795.9 L382.4 797.0 L380.6 798.1 L378.7 799.3 L376.9 800.4 L375.0 801.0 L373.1 801.5 L371.3 802.1 L369.4 802.7 Z" fill="#f79a96" opacity="0.8"/><path d="M369.4 791.3 V802.7 M368.2 791.3 h2.4 M368.2 802.7 h2.4" stroke="#f79a96" stroke-width="1.0" fill="none"/><path d="M371.3 790.8 V802.1 M370.1 790.8 h2.4 M370.1 802.1 h2.4" stroke="#f79a96" stroke-width="1.0" fill="none"/><path d="M373.1 790.2 V801.5 M371.9 790.2 h2.4 M371.9 801.5 h2.4" stroke="#f79a96" stroke-width="1.0" fill="none"/><path d="M375.0 789.6 V801.0 M373.8 789.6 h2.4 M373.8 801.0 h2.4" stroke="#f79a96" stroke-width="1.0" fill="none"/><path d="M376.9 789.0 V800.4 M375.7 789.0 h2.4 M375.7 800.4 h2.4" stroke="#f79a96" stroke-width="1.0" fill="none"/><path d="M378.7 787.9 V799.3 M377.5 787.9 h2.4 M377.5 799.3 h2.4" stroke="#f79a96" stroke-width="1.0" fill="none"/><path d="M380.6 786.8 V798.1 M379.4 786.8 h2.4 M379.4 798.1 h2.4" stroke="#f79a96" stroke-width="1.0" fill="none"/><path d="M382.4 785.6 V797.0 M381.2 785.6 h2.4 M381.2 797.0 h2.4" stroke="#f79a96" stroke-width="1.0" fill="none"/><path d="M384.3 784.5 V795.9 M383.1 784.5 h2.4 M383.1 795.9 h2.4" stroke="#f79a96" stroke-width="1.0" fill="none"/><path d="M386.2 783.4 V794.7 M385.0 783.4 h2.4 M385.0 794.7 h2.4" stroke="#f79a96" stroke-width="1.0" fill="none"/><path d="M388.0 782.2 V793.6 M386.8 782.2 h2.4 M386.8 793.6 h2.4" stroke="#f79a96" stroke-width="1.0" fill="none"/><path d="M389.9 780.7 V792.0 M388.7 780.7 h2.4 M388.7 792.0 h2.4" stroke="#f79a96" stroke-width="1.0" fill="none"/><path d="M391.8 779.2 V790.5 M390.6 779.2 h2.4 M390.6 790.5 h2.4" stroke="#f79a96" stroke-width="1.0" fill="none"/><path d="M393.6 777.6 V789.0 M392.4 777.6 h2.4 M392.4 789.0 h2.4" stroke="#f79a96" stroke-width="1.0" fill="none"/><path d="M395.5 776.1 V787.4 M394.3 776.1 h2.4 M394.3 787.4 h2.4" stroke="#f79a96" stroke-width="1.0" fill="none"/><path d="M397.4 774.5 V785.9 M396.2 774.5 h2.4 M396.2 785.9 h2.4" stroke="#f79a96" stroke-width="1.0" fill="none"/><path d="M399.2 774.9 V782.4 M398.0 774.9 h2.4 M398.0 782.4 h2.4" stroke="#f79a96" stroke-width="1.0" fill="none"/><path d="M401.1 773.1 V780.6 M399.9 773.1 h2.4 M399.9 780.6 h2.4" stroke="#f79a96" stroke-width="1.0" fill="none"/><path d="M402.9 771.3 V778.8 M401.7 771.3 h2.4 M401.7 778.8 h2.4" stroke="#f79a96" stroke-width="1.0" fill="none"/><path d="M404.8 769.5 V777.0 M403.6 769.5 h2.4 M403.6 777.0 h2.4" stroke="#f79a96" stroke-width="1.0" fill="none"/><path d="M406.7 767.7 V775.3 M405.5 767.7 h2.4 M405.5 775.3 h2.4" stroke="#f79a96" stroke-width="1.0" fill="none"/><path d="M408.5 766.5 V774.1 M407.3 766.5 h2.4 M407.3 774.1 h2.4" stroke="#f79a96" stroke-width="1.0" fill="none"/><path d="M410.4 765.3 V772.9 M409.2 765.3 h2.4 M409.2 772.9 h2.4" stroke="#f79a96" stroke-width="1.0" fill="none"/><path d="M412.3 764.1 V771.7 M411.1 764.1 h2.4 M411.1 771.7 h2.4" stroke="#f79a96" stroke-width="1.0" fill="none"/><path d="M414.1 762.9 V770.5 M412.9 762.9 h2.4 M412.9 770.5 h2.4" stroke="#f79a96" stroke-width="1.0" fill="none"/><path d="M416.0 761.7 V769.3 M414.8 761.7 h2.4 M414.8 769.3 h2.4" stroke="#f79a96" stroke-width="1.0" fill="none"/><path d="M417.9 760.5 V768.1 M416.7 760.5 h2.4 M416.7 768.1 h2.4" stroke="#f79a96" stroke-width="1.0" fill="none"/><path d="M419.7 759.4 V766.9 M418.5 759.4 h2.4 M418.5 766.9 h2.4" stroke="#f79a96" stroke-width="1.0" fill="none"/><path d="M421.6 758.2 V765.7 M420.4 758.2 h2.4 M420.4 765.7 h2.4" stroke="#f79a96" stroke-width="1.0" fill="none"/><path d="M423.4 757.0 V764.5 M422.2 757.0 h2.4 M422.2 764.5 h2.4" stroke="#f79a96" stroke-width="1.0" fill="none"/><path d="M425.3 755.8 V763.3 M424.1 755.8 h2.4 M424.1 763.3 h2.4" stroke="#f79a96" stroke-width="1.0" fill="none"/><path d="M427.2 754.7 V762.3 M426.0 754.7 h2.4 M426.0 762.3 h2.4" stroke="#f79a96" stroke-width="1.0" fill="none"/><path d="M429.0 753.7 V761.2 M427.8 753.7 h2.4 M427.8 761.2 h2.4" stroke="#f79a96" stroke-width="1.0" fill="none"/><path d="M430.9 752.6 V760.2 M429.7 752.6 h2.4 M429.7 760.2 h2.4" stroke="#f79a96" stroke-width="1.0" fill="none"/><path d="M432.8 751.6 V759.1 M431.6 751.6 h2.4 M431.6 759.1 h2.4" stroke="#f79a96" stroke-width="1.0" fill="none"/><path d="M434.6 750.5 V758.1 M433.4 750.5 h2.4 M433.4 758.1 h2.4" stroke="#f79a96" stroke-width="1.0" fill="none"/><path d="M436.5 749.4 V757.0 M435.3 749.4 h2.4 M435.3 757.0 h2.4" stroke="#f79a96" stroke-width="1.0" fill="none"/><path d="M438.3 748.4 V755.9 M437.1 748.4 h2.4 M437.1 755.9 h2.4" stroke="#f79a96" stroke-width="1.0" fill="none"/><path d="M440.2 747.3 V754.9 M439.0 747.3 h2.4 M439.0 754.9 h2.4" stroke="#f79a96" stroke-width="1.0" fill="none"/><path d="M442.1 746.3 V753.8 M440.9 746.3 h2.4 M440.9 753.8 h2.4" stroke="#f79a96" stroke-width="1.0" fill="none"/><path d="M443.9 745.2 V752.8 M442.7 745.2 h2.4 M442.7 752.8 h2.4" stroke="#f79a96" stroke-width="1.0" fill="none"/><path d="M445.8 744.3 V751.9 M444.6 744.3 h2.4 M444.6 751.9 h2.4" stroke="#f79a96" stroke-width="1.0" fill="none"/><path d="M447.7 743.4 V750.9 M446.5 743.4 h2.4 M446.5 750.9 h2.4" stroke="#f79a96" stroke-width="1.0" fill="none"/><path d="M449.5 742.5 V750.0 M448.3 742.5 h2.4 M448.3 750.0 h2.4" stroke="#f79a96" stroke-width="1.0" fill="none"/><path d="M451.4 741.6 V749.1 M450.2 741.6 h2.4 M450.2 749.1 h2.4" stroke="#f79a96" stroke-width="1.0" fill="none"/><path d="M453.3 740.7 V748.2 M452.1 740.7 h2.4 M452.1 748.2 h2.4" stroke="#f79a96" stroke-width="1.0" fill="none"/><path d="M455.1 739.8 V747.3 M453.9 739.8 h2.4 M453.9 747.3 h2.4" stroke="#f79a96" stroke-width="1.0" fill="none"/><path d="M457.0 738.9 V746.4 M455.8 738.9 h2.4 M455.8 746.4 h2.4" stroke="#f79a96" stroke-width="1.0" fill="none"/><path d="M458.8 737.9 V745.5 M457.6 737.9 h2.4 M457.6 745.5 h2.4" stroke="#f79a96" stroke-width="1.0" fill="none"/><path d="M460.7 737.0 V744.6 M459.5 737.0 h2.4 M459.5 744.6 h2.4" stroke="#f79a96" stroke-width="1.0" fill="none"/><path d="M462.6 736.1 V743.7 M461.4 736.1 h2.4 M461.4 743.7 h2.4" stroke="#f79a96" stroke-width="1.0" fill="none"/><path d="M464.4 735.6 V743.2 M463.2 735.6 h2.4 M463.2 743.2 h2.4" stroke="#f79a96" stroke-width="1.0" fill="none"/><path d="M466.3 735.1 V742.7 M465.1 735.1 h2.4 M465.1 742.7 h2.4" stroke="#f79a96" stroke-width="1.0" fill="none"/><path d="M468.2 734.6 V742.2 M467.0 734.6 h2.4 M467.0 742.2 h2.4" stroke="#f79a96" stroke-width="1.0" fill="none"/><path d="M470.0 734.1 V741.6 M468.8 734.1 h2.4 M468.8 741.6 h2.4" stroke="#f79a96" stroke-width="1.0" fill="none"/><path d="M471.9 733.6 V741.1 M470.7 733.6 h2.4 M470.7 741.1 h2.4" stroke="#f79a96" stroke-width="1.0" fill="none"/><path d="M473.8 733.1 V740.6 M472.6 733.1 h2.4 M472.6 740.6 h2.4" stroke="#f79a96" stroke-width="1.0" fill="none"/><path d="M475.6 732.6 V740.1 M474.4 732.6 h2.4 M474.4 740.1 h2.4" stroke="#f79a96" stroke-width="1.0" fill="none"/><path d="M477.5 732.0 V739.6 M476.3 732.0 h2.4 M476.3 739.6 h2.4" stroke="#f79a96" stroke-width="1.0" fill="none"/><path d="M479.3 731.5 V739.1 M478.1 731.5 h2.4 M478.1 739.1 h2.4" stroke="#f79a96" stroke-width="1.0" fill="none"/><path d="M481.2 731.0 V738.6 M480.0 731.0 h2.4 M480.0 738.6 h2.4" stroke="#f79a96" stroke-width="1.0" fill="none"/><path d="M483.1 730.6 V738.2 M481.9 730.6 h2.4 M481.9 738.2 h2.4" stroke="#f79a96" stroke-width="1.0" fill="none"/><path d="M484.9 730.3 V737.8 M483.7 730.3 h2.4 M483.7 737.8 h2.4" stroke="#f79a96" stroke-width="1.0" fill="none"/><path d="M486.8 729.9 V737.5 M485.6 729.9 h2.4 M485.6 737.5 h2.4" stroke="#f79a96" stroke-width="1.0" fill="none"/><path d="M488.7 729.5 V737.1 M487.5 729.5 h2.4 M487.5 737.1 h2.4" stroke="#f79a96" stroke-width="1.0" fill="none"/><path d="M490.5 729.1 V736.7 M489.3 729.1 h2.4 M489.3 736.7 h2.4" stroke="#f79a96" stroke-width="1.0" fill="none"/><path d="M492.4 728.8 V736.3 M491.2 728.8 h2.4 M491.2 736.3 h2.4" stroke="#f79a96" stroke-width="1.0" fill="none"/><path d="M494.3 728.4 V735.9 M493.1 728.4 h2.4 M493.1 735.9 h2.4" stroke="#f79a96" stroke-width="1.0" fill="none"/><path d="M496.1 728.0 V735.6 M494.9 728.0 h2.4 M494.9 735.6 h2.4" stroke="#f79a96" stroke-width="1.0" fill="none"/><path d="M498.0 727.6 V735.2 M496.8 727.6 h2.4 M496.8 735.2 h2.4" stroke="#f79a96" stroke-width="1.0" fill="none"/><path d="M499.8 727.2 V734.8 M498.6 727.2 h2.4 M498.6 734.8 h2.4" stroke="#f79a96" stroke-width="1.0" fill="none"/><path d="M501.7 726.9 V734.5 M500.5 726.9 h2.4 M500.5 734.5 h2.4" stroke="#f79a96" stroke-width="1.0" fill="none"/><path d="M503.6 726.6 V734.2 M502.4 726.6 h2.4 M502.4 734.2 h2.4" stroke="#f79a96" stroke-width="1.0" fill="none"/><path d="M505.4 726.3 V733.9 M504.2 726.3 h2.4 M504.2 733.9 h2.4" stroke="#f79a96" stroke-width="1.0" fill="none"/><path d="M507.3 726.0 V733.6 M506.1 726.0 h2.4 M506.1 733.6 h2.4" stroke="#f79a96" stroke-width="1.0" fill="none"/><path d="M509.2 725.7 V733.3 M508.0 725.7 h2.4 M508.0 733.3 h2.4" stroke="#f79a96" stroke-width="1.0" fill="none"/><path d="M511.0 725.4 V733.0 M509.8 725.4 h2.4 M509.8 733.0 h2.4" stroke="#f79a96" stroke-width="1.0" fill="none"/><path d="M512.9 725.1 V732.7 M511.7 725.1 h2.4 M511.7 732.7 h2.4" stroke="#f79a96" stroke-width="1.0" fill="none"/><path d="M514.8 724.8 V732.4 M513.6 724.8 h2.4 M513.6 732.4 h2.4" stroke="#f79a96" stroke-width="1.0" fill="none"/><path d="M516.6 724.5 V732.1 M515.4 724.5 h2.4 M515.4 732.1 h2.4" stroke="#f79a96" stroke-width="1.0" fill="none"/><path d="M518.5 724.2 V731.8 M517.3 724.2 h2.4 M517.3 731.8 h2.4" stroke="#f79a96" stroke-width="1.0" fill="none"/><path d="M520.3 724.0 V731.5 M519.1 724.0 h2.4 M519.1 731.5 h2.4" stroke="#f79a96" stroke-width="1.0" fill="none"/><path d="M522.2 723.7 V731.3 M521.0 723.7 h2.4 M521.0 731.3 h2.4" stroke="#f79a96" stroke-width="1.0" fill="none"/><path d="M524.1 723.5 V731.0 M522.9 723.5 h2.4 M522.9 731.0 h2.4" stroke="#f79a96" stroke-width="1.0" fill="none"/><path d="M525.9 723.2 V730.8 M524.7 723.2 h2.4 M524.7 730.8 h2.4" stroke="#f79a96" stroke-width="1.0" fill="none"/><path d="M527.8 723.0 V730.6 M526.6 723.0 h2.4 M526.6 730.6 h2.4" stroke="#f79a96" stroke-width="1.0" fill="none"/><path d="M529.7 722.7 V730.3 M528.5 722.7 h2.4 M528.5 730.3 h2.4" stroke="#f79a96" stroke-width="1.0" fill="none"/><path d="M531.5 722.5 V730.1 M530.3 722.5 h2.4 M530.3 730.1 h2.4" stroke="#f79a96" stroke-width="1.0" fill="none"/><path d="M533.4 722.3 V729.8 M532.2 722.3 h2.4 M532.2 729.8 h2.4" stroke="#f79a96" stroke-width="1.0" fill="none"/><path d="M535.3 722.0 V729.6 M534.1 722.0 h2.4 M534.1 729.6 h2.4" stroke="#f79a96" stroke-width="1.0" fill="none"/><path d="M537.1 721.8 V729.3 M535.9 721.8 h2.4 M535.9 729.3 h2.4" stroke="#f79a96" stroke-width="1.0" fill="none"/><path d="M369.4 797.0 L371.3 796.4 L373.1 795.9 L375.0 795.3 L376.9 794.7 L378.7 793.6 L380.6 792.5 L382.4 791.3 L384.3 790.2 L386.2 789.0 L388.0 787.9 L389.9 786.4 L391.8 784.8 L393.6 783.3 L395.5 781.7 L397.4 780.2 L399.2 778.7 L401.1 776.9 L402.9 775.1 L404.8 773.3 L406.7 771.5 L408.5 770.3 L410.4 769.1 L412.3 767.9 L414.1 766.7 L416.0 765.5 L417.9 764.3 L419.7 763.1 L421.6 761.9 L423.4 760.8 L425.3 759.6 L427.2 758.5 L429.0 757.4 L430.9 756.4 L432.8 755.3 L434.6 754.3 L436.5 753.2 L438.3 752.2 L440.2 751.1 L442.1 750.0 L443.9 749.0 L445.8 748.1 L447.7 747.2 L449.5 746.3 L451.4 745.4 L453.3 744.4 L455.1 743.5 L457.0 742.6 L458.8 741.7 L460.7 740.8 L462.6 739.9 L464.4 739.4 L466.3 738.9 L468.2 738.4 L470.0 737.9 L471.9 737.4 L473.8 736.8 L475.6 736.3 L477.5 735.8 L479.3 735.3 L481.2 734.8 L483.1 734.4 L484.9 734.1 L486.8 733.7 L488.7 733.3 L490.5 732.9 L492.4 732.5 L494.3 732.2 L496.1 731.8 L498.0 731.4 L499.8 731.0 L501.7 730.7 L503.6 730.4 L505.4 730.1 L507.3 729.8 L509.2 729.5 L511.0 729.2 L512.9 728.9 L514.8 728.6 L516.6 728.3 L518.5 728.0 L520.3 727.8 L522.2 727.5 L524.1 727.3 L525.9 727.0 L527.8 726.8 L529.7 726.5 L531.5 726.3 L533.4 726.0 L535.3 725.8 L537.1 725.5" fill="none" stroke="#f79a96" stroke-width="1.2" stroke-linejoin="round"/><circle cx="369.4" cy="797.0" r="1.6" fill="#f79a96"/><circle cx="371.3" cy="796.4" r="1.6" fill="#f79a96"/><circle cx="373.1" cy="795.9" r="1.6" fill="#f79a96"/><circle cx="375.0" cy="795.3" r="1.6" fill="#f79a96"/><circle cx="376.9" cy="794.7" r="1.6" fill="#f79a96"/><circle cx="378.7" cy="793.6" r="1.6" fill="#f79a96"/><circle cx="380.6" cy="792.5" r="1.6" fill="#f79a96"/><circle cx="382.4" cy="791.3" r="1.6" fill="#f79a96"/><circle cx="384.3" cy="790.2" r="1.6" fill="#f79a96"/><circle cx="386.2" cy="789.0" r="1.6" fill="#f79a96"/><circle cx="388.0" cy="787.9" r="1.6" fill="#f79a96"/><circle cx="389.9" cy="786.4" r="1.6" fill="#f79a96"/><circle cx="391.8" cy="784.8" r="1.6" fill="#f79a96"/><circle cx="393.6" cy="783.3" r="1.6" fill="#f79a96"/><circle cx="395.5" cy="781.7" r="1.6" fill="#f79a96"/><circle cx="397.4" cy="780.2" r="1.6" fill="#f79a96"/><circle cx="399.2" cy="778.7" r="1.6" fill="#f79a96"/><circle cx="401.1" cy="776.9" r="1.6" fill="#f79a96"/><circle cx="402.9" cy="775.1" r="1.6" fill="#f79a96"/><circle cx="404.8" cy="773.3" r="1.6" fill="#f79a96"/><circle cx="406.7" cy="771.5" r="1.6" fill="#f79a96"/><circle cx="408.5" cy="770.3" r="1.6" fill="#f79a96"/><circle cx="410.4" cy="769.1" r="1.6" fill="#f79a96"/><circle cx="412.3" cy="767.9" r="1.6" fill="#f79a96"/><circle cx="414.1" cy="766.7" r="1.6" fill="#f79a96"/><circle cx="416.0" cy="765.5" r="1.6" fill="#f79a96"/><circle cx="417.9" cy="764.3" r="1.6" fill="#f79a96"/><circle cx="419.7" cy="763.1" r="1.6" fill="#f79a96"/><circle cx="421.6" cy="761.9" r="1.6" fill="#f79a96"/><circle cx="423.4" cy="760.8" r="1.6" fill="#f79a96"/><circle cx="425.3" cy="759.6" r="1.6" fill="#f79a96"/><circle cx="427.2" cy="758.5" r="1.6" fill="#f79a96"/><circle cx="429.0" cy="757.4" r="1.6" fill="#f79a96"/><circle cx="430.9" cy="756.4" r="1.6" fill="#f79a96"/><circle cx="432.8" cy="755.3" r="1.6" fill="#f79a96"/><circle cx="434.6" cy="754.3" r="1.6" fill="#f79a96"/><circle cx="436.5" cy="753.2" r="1.6" fill="#f79a96"/><circle cx="438.3" cy="752.2" r="1.6" fill="#f79a96"/><circle cx="440.2" cy="751.1" r="1.6" fill="#f79a96"/><circle cx="442.1" cy="750.0" r="1.6" fill="#f79a96"/><circle cx="443.9" cy="749.0" r="1.6" fill="#f79a96"/><circle cx="445.8" cy="748.1" r="1.6" fill="#f79a96"/><circle cx="447.7" cy="747.2" r="1.6" fill="#f79a96"/><circle cx="449.5" cy="746.3" r="1.6" fill="#f79a96"/><circle cx="451.4" cy="745.4" r="1.6" fill="#f79a96"/><circle cx="453.3" cy="744.4" r="1.6" fill="#f79a96"/><circle cx="455.1" cy="743.5" r="1.6" fill="#f79a96"/><circle cx="457.0" cy="742.6" r="1.6" fill="#f79a96"/><circle cx="458.8" cy="741.7" r="1.6" fill="#f79a96"/><circle cx="460.7" cy="740.8" r="1.6" fill="#f79a96"/><circle cx="462.6" cy="739.9" r="1.6" fill="#f79a96"/><circle cx="464.4" cy="739.4" r="1.6" fill="#f79a96"/><circle cx="466.3" cy="738.9" r="1.6" fill="#f79a96"/><circle cx="468.2" cy="738.4" r="1.6" fill="#f79a96"/><circle cx="470.0" cy="737.9" r="1.6" fill="#f79a96"/><circle cx="471.9" cy="737.4" r="1.6" fill="#f79a96"/><circle cx="473.8" cy="736.8" r="1.6" fill="#f79a96"/><circle cx="475.6" cy="736.3" r="1.6" fill="#f79a96"/><circle cx="477.5" cy="735.8" r="1.6" fill="#f79a96"/><circle cx="479.3" cy="735.3" r="1.6" fill="#f79a96"/><circle cx="481.2" cy="734.8" r="1.6" fill="#f79a96"/><circle cx="483.1" cy="734.4" r="1.6" fill="#f79a96"/><circle cx="484.9" cy="734.1" r="1.6" fill="#f79a96"/><circle cx="486.8" cy="733.7" r="1.6" fill="#f79a96"/><circle cx="488.7" cy="733.3" r="1.6" fill="#f79a96"/><circle cx="490.5" cy="732.9" r="1.6" fill="#f79a96"/><circle cx="492.4" cy="732.5" r="1.6" fill="#f79a96"/><circle cx="494.3" cy="732.2" r="1.6" fill="#f79a96"/><circle cx="496.1" cy="731.8" r="1.6" fill="#f79a96"/><circle cx="498.0" cy="731.4" r="1.6" fill="#f79a96"/><circle cx="499.8" cy="731.0" r="1.6" fill="#f79a96"/><circle cx="501.7" cy="730.7" r="1.6" fill="#f79a96"/><circle cx="503.6" cy="730.4" r="1.6" fill="#f79a96"/><circle cx="505.4" cy="730.1" r="1.6" fill="#f79a96"/><circle cx="507.3" cy="729.8" r="1.6" fill="#f79a96"/><circle cx="509.2" cy="729.5" r="1.6" fill="#f79a96"/><circle cx="511.0" cy="729.2" r="1.6" fill="#f79a96"/><circle cx="512.9" cy="728.9" r="1.6" fill="#f79a96"/><circle cx="514.8" cy="728.6" r="1.6" fill="#f79a96"/><circle cx="516.6" cy="728.3" r="1.6" fill="#f79a96"/><circle cx="518.5" cy="728.0" r="1.6" fill="#f79a96"/><circle cx="520.3" cy="727.8" r="1.6" fill="#f79a96"/><circle cx="522.2" cy="727.5" r="1.6" fill="#f79a96"/><circle cx="524.1" cy="727.3" r="1.6" fill="#f79a96"/><circle cx="525.9" cy="727.0" r="1.6" fill="#f79a96"/><circle cx="527.8" cy="726.8" r="1.6" fill="#f79a96"/><circle cx="529.7" cy="726.5" r="1.6" fill="#f79a96"/><circle cx="531.5" cy="726.3" r="1.6" fill="#f79a96"/><circle cx="533.4" cy="726.0" r="1.6" fill="#f79a96"/><circle cx="535.3" cy="725.8" r="1.6" fill="#f79a96"/><circle cx="537.1" cy="725.5" r="1.6" fill="#f79a96"/>
<path d="M369.4 799.6 L371.3 800.2 L373.1 800.8 L375.0 800.8 L376.9 800.8 L378.7 800.6 L380.6 800.4 L382.4 799.2 L384.3 799.4 L386.2 797.1 L388.0 794.7 L389.9 792.5 L391.8 790.4 L393.6 788.0 L395.5 785.6 L397.4 783.1 L399.2 780.5 L401.1 778.2 L402.9 775.8 L404.8 773.3 L406.7 770.7 L408.5 768.1 L410.4 765.4 L412.3 762.9 L414.1 760.3 L416.0 757.7 L417.9 755.0 L419.7 752.7 L421.6 750.3 L423.4 747.9 L425.3 745.6 L427.2 743.7 L429.0 741.8 L430.9 739.9 L432.8 738.0 L434.6 736.3 L436.5 734.6 L438.3 733.2 L440.2 731.8 L442.1 730.5 L443.9 729.1 L445.8 727.9 L447.7 726.7 L449.5 725.5 L451.4 724.4 L453.3 723.4 L455.1 722.3 L457.0 721.3 L458.8 720.3 L460.7 719.4 L462.6 718.6 L464.4 717.7 L466.3 716.9 L468.2 716.1 L470.0 715.3 L471.9 714.6 L473.8 713.8 L475.6 713.2 L477.5 712.5 L479.3 711.8 L481.2 711.2 L483.1 710.4 L484.9 709.5 L486.8 708.6 L488.7 707.7 L490.5 706.8 L492.4 705.8 L494.3 704.8 L496.1 703.8 L498.0 702.8 L499.8 701.8 L501.7 700.5 L503.6 699.2 L505.4 698.0 L507.3 696.7 L509.2 695.3 L511.0 694.0 L512.9 692.7 L514.8 691.3 L516.6 690.1 L518.5 688.9 L520.3 687.7 L522.2 686.5 L524.1 685.2 L525.9 684.0 L527.8 682.7 L529.7 681.4 L531.5 680.1 L533.4 678.8 L535.3 677.5 L537.1 676.2 L537.1 701.6 L535.3 701.8 L533.4 701.9 L531.5 702.2 L529.7 702.4 L527.8 702.6 L525.9 702.9 L524.1 703.1 L522.2 703.4 L520.3 703.7 L518.5 704.0 L516.6 704.3 L514.8 704.6 L512.9 705.1 L511.0 705.7 L509.2 706.2 L507.3 706.8 L505.4 707.4 L503.6 708.0 L501.7 708.6 L499.8 709.3 L498.0 709.7 L496.1 710.2 L494.3 710.7 L492.4 711.2 L490.5 711.8 L488.7 712.4 L486.8 713.0 L484.9 713.6 L483.1 714.3 L481.2 715.0 L479.3 715.6 L477.5 716.3 L475.6 716.9 L473.8 717.6 L471.9 718.4 L470.0 719.1 L468.2 719.9 L466.3 720.6 L464.4 721.5 L462.6 722.3 L460.7 723.2 L458.8 724.0 L457.0 725.1 L455.1 726.1 L453.3 727.2 L451.4 728.2 L449.5 729.3 L447.7 730.5 L445.8 731.7 L443.9 732.9 L442.1 734.2 L440.2 735.6 L438.3 737.0 L436.5 738.4 L434.6 740.1 L432.8 741.8 L430.9 743.7 L429.0 745.6 L427.2 747.5 L425.3 749.4 L423.4 751.7 L421.6 754.1 L419.7 756.4 L417.9 758.8 L416.0 761.5 L414.1 764.1 L412.3 766.7 L410.4 769.2 L408.5 771.9 L406.7 774.5 L404.8 777.0 L402.9 779.6 L401.1 782.0 L399.2 784.3 L397.4 786.9 L395.5 789.4 L393.6 791.8 L391.8 794.2 L389.9 796.3 L388.0 798.5 L386.2 800.9 L384.3 803.2 L382.4 806.0 L380.6 807.2 L378.7 807.4 L376.9 807.6 L375.0 807.6 L373.1 807.6 L371.3 807.0 L369.4 806.4 Z" fill="#fa2412" opacity="0.4"/><path d="M369.4 799.6 V806.4 M368.2 799.6 h2.4 M368.2 806.4 h2.4" stroke="#fa2412" stroke-width="1.0" fill="none"/><path d="M371.3 800.2 V807.0 M370.1 800.2 h2.4 M370.1 807.0 h2.4" stroke="#fa2412" stroke-width="1.0" fill="none"/><path d="M373.1 800.8 V807.6 M371.9 800.8 h2.4 M371.9 807.6 h2.4" stroke="#fa2412" stroke-width="1.0" fill="none"/><path d="M375.0 800.8 V807.6 M373.8 800.8 h2.4 M373.8 807.6 h2.4" stroke="#fa2412" stroke-width="1.0" fill="none"/><path d="M376.9 800.8 V807.6 M375.7 800.8 h2.4 M375.7 807.6 h2.4" stroke="#fa2412" stroke-width="1.0" fill="none"/><path d="M378.7 800.6 V807.4 M377.5 800.6 h2.4 M377.5 807.4 h2.4" stroke="#fa2412" stroke-width="1.0" fill="none"/><path d="M380.6 800.4 V807.2 M379.4 800.4 h2.4 M379.4 807.2 h2.4" stroke="#fa2412" stroke-width="1.0" fill="none"/><path d="M382.4 799.2 V806.0 M381.2 799.2 h2.4 M381.2 806.0 h2.4" stroke="#fa2412" stroke-width="1.0" fill="none"/><path d="M384.3 799.4 V803.2 M383.1 799.4 h2.4 M383.1 803.2 h2.4" stroke="#fa2412" stroke-width="1.0" fill="none"/><path d="M386.2 797.1 V800.9 M385.0 797.1 h2.4 M385.0 800.9 h2.4" stroke="#fa2412" stroke-width="1.0" fill="none"/><path d="M388.0 794.7 V798.5 M386.8 794.7 h2.4 M386.8 798.5 h2.4" stroke="#fa2412" stroke-width="1.0" fill="none"/><path d="M389.9 792.5 V796.3 M388.7 792.5 h2.4 M388.7 796.3 h2.4" stroke="#fa2412" stroke-width="1.0" fill="none"/><path d="M391.8 790.4 V794.2 M390.6 790.4 h2.4 M390.6 794.2 h2.4" stroke="#fa2412" stroke-width="1.0" fill="none"/><path d="M393.6 788.0 V791.8 M392.4 788.0 h2.4 M392.4 791.8 h2.4" stroke="#fa2412" stroke-width="1.0" fill="none"/><path d="M395.5 785.6 V789.4 M394.3 785.6 h2.4 M394.3 789.4 h2.4" stroke="#fa2412" stroke-width="1.0" fill="none"/><path d="M397.4 783.1 V786.9 M396.2 783.1 h2.4 M396.2 786.9 h2.4" stroke="#fa2412" stroke-width="1.0" fill="none"/><path d="M399.2 780.5 V784.3 M398.0 780.5 h2.4 M398.0 784.3 h2.4" stroke="#fa2412" stroke-width="1.0" fill="none"/><path d="M401.1 778.2 V782.0 M399.9 778.2 h2.4 M399.9 782.0 h2.4" stroke="#fa2412" stroke-width="1.0" fill="none"/><path d="M402.9 775.8 V779.6 M401.7 775.8 h2.4 M401.7 779.6 h2.4" stroke="#fa2412" stroke-width="1.0" fill="none"/><path d="M404.8 773.3 V777.0 M403.6 773.3 h2.4 M403.6 777.0 h2.4" stroke="#fa2412" stroke-width="1.0" fill="none"/><path d="M406.7 770.7 V774.5 M405.5 770.7 h2.4 M405.5 774.5 h2.4" stroke="#fa2412" stroke-width="1.0" fill="none"/><path d="M408.5 768.1 V771.9 M407.3 768.1 h2.4 M407.3 771.9 h2.4" stroke="#fa2412" stroke-width="1.0" fill="none"/><path d="M410.4 765.4 V769.2 M409.2 765.4 h2.4 M409.2 769.2 h2.4" stroke="#fa2412" stroke-width="1.0" fill="none"/><path d="M412.3 762.9 V766.7 M411.1 762.9 h2.4 M411.1 766.7 h2.4" stroke="#fa2412" stroke-width="1.0" fill="none"/><path d="M414.1 760.3 V764.1 M412.9 760.3 h2.4 M412.9 764.1 h2.4" stroke="#fa2412" stroke-width="1.0" fill="none"/><path d="M416.0 757.7 V761.5 M414.8 757.7 h2.4 M414.8 761.5 h2.4" stroke="#fa2412" stroke-width="1.0" fill="none"/><path d="M417.9 755.0 V758.8 M416.7 755.0 h2.4 M416.7 758.8 h2.4" stroke="#fa2412" stroke-width="1.0" fill="none"/><path d="M419.7 752.7 V756.4 M418.5 752.7 h2.4 M418.5 756.4 h2.4" stroke="#fa2412" stroke-width="1.0" fill="none"/><path d="M421.6 750.3 V754.1 M420.4 750.3 h2.4 M420.4 754.1 h2.4" stroke="#fa2412" stroke-width="1.0" fill="none"/><path d="M423.4 747.9 V751.7 M422.2 747.9 h2.4 M422.2 751.7 h2.4" stroke="#fa2412" stroke-width="1.0" fill="none"/><path d="M425.3 745.6 V749.4 M424.1 745.6 h2.4 M424.1 749.4 h2.4" stroke="#fa2412" stroke-width="1.0" fill="none"/><path d="M427.2 743.7 V747.5 M426.0 743.7 h2.4 M426.0 747.5 h2.4" stroke="#fa2412" stroke-width="1.0" fill="none"/><path d="M429.0 741.8 V745.6 M427.8 741.8 h2.4 M427.8 745.6 h2.4" stroke="#fa2412" stroke-width="1.0" fill="none"/><path d="M430.9 739.9 V743.7 M429.7 739.9 h2.4 M429.7 743.7 h2.4" stroke="#fa2412" stroke-width="1.0" fill="none"/><path d="M432.8 738.0 V741.8 M431.6 738.0 h2.4 M431.6 741.8 h2.4" stroke="#fa2412" stroke-width="1.0" fill="none"/><path d="M434.6 736.3 V740.1 M433.4 736.3 h2.4 M433.4 740.1 h2.4" stroke="#fa2412" stroke-width="1.0" fill="none"/><path d="M436.5 734.6 V738.4 M435.3 734.6 h2.4 M435.3 738.4 h2.4" stroke="#fa2412" stroke-width="1.0" fill="none"/><path d="M438.3 733.2 V737.0 M437.1 733.2 h2.4 M437.1 737.0 h2.4" stroke="#fa2412" stroke-width="1.0" fill="none"/><path d="M440.2 731.8 V735.6 M439.0 731.8 h2.4 M439.0 735.6 h2.4" stroke="#fa2412" stroke-width="1.0" fill="none"/><path d="M442.1 730.5 V734.2 M440.9 730.5 h2.4 M440.9 734.2 h2.4" stroke="#fa2412" stroke-width="1.0" fill="none"/><path d="M443.9 729.1 V732.9 M442.7 729.1 h2.4 M442.7 732.9 h2.4" stroke="#fa2412" stroke-width="1.0" fill="none"/><path d="M445.8 727.9 V731.7 M444.6 727.9 h2.4 M444.6 731.7 h2.4" stroke="#fa2412" stroke-width="1.0" fill="none"/><path d="M447.7 726.7 V730.5 M446.5 726.7 h2.4 M446.5 730.5 h2.4" stroke="#fa2412" stroke-width="1.0" fill="none"/><path d="M449.5 725.5 V729.3 M448.3 725.5 h2.4 M448.3 729.3 h2.4" stroke="#fa2412" stroke-width="1.0" fill="none"/><path d="M451.4 724.4 V728.2 M450.2 724.4 h2.4 M450.2 728.2 h2.4" stroke="#fa2412" stroke-width="1.0" fill="none"/><path d="M453.3 723.4 V727.2 M452.1 723.4 h2.4 M452.1 727.2 h2.4" stroke="#fa2412" stroke-width="1.0" fill="none"/><path d="M455.1 722.3 V726.1 M453.9 722.3 h2.4 M453.9 726.1 h2.4" stroke="#fa2412" stroke-width="1.0" fill="none"/><path d="M457.0 721.3 V725.1 M455.8 721.3 h2.4 M455.8 725.1 h2.4" stroke="#fa2412" stroke-width="1.0" fill="none"/><path d="M458.8 720.3 V724.0 M457.6 720.3 h2.4 M457.6 724.0 h2.4" stroke="#fa2412" stroke-width="1.0" fill="none"/><path d="M460.7 719.4 V723.2 M459.5 719.4 h2.4 M459.5 723.2 h2.4" stroke="#fa2412" stroke-width="1.0" fill="none"/><path d="M462.6 718.6 V722.3 M461.4 718.6 h2.4 M461.4 722.3 h2.4" stroke="#fa2412" stroke-width="1.0" fill="none"/><path d="M464.4 717.7 V721.5 M463.2 717.7 h2.4 M463.2 721.5 h2.4" stroke="#fa2412" stroke-width="1.0" fill="none"/><path d="M466.3 716.9 V720.6 M465.1 716.9 h2.4 M465.1 720.6 h2.4" stroke="#fa2412" stroke-width="1.0" fill="none"/><path d="M468.2 716.1 V719.9 M467.0 716.1 h2.4 M467.0 719.9 h2.4" stroke="#fa2412" stroke-width="1.0" fill="none"/><path d="M470.0 715.3 V719.1 M468.8 715.3 h2.4 M468.8 719.1 h2.4" stroke="#fa2412" stroke-width="1.0" fill="none"/><path d="M471.9 714.6 V718.4 M470.7 714.6 h2.4 M470.7 718.4 h2.4" stroke="#fa2412" stroke-width="1.0" fill="none"/><path d="M473.8 713.8 V717.6 M472.6 713.8 h2.4 M472.6 717.6 h2.4" stroke="#fa2412" stroke-width="1.0" fill="none"/><path d="M475.6 713.2 V716.9 M474.4 713.2 h2.4 M474.4 716.9 h2.4" stroke="#fa2412" stroke-width="1.0" fill="none"/><path d="M477.5 712.5 V716.3 M476.3 712.5 h2.4 M476.3 716.3 h2.4" stroke="#fa2412" stroke-width="1.0" fill="none"/><path d="M479.3 711.8 V715.6 M478.1 711.8 h2.4 M478.1 715.6 h2.4" stroke="#fa2412" stroke-width="1.0" fill="none"/><path d="M481.2 711.2 V715.0 M480.0 711.2 h2.4 M480.0 715.0 h2.4" stroke="#fa2412" stroke-width="1.0" fill="none"/><path d="M483.1 710.4 V714.3 M481.9 710.4 h2.4 M481.9 714.3 h2.4" stroke="#fa2412" stroke-width="1.0" fill="none"/><path d="M484.9 709.5 V713.6 M483.7 709.5 h2.4 M483.7 713.6 h2.4" stroke="#fa2412" stroke-width="1.0" fill="none"/><path d="M486.8 708.6 V713.0 M485.6 708.6 h2.4 M485.6 713.0 h2.4" stroke="#fa2412" stroke-width="1.0" fill="none"/><path d="M488.7 707.7 V712.4 M487.5 707.7 h2.4 M487.5 712.4 h2.4" stroke="#fa2412" stroke-width="1.0" fill="none"/><path d="M490.5 706.8 V711.8 M489.3 706.8 h2.4 M489.3 711.8 h2.4" stroke="#fa2412" stroke-width="1.0" fill="none"/><path d="M492.4 705.8 V711.2 M491.2 705.8 h2.4 M491.2 711.2 h2.4" stroke="#fa2412" stroke-width="1.0" fill="none"/><path d="M494.3 704.8 V710.7 M493.1 704.8 h2.4 M493.1 710.7 h2.4" stroke="#fa2412" stroke-width="1.0" fill="none"/><path d="M496.1 703.8 V710.2 M494.9 703.8 h2.4 M494.9 710.2 h2.4" stroke="#fa2412" stroke-width="1.0" fill="none"/><path d="M498.0 702.8 V709.7 M496.8 702.8 h2.4 M496.8 709.7 h2.4" stroke="#fa2412" stroke-width="1.0" fill="none"/><path d="M499.8 701.8 V709.3 M498.6 701.8 h2.4 M498.6 709.3 h2.4" stroke="#fa2412" stroke-width="1.0" fill="none"/><path d="M501.7 700.5 V708.6 M500.5 700.5 h2.4 M500.5 708.6 h2.4" stroke="#fa2412" stroke-width="1.0" fill="none"/><path d="M503.6 699.2 V708.0 M502.4 699.2 h2.4 M502.4 708.0 h2.4" stroke="#fa2412" stroke-width="1.0" fill="none"/><path d="M505.4 698.0 V707.4 M504.2 698.0 h2.4 M504.2 707.4 h2.4" stroke="#fa2412" stroke-width="1.0" fill="none"/><path d="M507.3 696.7 V706.8 M506.1 696.7 h2.4 M506.1 706.8 h2.4" stroke="#fa2412" stroke-width="1.0" fill="none"/><path d="M509.2 695.3 V706.2 M508.0 695.3 h2.4 M508.0 706.2 h2.4" stroke="#fa2412" stroke-width="1.0" fill="none"/><path d="M511.0 694.0 V705.7 M509.8 694.0 h2.4 M509.8 705.7 h2.4" stroke="#fa2412" stroke-width="1.0" fill="none"/><path d="M512.9 692.7 V705.1 M511.7 692.7 h2.4 M511.7 705.1 h2.4" stroke="#fa2412" stroke-width="1.0" fill="none"/><path d="M514.8 691.3 V704.6 M513.6 691.3 h2.4 M513.6 704.6 h2.4" stroke="#fa2412" stroke-width="1.0" fill="none"/><path d="M516.6 690.1 V704.3 M515.4 690.1 h2.4 M515.4 704.3 h2.4" stroke="#fa2412" stroke-width="1.0" fill="none"/><path d="M518.5 688.9 V704.0 M517.3 688.9 h2.4 M517.3 704.0 h2.4" stroke="#fa2412" stroke-width="1.0" fill="none"/><path d="M520.3 687.7 V703.7 M519.1 687.7 h2.4 M519.1 703.7 h2.4" stroke="#fa2412" stroke-width="1.0" fill="none"/><path d="M522.2 686.5 V703.4 M521.0 686.5 h2.4 M521.0 703.4 h2.4" stroke="#fa2412" stroke-width="1.0" fill="none"/><path d="M524.1 685.2 V703.1 M522.9 685.2 h2.4 M522.9 703.1 h2.4" stroke="#fa2412" stroke-width="1.0" fill="none"/><path d="M525.9 684.0 V702.9 M524.7 684.0 h2.4 M524.7 702.9 h2.4" stroke="#fa2412" stroke-width="1.0" fill="none"/><path d="M527.8 682.7 V702.6 M526.6 682.7 h2.4 M526.6 702.6 h2.4" stroke="#fa2412" stroke-width="1.0" fill="none"/><path d="M529.7 681.4 V702.4 M528.5 681.4 h2.4 M528.5 702.4 h2.4" stroke="#fa2412" stroke-width="1.0" fill="none"/><path d="M531.5 680.1 V702.2 M530.3 680.1 h2.4 M530.3 702.2 h2.4" stroke="#fa2412" stroke-width="1.0" fill="none"/><path d="M533.4 678.8 V701.9 M532.2 678.8 h2.4 M532.2 701.9 h2.4" stroke="#fa2412" stroke-width="1.0" fill="none"/><path d="M535.3 677.5 V701.8 M534.1 677.5 h2.4 M534.1 701.8 h2.4" stroke="#fa2412" stroke-width="1.0" fill="none"/><path d="M537.1 676.2 V701.6 M535.9 676.2 h2.4 M535.9 701.6 h2.4" stroke="#fa2412" stroke-width="1.0" fill="none"/><path d="M369.4 803.0 L371.3 803.6 L373.1 804.2 L375.0 804.2 L376.9 804.2 L378.7 804.0 L380.6 803.8 L382.4 802.6 L384.3 801.3 L386.2 799.0 L388.0 796.6 L389.9 794.4 L391.8 792.3 L393.6 789.9 L395.5 787.5 L397.4 785.0 L399.2 782.4 L401.1 780.1 L402.9 777.7 L404.8 775.2 L406.7 772.6 L408.5 770.0 L410.4 767.3 L412.3 764.8 L414.1 762.2 L416.0 759.6 L417.9 756.9 L419.7 754.6 L421.6 752.2 L423.4 749.8 L425.3 747.5 L427.2 745.6 L429.0 743.7 L430.9 741.8 L432.8 739.9 L434.6 738.2 L436.5 736.5 L438.3 735.1 L440.2 733.7 L442.1 732.4 L443.9 731.0 L445.8 729.8 L447.7 728.6 L449.5 727.4 L451.4 726.3 L453.3 725.3 L455.1 724.2 L457.0 723.2 L458.8 722.1 L460.7 721.3 L462.6 720.4 L464.4 719.6 L466.3 718.7 L468.2 718.0 L470.0 717.2 L471.9 716.5 L473.8 715.7 L475.6 715.1 L477.5 714.4 L479.3 713.7 L481.2 713.1 L483.1 712.3 L484.9 711.6 L486.8 710.8 L488.7 710.0 L490.5 709.3 L492.4 708.5 L494.3 707.8 L496.1 707.0 L498.0 706.3 L499.8 705.5 L501.7 704.6 L503.6 703.6 L505.4 702.7 L507.3 701.7 L509.2 700.8 L511.0 699.8 L512.9 698.9 L514.8 698.0 L516.6 697.2 L518.5 696.4 L520.3 695.7 L522.2 694.9 L524.1 694.2 L525.9 693.4 L527.8 692.7 L529.7 691.9 L531.5 691.1 L533.4 690.4 L535.3 689.6 L537.1 688.9" fill="none" stroke="#fa2412" stroke-width="2" stroke-linejoin="round"/><circle cx="369.4" cy="803.0" r="2.0" fill="#fa2412"/><circle cx="371.3" cy="803.6" r="2.0" fill="#fa2412"/><circle cx="373.1" cy="804.2" r="2.0" fill="#fa2412"/><circle cx="375.0" cy="804.2" r="2.0" fill="#fa2412"/><circle cx="376.9" cy="804.2" r="2.0" fill="#fa2412"/><circle cx="378.7" cy="804.0" r="2.0" fill="#fa2412"/><circle cx="380.6" cy="803.8" r="2.0" fill="#fa2412"/><circle cx="382.4" cy="802.6" r="2.0" fill="#fa2412"/><circle cx="384.3" cy="801.3" r="2.0" fill="#fa2412"/><circle cx="386.2" cy="799.0" r="2.0" fill="#fa2412"/><circle cx="388.0" cy="796.6" r="2.0" fill="#fa2412"/><circle cx="389.9" cy="794.4" r="2.0" fill="#fa2412"/><circle cx="391.8" cy="792.3" r="2.0" fill="#fa2412"/><circle cx="393.6" cy="789.9" r="2.0" fill="#fa2412"/><circle cx="395.5" cy="787.5" r="2.0" fill="#fa2412"/><circle cx="397.4" cy="785.0" r="2.0" fill="#fa2412"/><circle cx="399.2" cy="782.4" r="2.0" fill="#fa2412"/><circle cx="401.1" cy="780.1" r="2.0" fill="#fa2412"/><circle cx="402.9" cy="777.7" r="2.0" fill="#fa2412"/><circle cx="404.8" cy="775.2" r="2.0" fill="#fa2412"/><circle cx="406.7" cy="772.6" r="2.0" fill="#fa2412"/><circle cx="408.5" cy="770.0" r="2.0" fill="#fa2412"/><circle cx="410.4" cy="767.3" r="2.0" fill="#fa2412"/><circle cx="412.3" cy="764.8" r="2.0" fill="#fa2412"/><circle cx="414.1" cy="762.2" r="2.0" fill="#fa2412"/><circle cx="416.0" cy="759.6" r="2.0" fill="#fa2412"/><circle cx="417.9" cy="756.9" r="2.0" fill="#fa2412"/><circle cx="419.7" cy="754.6" r="2.0" fill="#fa2412"/><circle cx="421.6" cy="752.2" r="2.0" fill="#fa2412"/><circle cx="423.4" cy="749.8" r="2.0" fill="#fa2412"/><circle cx="425.3" cy="747.5" r="2.0" fill="#fa2412"/><circle cx="427.2" cy="745.6" r="2.0" fill="#fa2412"/><circle cx="429.0" cy="743.7" r="2.0" fill="#fa2412"/><circle cx="430.9" cy="741.8" r="2.0" fill="#fa2412"/><circle cx="432.8" cy="739.9" r="2.0" fill="#fa2412"/><circle cx="434.6" cy="738.2" r="2.0" fill="#fa2412"/><circle cx="436.5" cy="736.5" r="2.0" fill="#fa2412"/><circle cx="438.3" cy="735.1" r="2.0" fill="#fa2412"/><circle cx="440.2" cy="733.7" r="2.0" fill="#fa2412"/><circle cx="442.1" cy="732.4" r="2.0" fill="#fa2412"/><circle cx="443.9" cy="731.0" r="2.0" fill="#fa2412"/><circle cx="445.8" cy="729.8" r="2.0" fill="#fa2412"/><circle cx="447.7" cy="728.6" r="2.0" fill="#fa2412"/><circle cx="449.5" cy="727.4" r="2.0" fill="#fa2412"/><circle cx="451.4" cy="726.3" r="2.0" fill="#fa2412"/><circle cx="453.3" cy="725.3" r="2.0" fill="#fa2412"/><circle cx="455.1" cy="724.2" r="2.0" fill="#fa2412"/><circle cx="457.0" cy="723.2" r="2.0" fill="#fa2412"/><circle cx="458.8" cy="722.1" r="2.0" fill="#fa2412"/><circle cx="460.7" cy="721.3" r="2.0" fill="#fa2412"/><circle cx="462.6" cy="720.4" r="2.0" fill="#fa2412"/><circle cx="464.4" cy="719.6" r="2.0" fill="#fa2412"/><circle cx="466.3" cy="718.7" r="2.0" fill="#fa2412"/><circle cx="468.2" cy="718.0" r="2.0" fill="#fa2412"/><circle cx="470.0" cy="717.2" r="2.0" fill="#fa2412"/><circle cx="471.9" cy="716.5" r="2.0" fill="#fa2412"/><circle cx="473.8" cy="715.7" r="2.0" fill="#fa2412"/><circle cx="475.6" cy="715.1" r="2.0" fill="#fa2412"/><circle cx="477.5" cy="714.4" r="2.0" fill="#fa2412"/><circle cx="479.3" cy="713.7" r="2.0" fill="#fa2412"/><circle cx="481.2" cy="713.1" r="2.0" fill="#fa2412"/><circle cx="483.1" cy="712.3" r="2.0" fill="#fa2412"/><circle cx="484.9" cy="711.6" r="2.0" fill="#fa2412"/><circle cx="486.8" cy="710.8" r="2.0" fill="#fa2412"/><circle cx="488.7" cy="710.0" r="2.0" fill="#fa2412"/><circle cx="490.5" cy="709.3" r="2.0" fill="#fa2412"/><circle cx="492.4" cy="708.5" r="2.0" fill="#fa2412"/><circle cx="494.3" cy="707.8" r="2.0" fill="#fa2412"/><circle cx="496.1" cy="707.0" r="2.0" fill="#fa2412"/><circle cx="498.0" cy="706.3" r="2.0" fill="#fa2412"/><circle cx="499.8" cy="705.5" r="2.0" fill="#fa2412"/><circle cx="501.7" cy="704.6" r="2.0" fill="#fa2412"/><circle cx="503.6" cy="703.6" r="2.0" fill="#fa2412"/><circle cx="505.4" cy="702.7" r="2.0" fill="#fa2412"/><circle cx="507.3" cy="701.7" r="2.0" fill="#fa2412"/><circle cx="509.2" cy="700.8" r="2.0" fill="#fa2412"/><circle cx="511.0" cy="699.8" r="2.0" fill="#fa2412"/><circle cx="512.9" cy="698.9" r="2.0" fill="#fa2412"/><circle cx="514.8" cy="698.0" r="2.0" fill="#fa2412"/><circle cx="516.6" cy="697.2" r="2.0" fill="#fa2412"/><circle cx="518.5" cy="696.4" r="2.0" fill="#fa2412"/><circle cx="520.3" cy="695.7" r="2.0" fill="#fa2412"/><circle cx="522.2" cy="694.9" r="2.0" fill="#fa2412"/><circle cx="524.1" cy="694.2" r="2.0" fill="#fa2412"/><circle cx="525.9" cy="693.4" r="2.0" fill="#fa2412"/><circle cx="527.8" cy="692.7" r="2.0" fill="#fa2412"/><circle cx="529.7" cy="691.9" r="2.0" fill="#fa2412"/><circle cx="531.5" cy="691.1" r="2.0" fill="#fa2412"/><circle cx="533.4" cy="690.4" r="2.0" fill="#fa2412"/><circle cx="535.3" cy="689.6" r="2.0" fill="#fa2412"/><circle cx="537.1" cy="688.9" r="2.0" fill="#fa2412"/>
<rect x="369.2" y="666.2" width="169.7" height="169.8" fill="none" stroke="#000" stroke-width="1.5"/>
<line x1="362.4" y1="666.2" x2="369.2" y2="666.2" stroke="#000" stroke-width="1.4"/>
<text x="358.9" y="670.7" font-size="12.7" text-anchor="end" font-weight="normal" fill="#111" stroke="#111" stroke-width="0.3">0.12</text>
<line x1="362.4" y1="704.0" x2="369.2" y2="704.0" stroke="#000" stroke-width="1.4"/>
<text x="358.9" y="708.5" font-size="12.7" text-anchor="end" font-weight="normal" fill="#111" stroke="#111" stroke-width="0.3">0.10</text>
<line x1="362.4" y1="741.8000000000001" x2="369.2" y2="741.8000000000001" stroke="#000" stroke-width="1.4"/>
<text x="358.9" y="746.3000000000001" font-size="12.7" text-anchor="end" font-weight="normal" fill="#111" stroke="#111" stroke-width="0.3">0.08</text>
<line x1="362.4" y1="779.6" x2="369.2" y2="779.6" stroke="#000" stroke-width="1.4"/>
<text x="358.9" y="784.1" font-size="12.7" text-anchor="end" font-weight="normal" fill="#111" stroke="#111" stroke-width="0.3">0.06</text>
<line x1="362.4" y1="817.4000000000001" x2="369.2" y2="817.4000000000001" stroke="#000" stroke-width="1.4"/>
<text x="358.9" y="821.9000000000001" font-size="12.7" text-anchor="end" font-weight="normal" fill="#111" stroke="#111" stroke-width="0.3">0.04</text>
<line x1="369.4" y1="836" x2="369.4" y2="841" stroke="#000" stroke-width="1.4"/>
<text x="369.4" y="853.7" font-size="12.8" text-anchor="middle" font-weight="normal" fill="#111" stroke="#111" stroke-width="0.3">0</text>
<line x1="425.30499999999995" y1="836" x2="425.30499999999995" y2="841" stroke="#000" stroke-width="1.4"/>
<text x="425.30499999999995" y="853.7" font-size="12.8" text-anchor="middle" font-weight="normal" fill="#111" stroke="#111" stroke-width="0.3">15</text>
<line x1="481.21" y1="836" x2="481.21" y2="841" stroke="#000" stroke-width="1.4"/>
<text x="481.21" y="853.7" font-size="12.8" text-anchor="middle" font-weight="normal" fill="#111" stroke="#111" stroke-width="0.3">30</text>
<line x1="537.115" y1="836" x2="537.115" y2="841" stroke="#000" stroke-width="1.4"/>
<text x="537.115" y="853.7" font-size="12.8" text-anchor="middle" font-weight="normal" fill="#111" stroke="#111" stroke-width="0.3">45</text>
<text x="455" y="866.4" font-size="13" text-anchor="middle" font-weight="normal" fill="#111" stroke="#111" stroke-width="0.3">Time (min)</text>
<text x="326" y="741" font-size="13" text-anchor="middle" font-weight="normal" fill="#111" stroke="#111" stroke-width="0.12" transform="rotate(-90 326 741)">Turbidity (OD600)</text>
<line x1="375.6" y1="674.4" x2="394.4" y2="674.4" stroke="#fa2412" stroke-width="1.6"/>
<circle cx="385" cy="674.4" r="2.6" fill="#fa2412"/>
<text x="398.5" y="678.7" font-size="12.9" text-anchor="start" font-weight="normal" fill="#111" stroke="#111" stroke-width="0.3">GFP-FL</text>
<line x1="375.6" y1="691.1999999999999" x2="394.4" y2="691.1999999999999" stroke="#f79a96" stroke-width="1.6"/>
<circle cx="385" cy="691.1999999999999" r="2.6" fill="#f79a96"/>
<text x="398.5" y="695.5" font-size="12.9" text-anchor="start" font-weight="normal" fill="#111" stroke="#111" stroke-width="0.3">GFP-ΔMORF</text>
<line x1="375.6" y1="708.0" x2="394.4" y2="708.0" stroke="#b9a3dc" stroke-width="1.6"/>
<circle cx="385" cy="708.0" r="2.6" fill="#b9a3dc"/>
<text x="398.5" y="712.3000000000001" font-size="12.9" text-anchor="start" font-weight="normal" fill="#111" stroke="#111" stroke-width="0.3">GFP-ΔIDR</text>
</g>
<g id="panel-j">
<text x="567.5" y="667.5" font-size="22" text-anchor="start" font-weight="bold" fill="#000">j</text>
<path d="M622.1 823.3 L628.9 823.3 L642.5 823.3 L649.4 822.7 L663.0 821.6 L669.8 819.3 L683.4 823.9 L690.3 824.4 L697.1 821.0 L703.9 820.7 L710.7 822.7 L724.3 821.9 L744.8 821.9 L751.6 822.2 L765.2 823.9 L772.1 822.7 L778.9 819.9 L785.7 822.7 L792.5 824.4" fill="none" stroke="#b9a3dc" stroke-width="1.5" stroke-linejoin="round"/><circle cx="622.1" cy="823.3" r="2.3" fill="#b9a3dc"/><circle cx="628.9" cy="823.3" r="2.3" fill="#b9a3dc"/><circle cx="642.5" cy="823.3" r="2.3" fill="#b9a3dc"/><circle cx="649.4" cy="822.7" r="2.3" fill="#b9a3dc"/><circle cx="663.0" cy="821.6" r="2.3" fill="#b9a3dc"/><circle cx="669.8" cy="819.3" r="2.3" fill="#b9a3dc"/><circle cx="683.4" cy="823.9" r="2.3" fill="#b9a3dc"/><circle cx="690.3" cy="824.4" r="2.3" fill="#b9a3dc"/><circle cx="697.1" cy="821.0" r="2.3" fill="#b9a3dc"/><circle cx="703.9" cy="820.7" r="2.3" fill="#b9a3dc"/><circle cx="710.7" cy="822.7" r="2.3" fill="#b9a3dc"/><circle cx="724.3" cy="821.9" r="2.3" fill="#b9a3dc"/><circle cx="744.8" cy="821.9" r="2.3" fill="#b9a3dc"/><circle cx="751.6" cy="822.2" r="2.3" fill="#b9a3dc"/><circle cx="765.2" cy="823.9" r="2.3" fill="#b9a3dc"/><circle cx="772.1" cy="822.7" r="2.3" fill="#b9a3dc"/><circle cx="778.9" cy="819.9" r="2.3" fill="#b9a3dc"/><circle cx="785.7" cy="822.7" r="2.3" fill="#b9a3dc"/><circle cx="792.5" cy="824.4" r="2.3" fill="#b9a3dc"/>
<path d="M622.1 821.0 L628.9 819.9 L642.5 820.5 L649.4 818.8 L663.0 817.1 L669.8 817.1 L683.4 814.2 L690.3 812.5 L697.1 813.6 L703.9 811.1 L710.7 806.3 L724.3 796.6 L744.8 788.1 L751.6 755.1 L765.2 743.8 L772.1 733.0 L778.9 715.9 L785.7 711.4 L792.5 689.8" fill="none" stroke="#f79a96" stroke-width="1.5" stroke-linejoin="round"/><circle cx="622.1" cy="821.0" r="2.3" fill="#f79a96"/><circle cx="628.9" cy="819.9" r="2.3" fill="#f79a96"/><circle cx="642.5" cy="820.5" r="2.3" fill="#f79a96"/><circle cx="649.4" cy="818.8" r="2.3" fill="#f79a96"/><circle cx="663.0" cy="817.1" r="2.3" fill="#f79a96"/><circle cx="669.8" cy="817.1" r="2.3" fill="#f79a96"/><circle cx="683.4" cy="814.2" r="2.3" fill="#f79a96"/><circle cx="690.3" cy="812.5" r="2.3" fill="#f79a96"/><circle cx="697.1" cy="813.6" r="2.3" fill="#f79a96"/><circle cx="703.9" cy="811.1" r="2.3" fill="#f79a96"/><circle cx="710.7" cy="806.3" r="2.3" fill="#f79a96"/><circle cx="724.3" cy="796.6" r="2.3" fill="#f79a96"/><circle cx="744.8" cy="788.1" r="2.3" fill="#f79a96"/><circle cx="751.6" cy="755.1" r="2.3" fill="#f79a96"/><circle cx="765.2" cy="743.8" r="2.3" fill="#f79a96"/><circle cx="772.1" cy="733.0" r="2.3" fill="#f79a96"/><circle cx="778.9" cy="715.9" r="2.3" fill="#f79a96"/><circle cx="785.7" cy="711.4" r="2.3" fill="#f79a96"/><circle cx="792.5" cy="689.8" r="2.3" fill="#f79a96"/>
<path d="M622.1 826.4 L628.9 825.0 L642.5 826.7 L649.4 825.2 L663.0 821.9 L669.8 825.6 L683.4 825.0 L690.3 825.0 L697.1 820.7 L703.9 815.3 L710.7 820.7 L724.3 816.8 L744.8 809.7 L751.6 793.4 L765.2 770.6 L772.1 757.2 L778.9 735.0 L785.7 714.0 L792.5 704.1" fill="none" stroke="#f03cf0" stroke-width="1.5" stroke-linejoin="round"/><circle cx="622.1" cy="826.4" r="2.3" fill="#f03cf0"/><circle cx="628.9" cy="825.0" r="2.3" fill="#f03cf0"/><circle cx="642.5" cy="826.7" r="2.3" fill="#f03cf0"/><circle cx="649.4" cy="825.2" r="2.3" fill="#f03cf0"/><circle cx="663.0" cy="821.9" r="2.3" fill="#f03cf0"/><circle cx="669.8" cy="825.6" r="2.3" fill="#f03cf0"/><circle cx="683.4" cy="825.0" r="2.3" fill="#f03cf0"/><circle cx="690.3" cy="825.0" r="2.3" fill="#f03cf0"/><circle cx="697.1" cy="820.7" r="2.3" fill="#f03cf0"/><circle cx="703.9" cy="815.3" r="2.3" fill="#f03cf0"/><circle cx="710.7" cy="820.7" r="2.3" fill="#f03cf0"/><circle cx="724.3" cy="816.8" r="2.3" fill="#f03cf0"/><circle cx="744.8" cy="809.7" r="2.3" fill="#f03cf0"/><circle cx="751.6" cy="793.4" r="2.3" fill="#f03cf0"/><circle cx="765.2" cy="770.6" r="2.3" fill="#f03cf0"/><circle cx="772.1" cy="757.2" r="2.3" fill="#f03cf0"/><circle cx="778.9" cy="735.0" r="2.3" fill="#f03cf0"/><circle cx="785.7" cy="714.0" r="2.3" fill="#f03cf0"/><circle cx="792.5" cy="704.1" r="2.3" fill="#f03cf0"/>
<path d="M622.1 820.1 L628.9 818.9 L642.5 819.9 L649.4 818.3 L663.0 816.5 L669.8 816.5 L683.4 812.6 L690.3 809.7 L697.1 806.3 L703.9 803.4 L710.7 794.6 L724.3 788.4 L744.8 771.6 L751.6 766.5 L765.2 740.9 L772.1 727.3 L778.9 715.4 L785.7 681.9 L792.5 676.8" fill="none" stroke="#fa2412" stroke-width="1.5" stroke-linejoin="round"/><circle cx="622.1" cy="820.1" r="2.3" fill="#fa2412"/><circle cx="628.9" cy="818.9" r="2.3" fill="#fa2412"/><circle cx="642.5" cy="819.9" r="2.3" fill="#fa2412"/><circle cx="649.4" cy="818.3" r="2.3" fill="#fa2412"/><circle cx="663.0" cy="816.5" r="2.3" fill="#fa2412"/><circle cx="669.8" cy="816.5" r="2.3" fill="#fa2412"/><circle cx="683.4" cy="812.6" r="2.3" fill="#fa2412"/><circle cx="690.3" cy="809.7" r="2.3" fill="#fa2412"/><circle cx="697.1" cy="806.3" r="2.3" fill="#fa2412"/><circle cx="703.9" cy="803.4" r="2.3" fill="#fa2412"/><circle cx="710.7" cy="794.6" r="2.3" fill="#fa2412"/><circle cx="724.3" cy="788.4" r="2.3" fill="#fa2412"/><circle cx="744.8" cy="771.6" r="2.3" fill="#fa2412"/><circle cx="751.6" cy="766.5" r="2.3" fill="#fa2412"/><circle cx="765.2" cy="740.9" r="2.3" fill="#fa2412"/><circle cx="772.1" cy="727.3" r="2.3" fill="#fa2412"/><circle cx="778.9" cy="715.4" r="2.3" fill="#fa2412"/><circle cx="785.7" cy="681.9" r="2.3" fill="#fa2412"/><circle cx="792.5" cy="676.8" r="2.3" fill="#fa2412"/>
<rect x="622.3" y="667" width="170.2" height="170.5" fill="none" stroke="#000" stroke-width="1.5"/>
<line x1="615.5" y1="837.5" x2="622.3" y2="837.5" stroke="#000" stroke-width="1.4"/>
<text x="612.0" y="842.0" font-size="12.8" text-anchor="end" font-weight="normal" fill="#111" stroke="#111" stroke-width="0.3">0</text>
<line x1="615.5" y1="780.7" x2="622.3" y2="780.7" stroke="#000" stroke-width="1.4"/>
<text x="612.0" y="785.2" font-size="12.8" text-anchor="end" font-weight="normal" fill="#111" stroke="#111" stroke-width="0.3">100</text>
<line x1="615.5" y1="723.9" x2="622.3" y2="723.9" stroke="#000" stroke-width="1.4"/>
<text x="612.0" y="728.4" font-size="12.8" text-anchor="end" font-weight="normal" fill="#111" stroke="#111" stroke-width="0.3">200</text>
<line x1="615.5" y1="667.1" x2="622.3" y2="667.1" stroke="#000" stroke-width="1.4"/>
<text x="612.0" y="671.6" font-size="12.8" text-anchor="end" font-weight="normal" fill="#111" stroke="#111" stroke-width="0.3">300</text>
<line x1="622.1" y1="837.5" x2="622.1" y2="843.5" stroke="#000" stroke-width="1.4"/>
<text x="622.1" y="857.9" font-size="12.8" text-anchor="middle" font-weight="normal" fill="#111" stroke="#111" stroke-width="0.3">25</text>
<line x1="656.1800000000001" y1="837.5" x2="656.1800000000001" y2="843.5" stroke="#000" stroke-width="1.4"/>
<text x="656.1800000000001" y="857.9" font-size="12.8" text-anchor="middle" font-weight="normal" fill="#111" stroke="#111" stroke-width="0.3">30</text>
<line x1="690.26" y1="837.5" x2="690.26" y2="843.5" stroke="#000" stroke-width="1.4"/>
<text x="690.26" y="857.9" font-size="12.8" text-anchor="middle" font-weight="normal" fill="#111" stroke="#111" stroke-width="0.3">35</text>
<line x1="724.34" y1="837.5" x2="724.34" y2="843.5" stroke="#000" stroke-width="1.4"/>
<text x="724.34" y="857.9" font-size="12.8" text-anchor="middle" font-weight="normal" fill="#111" stroke="#111" stroke-width="0.3">40</text>
<line x1="758.4200000000001" y1="837.5" x2="758.4200000000001" y2="843.5" stroke="#000" stroke-width="1.4"/>
<text x="758.4200000000001" y="857.9" font-size="12.8" text-anchor="middle" font-weight="normal" fill="#111" stroke="#111" stroke-width="0.3">45</text>
<line x1="792.5" y1="837.5" x2="792.5" y2="843.5" stroke="#000" stroke-width="1.4"/>
<text x="792.5" y="857.9" font-size="12.8" text-anchor="middle" font-weight="normal" fill="#111" stroke="#111" stroke-width="0.3">50</text>
<text x="709" y="874.2" font-size="12.9" text-anchor="middle" font-weight="normal" fill="#111" stroke="#111" stroke-width="0.3">Temperature (°C)</text>
<text x="582.5" y="752" font-size="12.8" text-anchor="middle" font-weight="normal" fill="#111" stroke="#111" stroke-width="0.12" transform="rotate(-90 582.5 752)">Hydration radius (nm)</text>
<line x1="631.5" y1="682.1" x2="649.8" y2="682.1" stroke="#fa2412" stroke-width="1.6"/>
<circle cx="640.6" cy="682.1" r="2.6" fill="#fa2412"/>
<text x="655.4" y="686.2" font-size="12.9" text-anchor="start" font-weight="normal" fill="#111" stroke="#111" stroke-width="0.3">GFP-FL</text>
<line x1="631.5" y1="701.6" x2="649.8" y2="701.6" stroke="#f79a96" stroke-width="1.6"/>
<circle cx="640.6" cy="701.6" r="2.6" fill="#f79a96"/>
<text x="655.4" y="705.7" font-size="12.9" text-anchor="start" font-weight="normal" fill="#111" stroke="#111" stroke-width="0.3">GFP-ΔMORF</text>
<line x1="631.5" y1="721.7" x2="649.8" y2="721.7" stroke="#b9a3dc" stroke-width="1.6"/>
<circle cx="640.6" cy="721.7" r="2.6" fill="#b9a3dc"/>
<text x="655.4" y="725.8000000000001" font-size="12.9" text-anchor="start" font-weight="normal" fill="#111" stroke="#111" stroke-width="0.3">GFP-ΔIDR</text>
<line x1="631.5" y1="739.7" x2="649.8" y2="739.7" stroke="#f03cf0" stroke-width="1.6"/>
<circle cx="640.6" cy="739.7" r="2.6" fill="#f03cf0"/>
<text x="655.4" y="743.8000000000001" font-size="12.9" text-anchor="start" font-weight="normal" fill="#111" stroke="#111" stroke-width="0.3">GFP-IDR</text>
</g>
</svg>
</body></html>
